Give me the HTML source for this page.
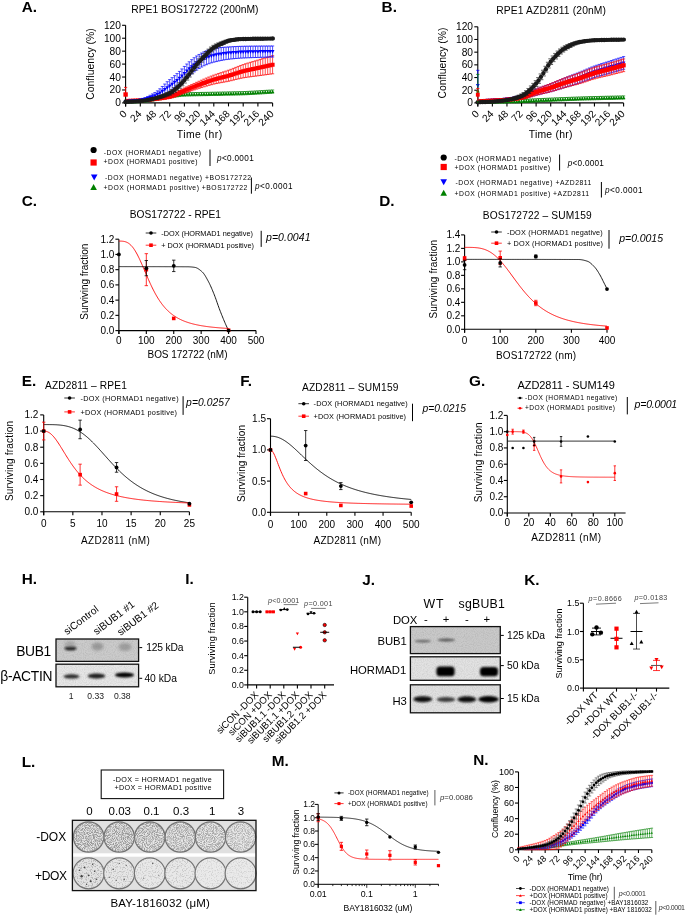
<!DOCTYPE html>
<html><head><meta charset="utf-8"><style>
html,body{margin:0;padding:0;background:#fff;width:685px;height:915px;overflow:hidden}
svg{display:block;will-change:transform}
text{font-family:"Liberation Sans", sans-serif}
</style></head><body>
<svg width="685" height="915" viewBox="0 0 685 915">
<defs>
<filter id="b1" x="-50%" y="-100%" width="200%" height="300%"><feGaussianBlur stdDeviation="0.9"/></filter>
<filter id="b2" x="-50%" y="-100%" width="200%" height="300%"><feGaussianBlur stdDeviation="1.8"/></filter>
<filter id="noise" x="0" y="0" width="100%" height="100%"><feTurbulence type="fractalNoise" baseFrequency="0.9" numOctaves="2" seed="3" result="n"/><feColorMatrix in="n" type="matrix" values="0 0 0 0 0  0 0 0 0 0  0 0 0 0 0  0 0 0 1.6 -0.6"/></filter>
<filter id="speck" x="0" y="0" width="100%" height="100%"><feTurbulence type="fractalNoise" baseFrequency="1.1" numOctaves="3" seed="7" result="n"/><feColorMatrix in="n" type="matrix" values="0 0 0 0 0.3  0 0 0 0 0.3  0 0 0 0 0.3  0 0 0 3.2 -1.15" result="m"/><feComposite in="m" in2="SourceGraphic" operator="in"/></filter>
<filter id="speck2" x="0" y="0" width="100%" height="100%"><feTurbulence type="fractalNoise" baseFrequency="0.8" numOctaves="2" seed="11" result="n"/><feColorMatrix in="n" type="matrix" values="0 0 0 0 0.4  0 0 0 0 0.4  0 0 0 0 0.4  0 0 0 4.5 -2.2" result="m"/><feComposite in="m" in2="SourceGraphic" operator="in"/></filter>
</defs>
<rect width="685" height="915" fill="#fff"/>
<text x="21.70" y="11.73" font-size="15.3" font-weight="bold">A.</text>
<line x1="125.60" y1="25.30" x2="125.60" y2="106.40" stroke="#000" stroke-width="1.1" />
<line x1="122.10" y1="102.90" x2="125.60" y2="102.90" stroke="#000" stroke-width="1.1" />
<text x="120.90" y="106.41" font-size="10.2" text-anchor="end">0</text>
<line x1="122.10" y1="89.97" x2="125.60" y2="89.97" stroke="#000" stroke-width="1.1" />
<text x="120.90" y="93.48" font-size="10.2" text-anchor="end">20</text>
<line x1="122.10" y1="77.03" x2="125.60" y2="77.03" stroke="#000" stroke-width="1.1" />
<text x="120.90" y="80.54" font-size="10.2" text-anchor="end">40</text>
<line x1="122.10" y1="64.10" x2="125.60" y2="64.10" stroke="#000" stroke-width="1.1" />
<text x="120.90" y="67.61" font-size="10.2" text-anchor="end">60</text>
<line x1="122.10" y1="51.17" x2="125.60" y2="51.17" stroke="#000" stroke-width="1.1" />
<text x="120.90" y="54.68" font-size="10.2" text-anchor="end">80</text>
<line x1="122.10" y1="38.23" x2="125.60" y2="38.23" stroke="#000" stroke-width="1.1" />
<text x="120.90" y="41.74" font-size="10.2" text-anchor="end">100</text>
<line x1="122.10" y1="25.30" x2="125.60" y2="25.30" stroke="#000" stroke-width="1.1" />
<text x="120.90" y="28.81" font-size="10.2" text-anchor="end">120</text>
<line x1="125.60" y1="102.90" x2="272.60" y2="102.90" stroke="#000" stroke-width="1.1" />
<line x1="125.60" y1="102.90" x2="125.60" y2="106.40" stroke="#000" stroke-width="1.1" />
<text x="127.60" y="114.50" font-size="10.2" text-anchor="end" transform="rotate(-45 127.60 114.50)">0</text>
<line x1="140.30" y1="102.90" x2="140.30" y2="106.40" stroke="#000" stroke-width="1.1" />
<text x="142.30" y="114.50" font-size="10.2" text-anchor="end" transform="rotate(-45 142.30 114.50)">24</text>
<line x1="155.00" y1="102.90" x2="155.00" y2="106.40" stroke="#000" stroke-width="1.1" />
<text x="157.00" y="114.50" font-size="10.2" text-anchor="end" transform="rotate(-45 157.00 114.50)">48</text>
<line x1="169.70" y1="102.90" x2="169.70" y2="106.40" stroke="#000" stroke-width="1.1" />
<text x="171.70" y="114.50" font-size="10.2" text-anchor="end" transform="rotate(-45 171.70 114.50)">72</text>
<line x1="184.40" y1="102.90" x2="184.40" y2="106.40" stroke="#000" stroke-width="1.1" />
<text x="186.40" y="114.50" font-size="10.2" text-anchor="end" transform="rotate(-45 186.40 114.50)">96</text>
<line x1="199.10" y1="102.90" x2="199.10" y2="106.40" stroke="#000" stroke-width="1.1" />
<text x="201.10" y="114.50" font-size="10.2" text-anchor="end" transform="rotate(-45 201.10 114.50)">120</text>
<line x1="213.80" y1="102.90" x2="213.80" y2="106.40" stroke="#000" stroke-width="1.1" />
<text x="215.80" y="114.50" font-size="10.2" text-anchor="end" transform="rotate(-45 215.80 114.50)">144</text>
<line x1="228.50" y1="102.90" x2="228.50" y2="106.40" stroke="#000" stroke-width="1.1" />
<text x="230.50" y="114.50" font-size="10.2" text-anchor="end" transform="rotate(-45 230.50 114.50)">168</text>
<line x1="243.20" y1="102.90" x2="243.20" y2="106.40" stroke="#000" stroke-width="1.1" />
<text x="245.20" y="114.50" font-size="10.2" text-anchor="end" transform="rotate(-45 245.20 114.50)">192</text>
<line x1="257.90" y1="102.90" x2="257.90" y2="106.40" stroke="#000" stroke-width="1.1" />
<text x="259.90" y="114.50" font-size="10.2" text-anchor="end" transform="rotate(-45 259.90 114.50)">216</text>
<line x1="272.60" y1="102.90" x2="272.60" y2="106.40" stroke="#000" stroke-width="1.1" />
<text x="274.60" y="114.50" font-size="10.2" text-anchor="end" transform="rotate(-45 274.60 114.50)">240</text>
<text x="131.20" y="12.94" font-size="10.3" textLength="127.30">RPE1 BOS172722 (200nM)</text>
<text x="93.60" y="64.00" font-size="10.4" text-anchor="middle" textLength="71.70" fill="#000" transform="rotate(-90 93.60 64.00)">Confluency (%)</text>
<text x="176.80" y="137.88" font-size="10.4" textLength="45.30">Time  (hr)</text>
<path d="M125.60,99.99V102.90M124.00,99.99h3.20M124.00,102.90h3.20M128.05,99.89V102.90M126.45,99.89h3.20M126.45,102.90h3.20M130.50,99.80V102.90M128.90,99.80h3.20M128.90,102.90h3.20M132.95,99.71V102.90M131.35,99.71h3.20M131.35,102.90h3.20M135.40,99.61V102.84M133.80,99.61h3.20M133.80,102.84h3.20M137.85,99.49V102.72M136.25,99.49h3.20M136.25,102.72h3.20M140.30,99.34V102.58M138.70,99.34h3.20M138.70,102.58h3.20M142.75,99.14V102.37M141.15,99.14h3.20M141.15,102.37h3.20M145.20,98.86V102.09M143.60,98.86h3.20M143.60,102.09h3.20M147.65,98.53V101.76M146.05,98.53h3.20M146.05,101.76h3.20M150.10,98.16V101.40M148.50,98.16h3.20M148.50,101.40h3.20M152.55,97.78V101.01M150.95,97.78h3.20M150.95,101.01h3.20M155.00,97.40V100.64M153.40,97.40h3.20M153.40,100.64h3.20M157.45,97.01V100.24M155.85,97.01h3.20M155.85,100.24h3.20M159.90,96.57V99.80M158.30,96.57h3.20M158.30,99.80h3.20M162.35,96.11V99.34M160.75,96.11h3.20M160.75,99.34h3.20M164.80,95.65V98.88M163.20,95.65h3.20M163.20,98.88h3.20M167.25,95.21V98.45M165.65,95.21h3.20M165.65,98.45h3.20M169.70,94.82V98.05M168.10,94.82h3.20M168.10,98.05h3.20M172.15,94.43V97.66M170.55,94.43h3.20M170.55,97.66h3.20M174.60,94.03V97.26M173.00,94.03h3.20M173.00,97.26h3.20M177.05,93.64V96.88M175.45,93.64h3.20M175.45,96.88h3.20M179.50,93.30V96.54M177.90,93.30h3.20M177.90,96.54h3.20M181.95,93.04V96.27M180.35,93.04h3.20M180.35,96.27h3.20M184.40,92.88V96.11M182.80,92.88h3.20M182.80,96.11h3.20M186.85,92.78V96.02M185.25,92.78h3.20M185.25,96.02h3.20M189.30,92.70V95.94M187.70,92.70h3.20M187.70,95.94h3.20M191.75,92.64V95.87M190.15,92.64h3.20M190.15,95.87h3.20M194.20,92.58V95.81M192.60,92.58h3.20M192.60,95.81h3.20M196.65,92.53V95.76M195.05,92.53h3.20M195.05,95.76h3.20M199.10,92.48V95.72M197.50,92.48h3.20M197.50,95.72h3.20M201.55,92.44V95.68M199.95,92.44h3.20M199.95,95.68h3.20M204.00,92.40V95.64M202.40,92.40h3.20M202.40,95.64h3.20M206.45,92.37V95.60M204.85,92.37h3.20M204.85,95.60h3.20M208.90,92.32V95.56M207.30,92.32h3.20M207.30,95.56h3.20M211.35,92.28V95.51M209.75,92.28h3.20M209.75,95.51h3.20M213.80,92.23V95.46M212.20,92.23h3.20M212.20,95.46h3.20M216.25,92.18V95.41M214.65,92.18h3.20M214.65,95.41h3.20M218.70,92.13V95.36M217.10,92.13h3.20M217.10,95.36h3.20M221.15,92.08V95.31M219.55,92.08h3.20M219.55,95.31h3.20M223.60,92.03V95.27M222.00,92.03h3.20M222.00,95.27h3.20M226.05,91.99V95.22M224.45,91.99h3.20M224.45,95.22h3.20M228.50,91.94V95.17M226.90,91.94h3.20M226.90,95.17h3.20M230.95,91.89V95.13M229.35,91.89h3.20M229.35,95.13h3.20M233.40,91.84V95.07M231.80,91.84h3.20M231.80,95.07h3.20M235.85,91.78V95.02M234.25,91.78h3.20M234.25,95.02h3.20M238.30,91.72V94.96M236.70,91.72h3.20M236.70,94.96h3.20M240.75,91.66V94.89M239.15,91.66h3.20M239.15,94.89h3.20M243.20,91.58V94.82M241.60,91.58h3.20M241.60,94.82h3.20M245.65,91.50V94.73M244.05,91.50h3.20M244.05,94.73h3.20M248.10,91.39V94.63M246.50,91.39h3.20M246.50,94.63h3.20M250.55,91.28V94.51M248.95,91.28h3.20M248.95,94.51h3.20M253.00,91.15V94.38M251.40,91.15h3.20M251.40,94.38h3.20M255.45,91.01V94.24M253.85,91.01h3.20M253.85,94.24h3.20M257.90,90.86V94.09M256.30,90.86h3.20M256.30,94.09h3.20M260.35,90.71V93.94M258.75,90.71h3.20M258.75,93.94h3.20M262.80,90.56V93.79M261.20,90.56h3.20M261.20,93.79h3.20M265.25,90.40V93.64M263.65,90.40h3.20M263.65,93.64h3.20M267.70,90.25V93.49M266.10,90.25h3.20M266.10,93.49h3.20M270.15,90.11V93.34M268.55,90.11h3.20M268.55,93.34h3.20M272.60,89.97V93.20M271.00,89.97h3.20M271.00,93.20h3.20" stroke="#008000" stroke-width="0.7" fill="none" />
<path d="M123.90,103.05 L127.30,103.05 L125.60,99.91Z" fill="#008000"/>
<path d="M126.35,102.95 L129.75,102.95 L128.05,99.81Z" fill="#008000"/>
<path d="M128.80,102.86 L132.20,102.86 L130.50,99.72Z" fill="#008000"/>
<path d="M131.25,102.77 L134.65,102.77 L132.95,99.62Z" fill="#008000"/>
<path d="M133.70,102.67 L137.10,102.67 L135.40,99.52Z" fill="#008000"/>
<path d="M136.15,102.55 L139.55,102.55 L137.85,99.41Z" fill="#008000"/>
<path d="M138.60,102.41 L142.00,102.41 L140.30,99.26Z" fill="#008000"/>
<path d="M141.05,102.20 L144.45,102.20 L142.75,99.06Z" fill="#008000"/>
<path d="M143.50,101.92 L146.90,101.92 L145.20,98.78Z" fill="#008000"/>
<path d="M145.95,101.59 L149.35,101.59 L147.65,98.45Z" fill="#008000"/>
<path d="M148.40,101.22 L151.80,101.22 L150.10,98.08Z" fill="#008000"/>
<path d="M150.85,100.84 L154.25,100.84 L152.55,97.70Z" fill="#008000"/>
<path d="M153.30,100.47 L156.70,100.47 L155.00,97.32Z" fill="#008000"/>
<path d="M155.75,100.07 L159.15,100.07 L157.45,96.92Z" fill="#008000"/>
<path d="M158.20,99.63 L161.60,99.63 L159.90,96.49Z" fill="#008000"/>
<path d="M160.65,99.17 L164.05,99.17 L162.35,96.03Z" fill="#008000"/>
<path d="M163.10,98.71 L166.50,98.71 L164.80,95.57Z" fill="#008000"/>
<path d="M165.55,98.28 L168.95,98.28 L167.25,95.13Z" fill="#008000"/>
<path d="M168.00,97.88 L171.40,97.88 L169.70,94.73Z" fill="#008000"/>
<path d="M170.45,97.49 L173.85,97.49 L172.15,94.35Z" fill="#008000"/>
<path d="M172.90,97.09 L176.30,97.09 L174.60,93.95Z" fill="#008000"/>
<path d="M175.35,96.71 L178.75,96.71 L177.05,93.56Z" fill="#008000"/>
<path d="M177.80,96.37 L181.20,96.37 L179.50,93.22Z" fill="#008000"/>
<path d="M180.25,96.10 L183.65,96.10 L181.95,92.96Z" fill="#008000"/>
<path d="M182.70,95.94 L186.10,95.94 L184.40,92.79Z" fill="#008000"/>
<path d="M185.15,95.85 L188.55,95.85 L186.85,92.70Z" fill="#008000"/>
<path d="M187.60,95.77 L191.00,95.77 L189.30,92.62Z" fill="#008000"/>
<path d="M190.05,95.70 L193.45,95.70 L191.75,92.55Z" fill="#008000"/>
<path d="M192.50,95.64 L195.90,95.64 L194.20,92.50Z" fill="#008000"/>
<path d="M194.95,95.59 L198.35,95.59 L196.65,92.44Z" fill="#008000"/>
<path d="M197.40,95.55 L200.80,95.55 L199.10,92.40Z" fill="#008000"/>
<path d="M199.85,95.50 L203.25,95.50 L201.55,92.36Z" fill="#008000"/>
<path d="M202.30,95.47 L205.70,95.47 L204.00,92.32Z" fill="#008000"/>
<path d="M204.75,95.43 L208.15,95.43 L206.45,92.28Z" fill="#008000"/>
<path d="M207.20,95.39 L210.60,95.39 L208.90,92.24Z" fill="#008000"/>
<path d="M209.65,95.34 L213.05,95.34 L211.35,92.20Z" fill="#008000"/>
<path d="M212.10,95.29 L215.50,95.29 L213.80,92.15Z" fill="#008000"/>
<path d="M214.55,95.24 L217.95,95.24 L216.25,92.09Z" fill="#008000"/>
<path d="M217.00,95.19 L220.40,95.19 L218.70,92.05Z" fill="#008000"/>
<path d="M219.45,95.14 L222.85,95.14 L221.15,92.00Z" fill="#008000"/>
<path d="M221.90,95.10 L225.30,95.10 L223.60,91.95Z" fill="#008000"/>
<path d="M224.35,95.05 L227.75,95.05 L226.05,91.91Z" fill="#008000"/>
<path d="M226.80,95.00 L230.20,95.00 L228.50,91.86Z" fill="#008000"/>
<path d="M229.25,94.95 L232.65,94.95 L230.95,91.81Z" fill="#008000"/>
<path d="M231.70,94.90 L235.10,94.90 L233.40,91.76Z" fill="#008000"/>
<path d="M234.15,94.85 L237.55,94.85 L235.85,91.70Z" fill="#008000"/>
<path d="M236.60,94.78 L240.00,94.78 L238.30,91.64Z" fill="#008000"/>
<path d="M239.05,94.72 L242.45,94.72 L240.75,91.57Z" fill="#008000"/>
<path d="M241.50,94.64 L244.90,94.64 L243.20,91.50Z" fill="#008000"/>
<path d="M243.95,94.56 L247.35,94.56 L245.65,91.41Z" fill="#008000"/>
<path d="M246.40,94.46 L249.80,94.46 L248.10,91.31Z" fill="#008000"/>
<path d="M248.85,94.34 L252.25,94.34 L250.55,91.19Z" fill="#008000"/>
<path d="M251.30,94.21 L254.70,94.21 L253.00,91.06Z" fill="#008000"/>
<path d="M253.75,94.07 L257.15,94.07 L255.45,90.92Z" fill="#008000"/>
<path d="M256.20,93.92 L259.60,93.92 L257.90,90.78Z" fill="#008000"/>
<path d="M258.65,93.77 L262.05,93.77 L260.35,90.63Z" fill="#008000"/>
<path d="M261.10,93.62 L264.50,93.62 L262.80,90.47Z" fill="#008000"/>
<path d="M263.55,93.46 L266.95,93.46 L265.25,90.32Z" fill="#008000"/>
<path d="M266.00,93.31 L269.40,93.31 L267.70,90.17Z" fill="#008000"/>
<path d="M268.45,93.17 L271.85,93.17 L270.15,90.02Z" fill="#008000"/>
<path d="M270.90,93.03 L274.30,93.03 L272.60,89.88Z" fill="#008000"/>
<path d="M128.05,100.51V101.21M126.45,100.51h3.20M126.45,101.21h3.20M130.50,100.39V101.13M128.90,100.39h3.20M128.90,101.13h3.20M132.95,100.27V101.06M131.35,100.27h3.20M131.35,101.06h3.20M135.40,100.15V100.97M133.80,100.15h3.20M133.80,100.97h3.20M137.85,100.01V100.88M136.25,100.01h3.20M136.25,100.88h3.20M140.30,99.86V100.77M138.70,99.86h3.20M138.70,100.77h3.20M142.75,99.68V100.64M141.15,99.68h3.20M141.15,100.64h3.20M145.20,99.47V100.48M143.60,99.47h3.20M143.60,100.48h3.20M147.65,99.23V100.30M146.05,99.23h3.20M146.05,100.30h3.20M150.10,98.97V100.10M148.50,98.97h3.20M148.50,100.10h3.20M152.55,98.68V99.89M150.95,98.68h3.20M150.95,99.89h3.20M155.00,98.37V99.67M153.40,98.37h3.20M153.40,99.67h3.20M157.45,98.03V99.45M155.85,98.03h3.20M155.85,99.45h3.20M159.90,97.62V99.24M158.30,97.62h3.20M158.30,99.24h3.20M162.35,97.16V99.03M160.75,97.16h3.20M160.75,99.03h3.20M164.80,96.62V98.80M163.20,96.62h3.20M163.20,98.80h3.20M167.25,96.01V98.53M165.65,96.01h3.20M165.65,98.53h3.20M169.70,95.31V98.20M168.10,95.31h3.20M168.10,98.20h3.20M172.15,94.42V97.70M170.55,94.42h3.20M170.55,97.70h3.20M174.60,93.28V96.95M173.00,93.28h3.20M173.00,96.95h3.20M177.05,91.98V96.06M175.45,91.98h3.20M175.45,96.06h3.20M179.50,90.62V95.08M177.90,90.62h3.20M177.90,95.08h3.20M181.95,89.27V94.10M180.35,89.27h3.20M180.35,94.10h3.20M184.40,88.03V93.20M182.80,88.03h3.20M182.80,93.20h3.20M186.85,86.87V92.36M185.25,86.87h3.20M185.25,92.36h3.20M189.30,85.72V91.53M187.70,85.72h3.20M187.70,91.53h3.20M191.75,84.58V90.71M190.15,84.58h3.20M190.15,90.71h3.20M194.20,83.45V89.89M192.60,83.45h3.20M192.60,89.89h3.20M196.65,82.34V89.10M195.05,82.34h3.20M195.05,89.10h3.20M199.10,81.26V88.33M197.50,81.26h3.20M197.50,88.33h3.20M201.55,80.19V87.57M199.95,80.19h3.20M199.95,87.57h3.20M204.00,79.12V86.82M202.40,79.12h3.20M202.40,86.82h3.20M206.45,78.07V86.08M204.85,78.07h3.20M204.85,86.08h3.20M208.90,77.05V85.38M207.30,77.05h3.20M207.30,85.38h3.20M211.35,76.07V84.71M209.75,76.07h3.20M209.75,84.71h3.20M213.80,75.14V84.10M212.20,75.14h3.20M212.20,84.10h3.20M216.25,74.27V83.56M214.65,74.27h3.20M214.65,83.56h3.20M218.70,73.46V83.08M217.10,73.46h3.20M217.10,83.08h3.20M221.15,72.67V82.63M219.55,72.67h3.20M219.55,82.63h3.20M223.60,71.89V82.18M222.00,71.89h3.20M222.00,82.18h3.20M226.05,71.09V81.73M224.45,71.09h3.20M224.45,81.73h3.20M228.50,70.24V81.24M226.90,70.24h3.20M226.90,81.24h3.20M230.95,69.33V80.69M229.35,69.33h3.20M229.35,80.69h3.20M233.40,68.37V80.09M231.80,68.37h3.20M231.80,80.09h3.20M235.85,67.38V79.47M234.25,67.38h3.20M234.25,79.47h3.20M238.30,66.40V78.88M236.70,66.40h3.20M236.70,78.88h3.20M240.75,65.46V78.32M239.15,65.46h3.20M239.15,78.32h3.20M243.20,64.58V77.84M241.60,64.58h3.20M241.60,77.84h3.20M245.65,63.78V77.44M244.05,63.78h3.20M244.05,77.44h3.20M248.10,63.03V77.08M246.50,63.03h3.20M246.50,77.08h3.20M250.55,62.30V76.76M248.95,62.30h3.20M248.95,76.76h3.20M253.00,61.58V76.45M251.40,61.58h3.20M251.40,76.45h3.20M255.45,60.87V76.14M253.85,60.87h3.20M253.85,76.14h3.20M257.90,60.14V75.82M256.30,60.14h3.20M256.30,75.82h3.20M260.35,59.40V75.49M258.75,59.40h3.20M258.75,75.49h3.20M262.80,58.65V75.15M261.20,58.65h3.20M261.20,75.15h3.20M265.25,57.91V74.82M263.65,57.91h3.20M263.65,74.82h3.20M267.70,57.17V74.48M266.10,57.17h3.20M266.10,74.48h3.20M270.15,56.43V74.14M268.55,56.43h3.20M268.55,74.14h3.20M272.60,55.69V73.80M271.00,55.69h3.20M271.00,73.80h3.20" stroke="#ff0000" stroke-width="0.7" fill="none" />
<rect x="126.05" y="98.86" width="4.00" height="4.00" fill="#ff0000"/>
<rect x="128.50" y="98.76" width="4.00" height="4.00" fill="#ff0000"/>
<rect x="130.95" y="98.66" width="4.00" height="4.00" fill="#ff0000"/>
<rect x="133.40" y="98.56" width="4.00" height="4.00" fill="#ff0000"/>
<rect x="135.85" y="98.45" width="4.00" height="4.00" fill="#ff0000"/>
<rect x="138.30" y="98.31" width="4.00" height="4.00" fill="#ff0000"/>
<rect x="140.75" y="98.16" width="4.00" height="4.00" fill="#ff0000"/>
<rect x="143.20" y="97.97" width="4.00" height="4.00" fill="#ff0000"/>
<rect x="145.65" y="97.76" width="4.00" height="4.00" fill="#ff0000"/>
<rect x="148.10" y="97.54" width="4.00" height="4.00" fill="#ff0000"/>
<rect x="150.55" y="97.29" width="4.00" height="4.00" fill="#ff0000"/>
<rect x="153.00" y="97.02" width="4.00" height="4.00" fill="#ff0000"/>
<rect x="155.45" y="96.74" width="4.00" height="4.00" fill="#ff0000"/>
<rect x="157.90" y="96.43" width="4.00" height="4.00" fill="#ff0000"/>
<rect x="160.35" y="96.10" width="4.00" height="4.00" fill="#ff0000"/>
<rect x="162.80" y="95.71" width="4.00" height="4.00" fill="#ff0000"/>
<rect x="165.25" y="95.27" width="4.00" height="4.00" fill="#ff0000"/>
<rect x="167.70" y="94.76" width="4.00" height="4.00" fill="#ff0000"/>
<rect x="170.15" y="94.06" width="4.00" height="4.00" fill="#ff0000"/>
<rect x="172.60" y="93.12" width="4.00" height="4.00" fill="#ff0000"/>
<rect x="175.05" y="92.02" width="4.00" height="4.00" fill="#ff0000"/>
<rect x="177.50" y="90.85" width="4.00" height="4.00" fill="#ff0000"/>
<rect x="179.95" y="89.68" width="4.00" height="4.00" fill="#ff0000"/>
<rect x="182.40" y="88.61" width="4.00" height="4.00" fill="#ff0000"/>
<rect x="184.85" y="87.62" width="4.00" height="4.00" fill="#ff0000"/>
<rect x="187.30" y="86.62" width="4.00" height="4.00" fill="#ff0000"/>
<rect x="189.75" y="85.64" width="4.00" height="4.00" fill="#ff0000"/>
<rect x="192.20" y="84.67" width="4.00" height="4.00" fill="#ff0000"/>
<rect x="194.65" y="83.72" width="4.00" height="4.00" fill="#ff0000"/>
<rect x="197.10" y="82.79" width="4.00" height="4.00" fill="#ff0000"/>
<rect x="199.55" y="81.88" width="4.00" height="4.00" fill="#ff0000"/>
<rect x="202.00" y="80.97" width="4.00" height="4.00" fill="#ff0000"/>
<rect x="204.45" y="80.08" width="4.00" height="4.00" fill="#ff0000"/>
<rect x="206.90" y="79.21" width="4.00" height="4.00" fill="#ff0000"/>
<rect x="209.35" y="78.39" width="4.00" height="4.00" fill="#ff0000"/>
<rect x="211.80" y="77.62" width="4.00" height="4.00" fill="#ff0000"/>
<rect x="214.25" y="76.92" width="4.00" height="4.00" fill="#ff0000"/>
<rect x="216.70" y="76.27" width="4.00" height="4.00" fill="#ff0000"/>
<rect x="219.15" y="75.65" width="4.00" height="4.00" fill="#ff0000"/>
<rect x="221.60" y="75.04" width="4.00" height="4.00" fill="#ff0000"/>
<rect x="224.05" y="74.41" width="4.00" height="4.00" fill="#ff0000"/>
<rect x="226.50" y="73.74" width="4.00" height="4.00" fill="#ff0000"/>
<rect x="228.95" y="73.01" width="4.00" height="4.00" fill="#ff0000"/>
<rect x="231.40" y="72.23" width="4.00" height="4.00" fill="#ff0000"/>
<rect x="233.85" y="71.43" width="4.00" height="4.00" fill="#ff0000"/>
<rect x="236.30" y="70.64" width="4.00" height="4.00" fill="#ff0000"/>
<rect x="238.75" y="69.89" width="4.00" height="4.00" fill="#ff0000"/>
<rect x="241.20" y="69.21" width="4.00" height="4.00" fill="#ff0000"/>
<rect x="243.65" y="68.61" width="4.00" height="4.00" fill="#ff0000"/>
<rect x="246.10" y="68.06" width="4.00" height="4.00" fill="#ff0000"/>
<rect x="248.55" y="67.53" width="4.00" height="4.00" fill="#ff0000"/>
<rect x="251.00" y="67.02" width="4.00" height="4.00" fill="#ff0000"/>
<rect x="253.45" y="66.51" width="4.00" height="4.00" fill="#ff0000"/>
<rect x="255.90" y="65.98" width="4.00" height="4.00" fill="#ff0000"/>
<rect x="258.35" y="65.44" width="4.00" height="4.00" fill="#ff0000"/>
<rect x="260.80" y="64.90" width="4.00" height="4.00" fill="#ff0000"/>
<rect x="263.25" y="64.36" width="4.00" height="4.00" fill="#ff0000"/>
<rect x="265.70" y="63.82" width="4.00" height="4.00" fill="#ff0000"/>
<rect x="268.15" y="63.29" width="4.00" height="4.00" fill="#ff0000"/>
<rect x="270.60" y="62.75" width="4.00" height="4.00" fill="#ff0000"/>
<path d="M125.60,100.96V102.25M124.00,100.96h3.20M124.00,102.25h3.20M128.05,100.66V102.15M126.45,100.66h3.20M126.45,102.15h3.20M130.50,100.39V102.07M128.90,100.39h3.20M128.90,102.07h3.20M132.95,100.12V101.98M131.35,100.12h3.20M131.35,101.98h3.20M135.40,99.82V101.88M133.80,99.82h3.20M133.80,101.88h3.20M137.85,99.46V101.76M136.25,99.46h3.20M136.25,101.76h3.20M140.30,99.02V101.61M138.70,99.02h3.20M138.70,101.61h3.20M142.75,98.39V101.38M141.15,98.39h3.20M141.15,101.38h3.20M145.20,97.54V101.06M143.60,97.54h3.20M143.60,101.06h3.20M147.65,96.49V100.65M146.05,96.49h3.20M146.05,100.65h3.20M150.10,95.28V100.17M148.50,95.28h3.20M148.50,100.17h3.20M152.55,93.96V99.62M150.95,93.96h3.20M150.95,99.62h3.20M155.00,92.55V99.02M153.40,92.55h3.20M153.40,99.02h3.20M157.45,90.87V98.33M155.85,90.87h3.20M155.85,98.33h3.20M159.90,88.79V97.49M158.30,88.79h3.20M158.30,97.49h3.20M162.35,86.46V96.50M160.75,86.46h3.20M160.75,96.50h3.20M164.80,84.06V95.35M163.20,84.06h3.20M163.20,95.35h3.20M167.25,81.72V94.04M165.65,81.72h3.20M165.65,94.04h3.20M169.70,79.62V92.55M168.10,79.62h3.20M168.10,92.55h3.20M172.15,77.67V90.95M170.55,77.67h3.20M170.55,90.95h3.20M174.60,75.67V89.26M173.00,75.67h3.20M173.00,89.26h3.20M177.05,73.60V87.45M175.45,73.60h3.20M175.45,87.45h3.20M179.50,71.40V85.46M177.90,71.40h3.20M177.90,85.46h3.20M181.95,68.97V83.15M180.35,68.97h3.20M180.35,83.15h3.20M184.40,66.43V80.66M182.80,66.43h3.20M182.80,80.66h3.20M186.85,64.02V78.24M185.25,64.02h3.20M185.25,78.24h3.20M189.30,61.81V76.02M187.70,61.81h3.20M187.70,76.02h3.20M191.75,59.68V73.86M190.15,59.68h3.20M190.15,73.86h3.20M194.20,57.71V71.85M192.60,57.71h3.20M192.60,71.85h3.20M196.65,56.00V70.09M195.05,56.00h3.20M195.05,70.09h3.20M199.10,54.46V68.51M197.50,54.46h3.20M197.50,68.51h3.20M201.55,53.08V67.06M199.95,53.08h3.20M199.95,67.06h3.20M204.00,51.87V65.78M202.40,51.87h3.20M202.40,65.78h3.20M206.45,50.85V64.69M204.85,50.85h3.20M204.85,64.69h3.20M208.90,49.95V63.70M207.30,49.95h3.20M207.30,63.70h3.20M211.35,49.17V62.84M209.75,49.17h3.20M209.75,62.84h3.20M213.80,48.58V62.16M212.20,48.58h3.20M212.20,62.16h3.20M216.25,48.14V61.58M214.65,48.14h3.20M214.65,61.58h3.20M218.70,47.80V61.01M217.10,47.80h3.20M217.10,61.01h3.20M221.15,47.53V60.48M219.55,47.53h3.20M219.55,60.48h3.20M223.60,47.31V60.00M222.00,47.31h3.20M222.00,60.00h3.20M226.05,47.13V59.58M224.45,47.13h3.20M224.45,59.58h3.20M228.50,46.96V59.25M226.90,46.96h3.20M226.90,59.25h3.20M230.95,46.80V58.98M229.35,46.80h3.20M229.35,58.98h3.20M233.40,46.66V58.73M231.80,46.66h3.20M231.80,58.73h3.20M235.85,46.53V58.50M234.25,46.53h3.20M234.25,58.50h3.20M238.30,46.42V58.31M236.70,46.42h3.20M236.70,58.31h3.20M240.75,46.33V58.14M239.15,46.33h3.20M239.15,58.14h3.20M243.20,46.27V58.00M241.60,46.27h3.20M241.60,58.00h3.20M245.65,46.22V57.89M244.05,46.22h3.20M244.05,57.89h3.20M248.10,46.19V57.78M246.50,46.19h3.20M246.50,57.78h3.20M250.55,46.15V57.69M248.95,46.15h3.20M248.95,57.69h3.20M253.00,46.13V57.60M251.40,46.13h3.20M251.40,57.60h3.20M255.45,46.10V57.52M253.85,46.10h3.20M253.85,57.52h3.20M257.90,46.08V57.45M256.30,46.08h3.20M256.30,57.45h3.20M260.35,46.07V57.37M258.75,46.07h3.20M258.75,57.37h3.20M262.80,46.05V57.30M261.20,46.05h3.20M261.20,57.30h3.20M265.25,46.04V57.23M263.65,46.04h3.20M263.65,57.23h3.20M267.70,46.02V57.15M266.10,46.02h3.20M266.10,57.15h3.20M270.15,46.01V57.07M268.55,46.01h3.20M268.55,57.07h3.20M272.60,45.99V56.99M271.00,45.99h3.20M271.00,56.99h3.20" stroke="#0000ff" stroke-width="0.7" fill="none" />
<path d="M123.70,99.99 L127.50,99.99 L125.60,103.51Z" fill="#0000ff"/>
<path d="M126.15,99.79 L129.95,99.79 L128.05,103.31Z" fill="#0000ff"/>
<path d="M128.60,99.61 L132.40,99.61 L130.50,103.13Z" fill="#0000ff"/>
<path d="M131.05,99.43 L134.85,99.43 L132.95,102.95Z" fill="#0000ff"/>
<path d="M133.50,99.24 L137.30,99.24 L135.40,102.75Z" fill="#0000ff"/>
<path d="M135.95,99.00 L139.75,99.00 L137.85,102.51Z" fill="#0000ff"/>
<path d="M138.40,98.70 L142.20,98.70 L140.30,102.21Z" fill="#0000ff"/>
<path d="M140.85,98.27 L144.65,98.27 L142.75,101.79Z" fill="#0000ff"/>
<path d="M143.30,97.68 L147.10,97.68 L145.20,101.20Z" fill="#0000ff"/>
<path d="M145.75,96.96 L149.55,96.96 L147.65,100.47Z" fill="#0000ff"/>
<path d="M148.20,96.11 L152.00,96.11 L150.10,99.63Z" fill="#0000ff"/>
<path d="M150.65,95.17 L154.45,95.17 L152.55,98.69Z" fill="#0000ff"/>
<path d="M153.10,94.17 L156.90,94.17 L155.00,97.69Z" fill="#0000ff"/>
<path d="M155.55,92.98 L159.35,92.98 L157.45,96.50Z" fill="#0000ff"/>
<path d="M158.00,91.52 L161.80,91.52 L159.90,95.04Z" fill="#0000ff"/>
<path d="M160.45,89.87 L164.25,89.87 L162.35,93.38Z" fill="#0000ff"/>
<path d="M162.90,88.09 L166.70,88.09 L164.80,91.61Z" fill="#0000ff"/>
<path d="M165.35,86.27 L169.15,86.27 L167.25,89.78Z" fill="#0000ff"/>
<path d="M167.80,84.47 L171.60,84.47 L169.70,87.99Z" fill="#0000ff"/>
<path d="M170.25,82.69 L174.05,82.69 L172.15,86.21Z" fill="#0000ff"/>
<path d="M172.70,80.85 L176.50,80.85 L174.60,84.37Z" fill="#0000ff"/>
<path d="M175.15,78.91 L178.95,78.91 L177.05,82.42Z" fill="#0000ff"/>
<path d="M177.60,76.81 L181.40,76.81 L179.50,80.33Z" fill="#0000ff"/>
<path d="M180.05,74.44 L183.85,74.44 L181.95,77.96Z" fill="#0000ff"/>
<path d="M182.50,71.93 L186.30,71.93 L184.40,75.45Z" fill="#0000ff"/>
<path d="M184.95,69.51 L188.75,69.51 L186.85,73.03Z" fill="#0000ff"/>
<path d="M187.40,67.30 L191.20,67.30 L189.30,70.82Z" fill="#0000ff"/>
<path d="M189.85,65.15 L193.65,65.15 L191.75,68.67Z" fill="#0000ff"/>
<path d="M192.30,63.16 L196.10,63.16 L194.20,66.68Z" fill="#0000ff"/>
<path d="M194.75,61.43 L198.55,61.43 L196.65,64.94Z" fill="#0000ff"/>
<path d="M197.20,59.87 L201.00,59.87 L199.10,63.38Z" fill="#0000ff"/>
<path d="M199.65,58.45 L203.45,58.45 L201.55,61.97Z" fill="#0000ff"/>
<path d="M202.10,57.21 L205.90,57.21 L204.00,60.72Z" fill="#0000ff"/>
<path d="M204.55,56.16 L208.35,56.16 L206.45,59.67Z" fill="#0000ff"/>
<path d="M207.00,55.21 L210.80,55.21 L208.90,58.73Z" fill="#0000ff"/>
<path d="M209.45,54.39 L213.25,54.39 L211.35,57.91Z" fill="#0000ff"/>
<path d="M211.90,53.75 L215.70,53.75 L213.80,57.27Z" fill="#0000ff"/>
<path d="M214.35,53.25 L218.15,53.25 L216.25,56.76Z" fill="#0000ff"/>
<path d="M216.80,52.79 L220.60,52.79 L218.70,56.31Z" fill="#0000ff"/>
<path d="M219.25,52.39 L223.05,52.39 L221.15,55.91Z" fill="#0000ff"/>
<path d="M221.70,52.04 L225.50,52.04 L223.60,55.56Z" fill="#0000ff"/>
<path d="M224.15,51.74 L227.95,51.74 L226.05,55.26Z" fill="#0000ff"/>
<path d="M226.60,51.49 L230.40,51.49 L228.50,55.01Z" fill="#0000ff"/>
<path d="M229.05,51.27 L232.85,51.27 L230.95,54.79Z" fill="#0000ff"/>
<path d="M231.50,51.08 L235.30,51.08 L233.40,54.59Z" fill="#0000ff"/>
<path d="M233.95,50.90 L237.75,50.90 L235.85,54.42Z" fill="#0000ff"/>
<path d="M236.40,50.75 L240.20,50.75 L238.30,54.26Z" fill="#0000ff"/>
<path d="M238.85,50.62 L242.65,50.62 L240.75,54.14Z" fill="#0000ff"/>
<path d="M241.30,50.52 L245.10,50.52 L243.20,54.04Z" fill="#0000ff"/>
<path d="M243.75,50.44 L247.55,50.44 L245.65,53.96Z" fill="#0000ff"/>
<path d="M246.20,50.37 L250.00,50.37 L248.10,53.88Z" fill="#0000ff"/>
<path d="M248.65,50.31 L252.45,50.31 L250.55,53.82Z" fill="#0000ff"/>
<path d="M251.10,50.25 L254.90,50.25 L253.00,53.76Z" fill="#0000ff"/>
<path d="M253.55,50.20 L257.35,50.20 L255.45,53.71Z" fill="#0000ff"/>
<path d="M256.00,50.15 L259.80,50.15 L257.90,53.67Z" fill="#0000ff"/>
<path d="M258.45,50.11 L262.25,50.11 L260.35,53.62Z" fill="#0000ff"/>
<path d="M260.90,50.06 L264.70,50.06 L262.80,53.58Z" fill="#0000ff"/>
<path d="M263.35,50.02 L267.15,50.02 L265.25,53.53Z" fill="#0000ff"/>
<path d="M265.80,49.97 L269.60,49.97 L267.70,53.49Z" fill="#0000ff"/>
<path d="M268.25,49.93 L272.05,49.93 L270.15,53.44Z" fill="#0000ff"/>
<path d="M270.70,49.88 L274.50,49.88 L272.60,53.39Z" fill="#0000ff"/>
<path d="M125.60,101.61V102.25M123.20,101.61h4.80M123.20,102.25h4.80M128.05,101.40V102.15M125.65,101.40h4.80M125.65,102.15h4.80M130.50,101.22V102.06M128.10,101.22h4.80M128.10,102.06h4.80M132.95,101.03V101.97M130.55,101.03h4.80M130.55,101.97h4.80M135.40,100.84V101.86M133.00,100.84h4.80M133.00,101.86h4.80M137.85,100.62V101.73M135.45,100.62h4.80M135.45,101.73h4.80M140.30,100.36V101.56M137.90,100.36h4.80M137.90,101.56h4.80M142.75,100.04V101.33M140.35,100.04h4.80M140.35,101.33h4.80M145.20,99.64V101.03M142.80,99.64h4.80M142.80,101.03h4.80M147.65,99.17V100.68M145.25,99.17h4.80M145.25,100.68h4.80M150.10,98.63V100.27M147.70,98.63h4.80M147.70,100.27h4.80M152.55,98.04V99.82M150.15,98.04h4.80M150.15,99.82h4.80M155.00,97.40V99.34M152.60,97.40h4.80M152.60,99.34h4.80M157.45,96.68V98.84M155.05,96.68h4.80M155.05,98.84h4.80M159.90,95.84V98.29M157.50,95.84h4.80M157.50,98.29h4.80M162.35,94.87V97.67M159.95,94.87h4.80M159.95,97.67h4.80M164.80,93.79V96.95M162.40,93.79h4.80M162.40,96.95h4.80M167.25,92.58V96.12M164.85,92.58h4.80M164.85,96.12h4.80M169.70,91.26V95.14M167.30,91.26h4.80M167.30,95.14h4.80M172.15,89.61V93.86M169.75,89.61h4.80M169.75,93.86h4.80M174.60,87.54V92.22M172.20,87.54h4.80M172.20,92.22h4.80M177.05,85.22V90.31M174.65,85.22h4.80M174.65,90.31h4.80M179.50,82.78V88.24M177.10,82.78h4.80M177.10,88.24h4.80M181.95,80.08V85.80M179.55,80.08h4.80M179.55,85.80h4.80M184.40,77.18V83.00M182.00,77.18h4.80M182.00,83.00h4.80M186.85,74.22V80.04M184.45,74.22h4.80M184.45,80.04h4.80M189.30,71.18V77.00M186.90,71.18h4.80M186.90,77.00h4.80M191.75,67.96V73.78M189.35,67.96h4.80M189.35,73.78h4.80M194.20,64.75V70.57M191.80,64.75h4.80M191.80,70.57h4.80M196.65,61.76V67.58M194.25,61.76h4.80M194.25,67.58h4.80M199.10,58.95V64.77M196.70,58.95h4.80M196.70,64.77h4.80M201.55,56.28V62.05M199.15,56.28h4.80M199.15,62.05h4.80M204.00,53.80V59.40M201.60,53.80h4.80M201.60,59.40h4.80M206.45,51.47V56.83M204.05,51.47h4.80M204.05,56.83h4.80M208.90,49.17V54.27M206.50,49.17h4.80M206.50,54.27h4.80M211.35,47.07V51.87M208.95,47.07h4.80M208.95,51.87h4.80M213.80,45.35V49.87M211.40,45.35h4.80M211.40,49.87h4.80M216.25,44.02V48.24M213.85,44.02h4.80M213.85,48.24h4.80M218.70,42.94V46.79M216.30,42.94h4.80M216.30,46.79h4.80M221.15,42.01V45.47M218.75,42.01h4.80M218.75,45.47h4.80M223.60,41.13V44.22M221.20,41.13h4.80M221.20,44.22h4.80M226.05,40.23V43.02M223.65,40.23h4.80M223.65,43.02h4.80M228.50,39.48V42.07M226.10,39.48h4.80M226.10,42.07h4.80M230.95,39.05V41.51M228.55,39.05h4.80M228.55,41.51h4.80M233.40,38.72V41.07M231.00,38.72h4.80M231.00,41.07h4.80M235.85,38.45V40.70M233.45,38.45h4.80M233.45,40.70h4.80M238.30,38.23V40.39M235.90,38.23h4.80M235.90,40.39h4.80M240.75,38.09V40.16M238.35,38.09h4.80M238.35,40.16h4.80M243.20,38.01V40.01M240.80,38.01h4.80M240.80,40.01h4.80M245.65,37.98V39.91M243.25,37.98h4.80M243.25,39.91h4.80M248.10,37.95V39.82M245.70,37.95h4.80M245.70,39.82h4.80M250.55,37.93V39.74M248.15,37.93h4.80M248.15,39.74h4.80M253.00,37.92V39.67M250.60,37.92h4.80M250.60,39.67h4.80M255.45,37.91V39.61M253.05,37.91h4.80M253.05,39.61h4.80M257.90,37.91V39.55M255.50,37.91h4.80M255.50,39.55h4.80M260.35,37.91V39.50M257.95,37.91h4.80M257.95,39.50h4.80M262.80,37.91V39.45M260.40,37.91h4.80M260.40,39.45h4.80M265.25,37.91V39.39M262.85,37.91h4.80M262.85,39.39h4.80M267.70,37.91V39.33M265.30,37.91h4.80M265.30,39.33h4.80M270.15,37.91V39.27M267.75,37.91h4.80M267.75,39.27h4.80M272.60,37.91V39.20M270.20,37.91h4.80M270.20,39.20h4.80" stroke="#1a1a1a" stroke-width="0.7" fill="none" />
<circle cx="125.60" cy="101.93" r="2.20" fill="#1a1a1a"/>
<circle cx="128.05" cy="101.78" r="2.20" fill="#1a1a1a"/>
<circle cx="130.50" cy="101.64" r="2.20" fill="#1a1a1a"/>
<circle cx="132.95" cy="101.50" r="2.20" fill="#1a1a1a"/>
<circle cx="135.40" cy="101.35" r="2.20" fill="#1a1a1a"/>
<circle cx="137.85" cy="101.17" r="2.20" fill="#1a1a1a"/>
<circle cx="140.30" cy="100.96" r="2.20" fill="#1a1a1a"/>
<circle cx="142.75" cy="100.68" r="2.20" fill="#1a1a1a"/>
<circle cx="145.20" cy="100.34" r="2.20" fill="#1a1a1a"/>
<circle cx="147.65" cy="99.92" r="2.20" fill="#1a1a1a"/>
<circle cx="150.10" cy="99.45" r="2.20" fill="#1a1a1a"/>
<circle cx="152.55" cy="98.93" r="2.20" fill="#1a1a1a"/>
<circle cx="155.00" cy="98.37" r="2.20" fill="#1a1a1a"/>
<circle cx="157.45" cy="97.76" r="2.20" fill="#1a1a1a"/>
<circle cx="159.90" cy="97.06" r="2.20" fill="#1a1a1a"/>
<circle cx="162.35" cy="96.27" r="2.20" fill="#1a1a1a"/>
<circle cx="164.80" cy="95.37" r="2.20" fill="#1a1a1a"/>
<circle cx="167.25" cy="94.35" r="2.20" fill="#1a1a1a"/>
<circle cx="169.70" cy="93.20" r="2.20" fill="#1a1a1a"/>
<circle cx="172.15" cy="91.74" r="2.20" fill="#1a1a1a"/>
<circle cx="174.60" cy="89.88" r="2.20" fill="#1a1a1a"/>
<circle cx="177.05" cy="87.76" r="2.20" fill="#1a1a1a"/>
<circle cx="179.50" cy="85.51" r="2.20" fill="#1a1a1a"/>
<circle cx="181.95" cy="82.94" r="2.20" fill="#1a1a1a"/>
<circle cx="184.40" cy="80.09" r="2.20" fill="#1a1a1a"/>
<circle cx="186.85" cy="77.13" r="2.20" fill="#1a1a1a"/>
<circle cx="189.30" cy="74.09" r="2.20" fill="#1a1a1a"/>
<circle cx="191.75" cy="70.87" r="2.20" fill="#1a1a1a"/>
<circle cx="194.20" cy="67.66" r="2.20" fill="#1a1a1a"/>
<circle cx="196.65" cy="64.67" r="2.20" fill="#1a1a1a"/>
<circle cx="199.10" cy="61.86" r="2.20" fill="#1a1a1a"/>
<circle cx="201.55" cy="59.16" r="2.20" fill="#1a1a1a"/>
<circle cx="204.00" cy="56.60" r="2.20" fill="#1a1a1a"/>
<circle cx="206.45" cy="54.15" r="2.20" fill="#1a1a1a"/>
<circle cx="208.90" cy="51.72" r="2.20" fill="#1a1a1a"/>
<circle cx="211.35" cy="49.47" r="2.20" fill="#1a1a1a"/>
<circle cx="213.80" cy="47.61" r="2.20" fill="#1a1a1a"/>
<circle cx="216.25" cy="46.13" r="2.20" fill="#1a1a1a"/>
<circle cx="218.70" cy="44.87" r="2.20" fill="#1a1a1a"/>
<circle cx="221.15" cy="43.74" r="2.20" fill="#1a1a1a"/>
<circle cx="223.60" cy="42.68" r="2.20" fill="#1a1a1a"/>
<circle cx="226.05" cy="41.63" r="2.20" fill="#1a1a1a"/>
<circle cx="228.50" cy="40.78" r="2.20" fill="#1a1a1a"/>
<circle cx="230.95" cy="40.28" r="2.20" fill="#1a1a1a"/>
<circle cx="233.40" cy="39.90" r="2.20" fill="#1a1a1a"/>
<circle cx="235.85" cy="39.57" r="2.20" fill="#1a1a1a"/>
<circle cx="238.30" cy="39.31" r="2.20" fill="#1a1a1a"/>
<circle cx="240.75" cy="39.12" r="2.20" fill="#1a1a1a"/>
<circle cx="243.20" cy="39.01" r="2.20" fill="#1a1a1a"/>
<circle cx="245.65" cy="38.94" r="2.20" fill="#1a1a1a"/>
<circle cx="248.10" cy="38.88" r="2.20" fill="#1a1a1a"/>
<circle cx="250.55" cy="38.84" r="2.20" fill="#1a1a1a"/>
<circle cx="253.00" cy="38.80" r="2.20" fill="#1a1a1a"/>
<circle cx="255.45" cy="38.76" r="2.20" fill="#1a1a1a"/>
<circle cx="257.90" cy="38.73" r="2.20" fill="#1a1a1a"/>
<circle cx="260.35" cy="38.70" r="2.20" fill="#1a1a1a"/>
<circle cx="262.80" cy="38.68" r="2.20" fill="#1a1a1a"/>
<circle cx="265.25" cy="38.65" r="2.20" fill="#1a1a1a"/>
<circle cx="267.70" cy="38.62" r="2.20" fill="#1a1a1a"/>
<circle cx="270.15" cy="38.59" r="2.20" fill="#1a1a1a"/>
<circle cx="272.60" cy="38.56" r="2.20" fill="#1a1a1a"/>
<path d="M125.60,87.38V94.49M124.00,87.38h3.2" stroke="#ff0000" stroke-width="0.8" fill="none" />
<rect x="123.40" y="92.29" width="4.40" height="4.40" fill="#ff0000"/>
<circle cx="93.60" cy="150.00" r="3.10" fill="#000"/>
<rect x="90.50" y="159.40" width="6.20" height="6.20" fill="#ff0000"/>
<path d="M90.90,174.50 L97.50,174.50 L94.20,180.60Z" fill="#0000ff"/>
<path d="M90.30,190.00 L96.90,190.00 L93.60,183.90Z" fill="#008000"/>
<text x="103.70" y="154.54" font-size="6.8" textLength="97.30">-DOX (HORMAD1 negative)</text>
<text x="103.60" y="164.34" font-size="6.8" textLength="93.90">+DOX (HORMAD1 positive)</text>
<text x="104.90" y="179.54" font-size="6.8" textLength="146.10">-DOX (HORMAD1 negative) +BOS172722</text>
<text x="103.60" y="189.74" font-size="6.8" textLength="143.80">+DOX (HORMAD1 positive) +BOS172722</text>
<line x1="210.00" y1="149.50" x2="210.00" y2="166.00" stroke="#000" stroke-width="1.0" />
<text x="217.00" y="161.12" font-size="8.2" textLength="36.70" fill="#000"><tspan font-style="italic">p</tspan>&lt;0.0001</text>
<line x1="251.40" y1="177.50" x2="251.40" y2="193.70" stroke="#000" stroke-width="1.0" />
<text x="255.00" y="188.52" font-size="8.2" textLength="37.50" fill="#000"><tspan font-style="italic">p</tspan>&lt;0.0001</text>
<text x="381.60" y="11.73" font-size="15.3" font-weight="bold">B.</text>
<line x1="477.80" y1="26.80" x2="477.80" y2="106.40" stroke="#000" stroke-width="1.1" />
<line x1="474.30" y1="102.90" x2="477.80" y2="102.90" stroke="#000" stroke-width="1.1" />
<text x="473.00" y="106.41" font-size="10.2" text-anchor="end">0</text>
<line x1="474.30" y1="90.22" x2="477.80" y2="90.22" stroke="#000" stroke-width="1.1" />
<text x="473.00" y="93.73" font-size="10.2" text-anchor="end">20</text>
<line x1="474.30" y1="77.53" x2="477.80" y2="77.53" stroke="#000" stroke-width="1.1" />
<text x="473.00" y="81.04" font-size="10.2" text-anchor="end">40</text>
<line x1="474.30" y1="64.85" x2="477.80" y2="64.85" stroke="#000" stroke-width="1.1" />
<text x="473.00" y="68.36" font-size="10.2" text-anchor="end">60</text>
<line x1="474.30" y1="52.17" x2="477.80" y2="52.17" stroke="#000" stroke-width="1.1" />
<text x="473.00" y="55.68" font-size="10.2" text-anchor="end">80</text>
<line x1="474.30" y1="39.48" x2="477.80" y2="39.48" stroke="#000" stroke-width="1.1" />
<text x="473.00" y="42.99" font-size="10.2" text-anchor="end">100</text>
<line x1="474.30" y1="26.80" x2="477.80" y2="26.80" stroke="#000" stroke-width="1.1" />
<text x="473.00" y="30.31" font-size="10.2" text-anchor="end">120</text>
<line x1="477.80" y1="102.90" x2="623.60" y2="102.90" stroke="#000" stroke-width="1.1" />
<line x1="477.80" y1="102.90" x2="477.80" y2="106.40" stroke="#000" stroke-width="1.1" />
<text x="479.80" y="114.50" font-size="10.2" text-anchor="end" transform="rotate(-45 479.80 114.50)">0</text>
<line x1="492.38" y1="102.90" x2="492.38" y2="106.40" stroke="#000" stroke-width="1.1" />
<text x="494.38" y="114.50" font-size="10.2" text-anchor="end" transform="rotate(-45 494.38 114.50)">24</text>
<line x1="506.96" y1="102.90" x2="506.96" y2="106.40" stroke="#000" stroke-width="1.1" />
<text x="508.96" y="114.50" font-size="10.2" text-anchor="end" transform="rotate(-45 508.96 114.50)">48</text>
<line x1="521.54" y1="102.90" x2="521.54" y2="106.40" stroke="#000" stroke-width="1.1" />
<text x="523.54" y="114.50" font-size="10.2" text-anchor="end" transform="rotate(-45 523.54 114.50)">72</text>
<line x1="536.12" y1="102.90" x2="536.12" y2="106.40" stroke="#000" stroke-width="1.1" />
<text x="538.12" y="114.50" font-size="10.2" text-anchor="end" transform="rotate(-45 538.12 114.50)">96</text>
<line x1="550.70" y1="102.90" x2="550.70" y2="106.40" stroke="#000" stroke-width="1.1" />
<text x="552.70" y="114.50" font-size="10.2" text-anchor="end" transform="rotate(-45 552.70 114.50)">120</text>
<line x1="565.28" y1="102.90" x2="565.28" y2="106.40" stroke="#000" stroke-width="1.1" />
<text x="567.28" y="114.50" font-size="10.2" text-anchor="end" transform="rotate(-45 567.28 114.50)">144</text>
<line x1="579.86" y1="102.90" x2="579.86" y2="106.40" stroke="#000" stroke-width="1.1" />
<text x="581.86" y="114.50" font-size="10.2" text-anchor="end" transform="rotate(-45 581.86 114.50)">168</text>
<line x1="594.44" y1="102.90" x2="594.44" y2="106.40" stroke="#000" stroke-width="1.1" />
<text x="596.44" y="114.50" font-size="10.2" text-anchor="end" transform="rotate(-45 596.44 114.50)">192</text>
<line x1="609.02" y1="102.90" x2="609.02" y2="106.40" stroke="#000" stroke-width="1.1" />
<text x="611.02" y="114.50" font-size="10.2" text-anchor="end" transform="rotate(-45 611.02 114.50)">216</text>
<line x1="623.60" y1="102.90" x2="623.60" y2="106.40" stroke="#000" stroke-width="1.1" />
<text x="625.60" y="114.50" font-size="10.2" text-anchor="end" transform="rotate(-45 625.60 114.50)">240</text>
<text x="496.20" y="13.54" font-size="10.3" textLength="109.80">RPE1 AZD2811 (20nM)</text>
<text x="445.60" y="63.00" font-size="10.4" text-anchor="middle" textLength="71.10" fill="#000" transform="rotate(-90 445.60 63.00)">Confluency (%)</text>
<text x="528.70" y="138.38" font-size="10.4" textLength="43.70">Time  (hr)</text>
<path d="M480.23,100.63V102.90M478.63,100.63h3.20M478.63,102.90h3.20M482.66,100.58V102.90M481.06,100.58h3.20M481.06,102.90h3.20M485.09,100.53V102.90M483.49,100.53h3.20M483.49,102.90h3.20M487.52,100.48V102.90M485.92,100.48h3.20M485.92,102.90h3.20M489.95,100.44V102.90M488.35,100.44h3.20M488.35,102.90h3.20M492.38,100.39V102.90M490.78,100.39h3.20M490.78,102.90h3.20M494.81,100.34V102.90M493.21,100.34h3.20M493.21,102.90h3.20M497.24,100.29V102.90M495.64,100.29h3.20M495.64,102.90h3.20M499.67,100.23V102.90M498.07,100.23h3.20M498.07,102.90h3.20M502.10,100.18V102.90M500.50,100.18h3.20M500.50,102.90h3.20M504.53,100.11V102.90M502.93,100.11h3.20M502.93,102.90h3.20M506.96,100.05V102.90M505.36,100.05h3.20M505.36,102.90h3.20M509.39,99.97V102.90M507.79,99.97h3.20M507.79,102.90h3.20M511.82,99.88V102.90M510.22,99.88h3.20M510.22,102.90h3.20M514.25,99.79V102.90M512.65,99.79h3.20M512.65,102.90h3.20M516.68,99.69V102.86M515.08,99.69h3.20M515.08,102.86h3.20M519.11,99.58V102.75M517.51,99.58h3.20M517.51,102.75h3.20M521.54,99.46V102.64M519.94,99.46h3.20M519.94,102.64h3.20M523.97,99.35V102.52M522.37,99.35h3.20M522.37,102.52h3.20M526.40,99.23V102.40M524.80,99.23h3.20M524.80,102.40h3.20M528.83,99.11V102.29M527.23,99.11h3.20M527.23,102.29h3.20M531.26,99.00V102.17M529.66,99.00h3.20M529.66,102.17h3.20M533.69,98.89V102.06M532.09,98.89h3.20M532.09,102.06h3.20M536.12,98.78V101.95M534.52,98.78h3.20M534.52,101.95h3.20M538.55,98.67V101.84M536.95,98.67h3.20M536.95,101.84h3.20M540.98,98.56V101.73M539.38,98.56h3.20M539.38,101.73h3.20M543.41,98.45V101.62M541.81,98.45h3.20M541.81,101.62h3.20M545.84,98.34V101.51M544.24,98.34h3.20M544.24,101.51h3.20M548.27,98.23V101.40M546.67,98.23h3.20M546.67,101.40h3.20M550.70,98.12V101.29M549.10,98.12h3.20M549.10,101.29h3.20M553.13,98.01V101.18M551.53,98.01h3.20M551.53,101.18h3.20M555.56,97.91V101.08M553.96,97.91h3.20M553.96,101.08h3.20M557.99,97.80V100.97M556.39,97.80h3.20M556.39,100.97h3.20M560.42,97.70V100.87M558.82,97.70h3.20M558.82,100.87h3.20M562.85,97.60V100.77M561.25,97.60h3.20M561.25,100.77h3.20M565.28,97.51V100.68M563.68,97.51h3.20M563.68,100.68h3.20M567.71,97.42V100.59M566.11,97.42h3.20M566.11,100.59h3.20M570.14,97.33V100.50M568.54,97.33h3.20M568.54,100.50h3.20M572.57,97.24V100.41M570.97,97.24h3.20M570.97,100.41h3.20M575.00,97.16V100.33M573.40,97.16h3.20M573.40,100.33h3.20M577.43,97.07V100.25M575.83,97.07h3.20M575.83,100.25h3.20M579.86,96.99V100.16M578.26,96.99h3.20M578.26,100.16h3.20M582.29,96.91V100.08M580.69,96.91h3.20M580.69,100.08h3.20M584.72,96.84V100.01M583.12,96.84h3.20M583.12,100.01h3.20M587.15,96.76V99.93M585.55,96.76h3.20M585.55,99.93h3.20M589.58,96.69V99.86M587.98,96.69h3.20M587.98,99.86h3.20M592.01,96.62V99.79M590.41,96.62h3.20M590.41,99.79h3.20M594.44,96.56V99.73M592.84,96.56h3.20M592.84,99.73h3.20M596.87,96.50V99.67M595.27,96.50h3.20M595.27,99.67h3.20M599.30,96.44V99.61M597.70,96.44h3.20M597.70,99.61h3.20M601.73,96.38V99.55M600.13,96.38h3.20M600.13,99.55h3.20M604.16,96.33V99.50M602.56,96.33h3.20M602.56,99.50h3.20M606.59,96.28V99.45M604.99,96.28h3.20M604.99,99.45h3.20M609.02,96.23V99.40M607.42,96.23h3.20M607.42,99.40h3.20M611.45,96.18V99.35M609.85,96.18h3.20M609.85,99.35h3.20M613.88,96.13V99.30M612.28,96.13h3.20M612.28,99.30h3.20M616.31,96.08V99.25M614.71,96.08h3.20M614.71,99.25h3.20M618.74,96.03V99.20M617.14,96.03h3.20M617.14,99.20h3.20M621.17,95.98V99.15M619.57,95.98h3.20M619.57,99.15h3.20M623.60,95.92V99.09M622.00,95.92h3.20M622.00,99.09h3.20" stroke="#008000" stroke-width="0.7" fill="none" />
<path d="M478.53,103.66 L481.93,103.66 L480.23,100.51Z" fill="#008000"/>
<path d="M480.96,103.61 L484.36,103.61 L482.66,100.47Z" fill="#008000"/>
<path d="M483.39,103.56 L486.79,103.56 L485.09,100.42Z" fill="#008000"/>
<path d="M485.82,103.52 L489.22,103.52 L487.52,100.37Z" fill="#008000"/>
<path d="M488.25,103.47 L491.65,103.47 L489.95,100.32Z" fill="#008000"/>
<path d="M490.68,103.42 L494.08,103.42 L492.38,100.28Z" fill="#008000"/>
<path d="M493.11,103.37 L496.51,103.37 L494.81,100.23Z" fill="#008000"/>
<path d="M495.54,103.32 L498.94,103.32 L497.24,100.17Z" fill="#008000"/>
<path d="M497.97,103.26 L501.37,103.26 L499.67,100.12Z" fill="#008000"/>
<path d="M500.40,103.21 L503.80,103.21 L502.10,100.06Z" fill="#008000"/>
<path d="M502.83,103.14 L506.23,103.14 L504.53,100.00Z" fill="#008000"/>
<path d="M505.26,103.08 L508.66,103.08 L506.96,99.93Z" fill="#008000"/>
<path d="M507.69,103.00 L511.09,103.00 L509.39,99.86Z" fill="#008000"/>
<path d="M510.12,102.91 L513.52,102.91 L511.82,99.77Z" fill="#008000"/>
<path d="M512.55,102.82 L515.95,102.82 L514.25,99.67Z" fill="#008000"/>
<path d="M514.98,102.72 L518.38,102.72 L516.68,99.57Z" fill="#008000"/>
<path d="M517.41,102.61 L520.81,102.61 L519.11,99.46Z" fill="#008000"/>
<path d="M519.84,102.50 L523.24,102.50 L521.54,99.35Z" fill="#008000"/>
<path d="M522.27,102.38 L525.67,102.38 L523.97,99.23Z" fill="#008000"/>
<path d="M524.70,102.26 L528.10,102.26 L526.40,99.12Z" fill="#008000"/>
<path d="M527.13,102.15 L530.53,102.15 L528.83,99.00Z" fill="#008000"/>
<path d="M529.56,102.03 L532.96,102.03 L531.26,98.88Z" fill="#008000"/>
<path d="M531.99,101.92 L535.39,101.92 L533.69,98.77Z" fill="#008000"/>
<path d="M534.42,101.81 L537.82,101.81 L536.12,98.66Z" fill="#008000"/>
<path d="M536.85,101.70 L540.25,101.70 L538.55,98.56Z" fill="#008000"/>
<path d="M539.28,101.59 L542.68,101.59 L540.98,98.45Z" fill="#008000"/>
<path d="M541.71,101.48 L545.11,101.48 L543.41,98.34Z" fill="#008000"/>
<path d="M544.14,101.37 L547.54,101.37 L545.84,98.23Z" fill="#008000"/>
<path d="M546.57,101.26 L549.97,101.26 L548.27,98.12Z" fill="#008000"/>
<path d="M549.00,101.15 L552.40,101.15 L550.70,98.01Z" fill="#008000"/>
<path d="M551.43,101.04 L554.83,101.04 L553.13,97.90Z" fill="#008000"/>
<path d="M553.86,100.94 L557.26,100.94 L555.56,97.79Z" fill="#008000"/>
<path d="M556.29,100.83 L559.69,100.83 L557.99,97.69Z" fill="#008000"/>
<path d="M558.72,100.73 L562.12,100.73 L560.42,97.59Z" fill="#008000"/>
<path d="M561.15,100.63 L564.55,100.63 L562.85,97.49Z" fill="#008000"/>
<path d="M563.58,100.54 L566.98,100.54 L565.28,97.39Z" fill="#008000"/>
<path d="M566.01,100.45 L569.41,100.45 L567.71,97.31Z" fill="#008000"/>
<path d="M568.44,100.36 L571.84,100.36 L570.14,97.22Z" fill="#008000"/>
<path d="M570.87,100.27 L574.27,100.27 L572.57,97.13Z" fill="#008000"/>
<path d="M573.30,100.19 L576.70,100.19 L575.00,97.04Z" fill="#008000"/>
<path d="M575.73,100.11 L579.13,100.11 L577.43,96.96Z" fill="#008000"/>
<path d="M578.16,100.02 L581.56,100.02 L579.86,96.88Z" fill="#008000"/>
<path d="M580.59,99.94 L583.99,99.94 L582.29,96.80Z" fill="#008000"/>
<path d="M583.02,99.87 L586.42,99.87 L584.72,96.72Z" fill="#008000"/>
<path d="M585.45,99.79 L588.85,99.79 L587.15,96.65Z" fill="#008000"/>
<path d="M587.88,99.72 L591.28,99.72 L589.58,96.58Z" fill="#008000"/>
<path d="M590.31,99.65 L593.71,99.65 L592.01,96.51Z" fill="#008000"/>
<path d="M592.74,99.59 L596.14,99.59 L594.44,96.44Z" fill="#008000"/>
<path d="M595.17,99.53 L598.57,99.53 L596.87,96.38Z" fill="#008000"/>
<path d="M597.60,99.47 L601.00,99.47 L599.30,96.32Z" fill="#008000"/>
<path d="M600.03,99.41 L603.43,99.41 L601.73,96.27Z" fill="#008000"/>
<path d="M602.46,99.36 L605.86,99.36 L604.16,96.21Z" fill="#008000"/>
<path d="M604.89,99.31 L608.29,99.31 L606.59,96.16Z" fill="#008000"/>
<path d="M607.32,99.26 L610.72,99.26 L609.02,96.11Z" fill="#008000"/>
<path d="M609.75,99.21 L613.15,99.21 L611.45,96.06Z" fill="#008000"/>
<path d="M612.18,99.16 L615.58,99.16 L613.88,96.01Z" fill="#008000"/>
<path d="M614.61,99.11 L618.01,99.11 L616.31,95.96Z" fill="#008000"/>
<path d="M617.04,99.06 L620.44,99.06 L618.74,95.91Z" fill="#008000"/>
<path d="M619.47,99.01 L622.87,99.01 L621.17,95.86Z" fill="#008000"/>
<path d="M621.90,98.95 L625.30,98.95 L623.60,95.81Z" fill="#008000"/>
<path d="M480.23,100.47V101.21M478.63,100.47h3.20M478.63,101.21h3.20M482.66,100.27V101.10M481.06,100.27h3.20M481.06,101.10h3.20M485.09,100.06V100.98M483.49,100.06h3.20M483.49,100.98h3.20M487.52,99.86V100.87M485.92,99.86h3.20M485.92,100.87h3.20M489.95,99.66V100.75M488.35,99.66h3.20M488.35,100.75h3.20M492.38,99.46V100.64M490.78,99.46h3.20M490.78,100.64h3.20M494.81,99.26V100.53M493.21,99.26h3.20M493.21,100.53h3.20M497.24,99.07V100.45M495.64,99.07h3.20M495.64,100.45h3.20M499.67,98.88V100.36M498.07,98.88h3.20M498.07,100.36h3.20M502.10,98.66V100.27M500.50,98.66h3.20M500.50,100.27h3.20M504.53,98.42V100.17M502.93,98.42h3.20M502.93,100.17h3.20M506.96,98.14V100.05M505.36,98.14h3.20M505.36,100.05h3.20M509.39,97.79V99.90M507.79,97.79h3.20M507.79,99.90h3.20M511.82,97.36V99.73M510.22,97.36h3.20M510.22,99.73h3.20M514.25,96.84V99.55M512.65,96.84h3.20M512.65,99.55h3.20M516.68,96.26V99.34M515.08,96.26h3.20M515.08,99.34h3.20M519.11,95.62V99.10M517.51,95.62h3.20M517.51,99.10h3.20M521.54,94.92V98.83M519.94,94.92h3.20M519.94,98.83h3.20M523.97,94.10V98.46M522.37,94.10h3.20M522.37,98.46h3.20M526.40,93.13V97.94M524.80,93.13h3.20M524.80,97.94h3.20M528.83,92.08V97.31M527.23,92.08h3.20M527.23,97.31h3.20M531.26,90.99V96.63M529.66,90.99h3.20M529.66,96.63h3.20M533.69,89.93V95.94M532.09,89.93h3.20M532.09,95.94h3.20M536.12,88.95V95.29M534.52,88.95h3.20M534.52,95.29h3.20M538.55,88.05V94.69M536.95,88.05h3.20M536.95,94.69h3.20M540.98,87.17V94.11M539.38,87.17h3.20M539.38,94.11h3.20M543.41,86.30V93.53M541.81,86.30h3.20M541.81,93.53h3.20M545.84,85.43V92.95M544.24,85.43h3.20M544.24,92.95h3.20M548.27,84.54V92.36M546.67,84.54h3.20M546.67,92.36h3.20M550.70,83.63V91.73M549.10,83.63h3.20M549.10,91.73h3.20M553.13,82.69V91.06M551.53,82.69h3.20M551.53,91.06h3.20M555.56,81.72V90.36M553.96,81.72h3.20M553.96,90.36h3.20M557.99,80.73V89.64M556.39,80.73h3.20M556.39,89.64h3.20M560.42,79.74V88.90M558.82,79.74h3.20M558.82,88.90h3.20M562.85,78.76V88.16M561.25,78.76h3.20M561.25,88.16h3.20M565.28,77.79V87.42M563.68,77.79h3.20M563.68,87.42h3.20M567.71,76.84V86.70M566.11,76.84h3.20M566.11,86.70h3.20M570.14,75.90V85.97M568.54,75.90h3.20M568.54,85.97h3.20M572.57,74.97V85.24M570.97,74.97h3.20M570.97,85.24h3.20M575.00,74.04V84.50M573.40,74.04h3.20M573.40,84.50h3.20M577.43,73.10V83.73M575.83,73.10h3.20M575.83,83.73h3.20M579.86,72.14V82.92M578.26,72.14h3.20M578.26,82.92h3.20M582.29,71.14V82.07M580.69,71.14h3.20M580.69,82.07h3.20M584.72,70.10V81.16M583.12,70.10h3.20M583.12,81.16h3.20M587.15,69.04V80.23M585.55,69.04h3.20M585.55,80.23h3.20M589.58,67.99V79.30M587.98,67.99h3.20M587.98,79.30h3.20M592.01,66.99V78.41M590.41,66.99h3.20M590.41,78.41h3.20M594.44,66.06V77.59M592.84,66.06h3.20M592.84,77.59h3.20M596.87,65.21V76.84M595.27,65.21h3.20M595.27,76.84h3.20M599.30,64.40V76.13M597.70,64.40h3.20M597.70,76.13h3.20M601.73,63.62V75.45M600.13,63.62h3.20M600.13,75.45h3.20M604.16,62.86V74.79M602.56,62.86h3.20M602.56,74.79h3.20M606.59,62.11V74.12M604.99,62.11h3.20M604.99,74.12h3.20M609.02,61.33V73.44M607.42,61.33h3.20M607.42,73.44h3.20M611.45,60.55V72.75M609.85,60.55h3.20M609.85,72.75h3.20M613.88,59.76V72.05M612.28,59.76h3.20M612.28,72.05h3.20M616.31,58.98V71.36M614.71,58.98h3.20M614.71,71.36h3.20M618.74,58.19V70.67M617.14,58.19h3.20M617.14,70.67h3.20M621.17,57.40V69.98M619.57,57.40h3.20M619.57,69.98h3.20M623.60,56.61V69.29M622.00,56.61h3.20M622.00,69.29h3.20" stroke="#0000ff" stroke-width="0.7" fill="none" />
<path d="M478.43,99.31 L482.03,99.31 L480.23,102.64Z" fill="#0000ff"/>
<path d="M480.86,99.15 L484.46,99.15 L482.66,102.48Z" fill="#0000ff"/>
<path d="M483.29,98.99 L486.89,98.99 L485.09,102.32Z" fill="#0000ff"/>
<path d="M485.72,98.83 L489.32,98.83 L487.52,102.16Z" fill="#0000ff"/>
<path d="M488.15,98.67 L491.75,98.67 L489.95,102.00Z" fill="#0000ff"/>
<path d="M490.58,98.52 L494.18,98.52 L492.38,101.85Z" fill="#0000ff"/>
<path d="M493.01,98.37 L496.61,98.37 L494.81,101.70Z" fill="#0000ff"/>
<path d="M495.44,98.23 L499.04,98.23 L497.24,101.56Z" fill="#0000ff"/>
<path d="M497.87,98.09 L501.47,98.09 L499.67,101.42Z" fill="#0000ff"/>
<path d="M500.30,97.94 L503.90,97.94 L502.10,101.27Z" fill="#0000ff"/>
<path d="M502.73,97.77 L506.33,97.77 L504.53,101.10Z" fill="#0000ff"/>
<path d="M505.16,97.56 L508.76,97.56 L506.96,100.89Z" fill="#0000ff"/>
<path d="M507.59,97.32 L511.19,97.32 L509.39,100.65Z" fill="#0000ff"/>
<path d="M510.02,97.02 L513.62,97.02 L511.82,100.35Z" fill="#0000ff"/>
<path d="M512.45,96.67 L516.05,96.67 L514.25,100.00Z" fill="#0000ff"/>
<path d="M514.88,96.27 L518.48,96.27 L516.68,99.60Z" fill="#0000ff"/>
<path d="M517.31,95.83 L520.91,95.83 L519.11,99.16Z" fill="#0000ff"/>
<path d="M519.74,95.35 L523.34,95.35 L521.54,98.68Z" fill="#0000ff"/>
<path d="M522.17,94.75 L525.77,94.75 L523.97,98.08Z" fill="#0000ff"/>
<path d="M524.60,94.00 L528.20,94.00 L526.40,97.33Z" fill="#0000ff"/>
<path d="M527.03,93.16 L530.63,93.16 L528.83,96.49Z" fill="#0000ff"/>
<path d="M529.46,92.28 L533.06,92.28 L531.26,95.61Z" fill="#0000ff"/>
<path d="M531.89,91.40 L535.49,91.40 L533.69,94.73Z" fill="#0000ff"/>
<path d="M534.32,90.59 L537.92,90.59 L536.12,93.92Z" fill="#0000ff"/>
<path d="M536.75,89.84 L540.35,89.84 L538.55,93.17Z" fill="#0000ff"/>
<path d="M539.18,89.11 L542.78,89.11 L540.98,92.44Z" fill="#0000ff"/>
<path d="M541.61,88.39 L545.21,88.39 L543.41,91.72Z" fill="#0000ff"/>
<path d="M544.04,87.66 L547.64,87.66 L545.84,90.99Z" fill="#0000ff"/>
<path d="M546.47,86.92 L550.07,86.92 L548.27,90.25Z" fill="#0000ff"/>
<path d="M548.90,86.15 L552.50,86.15 L550.70,89.48Z" fill="#0000ff"/>
<path d="M551.33,85.34 L554.93,85.34 L553.13,88.67Z" fill="#0000ff"/>
<path d="M553.76,84.51 L557.36,84.51 L555.56,87.84Z" fill="#0000ff"/>
<path d="M556.19,83.66 L559.79,83.66 L557.99,86.99Z" fill="#0000ff"/>
<path d="M558.62,82.79 L562.22,82.79 L560.42,86.12Z" fill="#0000ff"/>
<path d="M561.05,81.93 L564.65,81.93 L562.85,85.26Z" fill="#0000ff"/>
<path d="M563.48,81.08 L567.08,81.08 L565.28,84.41Z" fill="#0000ff"/>
<path d="M565.91,80.24 L569.51,80.24 L567.71,83.57Z" fill="#0000ff"/>
<path d="M568.34,79.41 L571.94,79.41 L570.14,82.74Z" fill="#0000ff"/>
<path d="M570.77,78.58 L574.37,78.58 L572.57,81.91Z" fill="#0000ff"/>
<path d="M573.20,77.74 L576.80,77.74 L575.00,81.07Z" fill="#0000ff"/>
<path d="M575.63,76.88 L579.23,76.88 L577.43,80.21Z" fill="#0000ff"/>
<path d="M578.06,76.00 L581.66,76.00 L579.86,79.33Z" fill="#0000ff"/>
<path d="M580.49,75.07 L584.09,75.07 L582.29,78.40Z" fill="#0000ff"/>
<path d="M582.92,74.10 L586.52,74.10 L584.72,77.43Z" fill="#0000ff"/>
<path d="M585.35,73.10 L588.95,73.10 L587.15,76.43Z" fill="#0000ff"/>
<path d="M587.78,72.12 L591.38,72.12 L589.58,75.45Z" fill="#0000ff"/>
<path d="M590.21,71.17 L593.81,71.17 L592.01,74.50Z" fill="#0000ff"/>
<path d="M592.64,70.30 L596.24,70.30 L594.44,73.63Z" fill="#0000ff"/>
<path d="M595.07,69.49 L598.67,69.49 L596.87,72.82Z" fill="#0000ff"/>
<path d="M597.50,68.73 L601.10,68.73 L599.30,72.06Z" fill="#0000ff"/>
<path d="M599.93,68.01 L603.53,68.01 L601.73,71.34Z" fill="#0000ff"/>
<path d="M602.36,67.30 L605.96,67.30 L604.16,70.63Z" fill="#0000ff"/>
<path d="M604.79,66.58 L608.39,66.58 L606.59,69.91Z" fill="#0000ff"/>
<path d="M607.22,65.86 L610.82,65.86 L609.02,69.19Z" fill="#0000ff"/>
<path d="M609.65,65.12 L613.25,65.12 L611.45,68.45Z" fill="#0000ff"/>
<path d="M612.08,64.38 L615.68,64.38 L613.88,67.71Z" fill="#0000ff"/>
<path d="M614.51,63.64 L618.11,63.64 L616.31,66.97Z" fill="#0000ff"/>
<path d="M616.94,62.90 L620.54,62.90 L618.74,66.23Z" fill="#0000ff"/>
<path d="M619.37,62.16 L622.97,62.16 L621.17,65.49Z" fill="#0000ff"/>
<path d="M621.80,61.42 L625.40,61.42 L623.60,64.75Z" fill="#0000ff"/>
<path d="M480.23,100.84V101.58M478.63,100.84h3.20M478.63,101.58h3.20M482.66,100.70V101.53M481.06,100.70h3.20M481.06,101.53h3.20M485.09,100.55V101.47M483.49,100.55h3.20M483.49,101.47h3.20M487.52,100.41V101.41M485.92,100.41h3.20M485.92,101.41h3.20M489.95,100.26V101.35M488.35,100.26h3.20M488.35,101.35h3.20M492.38,100.09V101.27M490.78,100.09h3.20M490.78,101.27h3.20M494.81,99.92V101.19M493.21,99.92h3.20M493.21,101.19h3.20M497.24,99.73V101.11M495.64,99.73h3.20M495.64,101.11h3.20M499.67,99.53V101.02M498.07,99.53h3.20M498.07,101.02h3.20M502.10,99.31V100.92M500.50,99.31h3.20M500.50,100.92h3.20M504.53,99.06V100.81M502.93,99.06h3.20M502.93,100.81h3.20M506.96,98.78V100.68M505.36,98.78h3.20M505.36,100.68h3.20M509.39,98.43V100.54M507.79,98.43h3.20M507.79,100.54h3.20M511.82,98.00V100.38M510.22,98.00h3.20M510.22,100.38h3.20M514.25,97.49V100.20M512.65,97.49h3.20M512.65,100.20h3.20M516.68,96.91V99.99M515.08,96.91h3.20M515.08,99.99h3.20M519.11,96.26V99.75M517.51,96.26h3.20M517.51,99.75h3.20M521.54,95.55V99.47M519.94,95.55h3.20M519.94,99.47h3.20M523.97,94.68V99.04M522.37,94.68h3.20M522.37,99.04h3.20M526.40,93.61V98.41M524.80,93.61h3.20M524.80,98.41h3.20M528.83,92.41V97.65M527.23,92.41h3.20M527.23,97.65h3.20M531.26,91.18V96.83M529.66,91.18h3.20M529.66,96.83h3.20M533.69,90.00V96.02M532.09,90.00h3.20M532.09,96.02h3.20M536.12,88.95V95.29M534.52,88.95h3.20M534.52,95.29h3.20M538.55,88.02V94.66M536.95,88.02h3.20M536.95,94.66h3.20M540.98,87.13V94.07M539.38,87.13h3.20M539.38,94.07h3.20M543.41,86.27V93.50M541.81,86.27h3.20M541.81,93.50h3.20M545.84,85.41V92.93M544.24,85.41h3.20M544.24,92.93h3.20M548.27,84.54V92.35M546.67,84.54h3.20M546.67,92.35h3.20M550.70,83.63V91.73M549.10,83.63h3.20M549.10,91.73h3.20M553.13,82.68V91.05M551.53,82.68h3.20M551.53,91.05h3.20M555.56,81.69V90.33M553.96,81.69h3.20M553.96,90.33h3.20M557.99,80.69V89.59M556.39,80.69h3.20M556.39,89.59h3.20M560.42,79.69V88.85M558.82,79.69h3.20M558.82,88.85h3.20M562.85,78.72V88.12M561.25,78.72h3.20M561.25,88.12h3.20M565.28,77.79V87.42M563.68,77.79h3.20M563.68,87.42h3.20M567.71,76.91V86.77M566.11,76.91h3.20M566.11,86.77h3.20M570.14,76.07V86.14M568.54,76.07h3.20M568.54,86.14h3.20M572.57,75.25V85.52M570.97,75.25h3.20M570.97,85.52h3.20M575.00,74.44V84.90M573.40,74.44h3.20M573.40,84.90h3.20M577.43,73.62V84.25M575.83,73.62h3.20M575.83,84.25h3.20M579.86,72.78V83.56M578.26,72.78h3.20M578.26,83.56h3.20M582.29,71.88V82.81M580.69,71.88h3.20M580.69,82.81h3.20M584.72,70.94V82.00M583.12,70.94h3.20M583.12,82.00h3.20M587.15,69.99V81.18M585.55,69.99h3.20M585.55,81.18h3.20M589.58,69.05V80.36M587.98,69.05h3.20M587.98,80.36h3.20M592.01,68.15V79.57M590.41,68.15h3.20M590.41,79.57h3.20M594.44,67.33V78.86M592.84,67.33h3.20M592.84,78.86h3.20M596.87,66.58V78.21M595.27,66.58h3.20M595.27,78.21h3.20M599.30,65.89V77.62M597.70,65.89h3.20M597.70,77.62h3.20M601.73,65.22V77.05M600.13,65.22h3.20M600.13,77.05h3.20M604.16,64.57V76.49M602.56,64.57h3.20M602.56,76.49h3.20M606.59,63.91V75.93M604.99,63.91h3.20M604.99,75.93h3.20M609.02,63.24V75.34M607.42,63.24h3.20M607.42,75.34h3.20M611.45,62.54V74.73M609.85,62.54h3.20M609.85,74.73h3.20M613.88,61.83V74.12M612.28,61.83h3.20M612.28,74.12h3.20M616.31,61.11V73.50M614.71,61.11h3.20M614.71,73.50h3.20M618.74,60.39V72.87M617.14,60.39h3.20M617.14,72.87h3.20M621.17,59.67V72.25M619.57,59.67h3.20M619.57,72.25h3.20M623.60,58.95V71.64M622.00,58.95h3.20M622.00,71.64h3.20" stroke="#ff0000" stroke-width="0.7" fill="none" />
<rect x="478.13" y="99.11" width="4.20" height="4.20" fill="#ff0000"/>
<rect x="480.56" y="99.01" width="4.20" height="4.20" fill="#ff0000"/>
<rect x="482.99" y="98.91" width="4.20" height="4.20" fill="#ff0000"/>
<rect x="485.42" y="98.81" width="4.20" height="4.20" fill="#ff0000"/>
<rect x="487.85" y="98.70" width="4.20" height="4.20" fill="#ff0000"/>
<rect x="490.28" y="98.58" width="4.20" height="4.20" fill="#ff0000"/>
<rect x="492.71" y="98.45" width="4.20" height="4.20" fill="#ff0000"/>
<rect x="495.14" y="98.32" width="4.20" height="4.20" fill="#ff0000"/>
<rect x="497.57" y="98.18" width="4.20" height="4.20" fill="#ff0000"/>
<rect x="500.00" y="98.02" width="4.20" height="4.20" fill="#ff0000"/>
<rect x="502.43" y="97.84" width="4.20" height="4.20" fill="#ff0000"/>
<rect x="504.86" y="97.63" width="4.20" height="4.20" fill="#ff0000"/>
<rect x="507.29" y="97.38" width="4.20" height="4.20" fill="#ff0000"/>
<rect x="509.72" y="97.09" width="4.20" height="4.20" fill="#ff0000"/>
<rect x="512.15" y="96.75" width="4.20" height="4.20" fill="#ff0000"/>
<rect x="514.58" y="96.35" width="4.20" height="4.20" fill="#ff0000"/>
<rect x="517.01" y="95.91" width="4.20" height="4.20" fill="#ff0000"/>
<rect x="519.44" y="95.41" width="4.20" height="4.20" fill="#ff0000"/>
<rect x="521.87" y="94.76" width="4.20" height="4.20" fill="#ff0000"/>
<rect x="524.30" y="93.91" width="4.20" height="4.20" fill="#ff0000"/>
<rect x="526.73" y="92.93" width="4.20" height="4.20" fill="#ff0000"/>
<rect x="529.16" y="91.91" width="4.20" height="4.20" fill="#ff0000"/>
<rect x="531.59" y="90.91" width="4.20" height="4.20" fill="#ff0000"/>
<rect x="534.02" y="90.02" width="4.20" height="4.20" fill="#ff0000"/>
<rect x="536.45" y="89.24" width="4.20" height="4.20" fill="#ff0000"/>
<rect x="538.88" y="88.50" width="4.20" height="4.20" fill="#ff0000"/>
<rect x="541.31" y="87.78" width="4.20" height="4.20" fill="#ff0000"/>
<rect x="543.74" y="87.07" width="4.20" height="4.20" fill="#ff0000"/>
<rect x="546.17" y="86.34" width="4.20" height="4.20" fill="#ff0000"/>
<rect x="548.60" y="85.58" width="4.20" height="4.20" fill="#ff0000"/>
<rect x="551.03" y="84.77" width="4.20" height="4.20" fill="#ff0000"/>
<rect x="553.46" y="83.91" width="4.20" height="4.20" fill="#ff0000"/>
<rect x="555.89" y="83.04" width="4.20" height="4.20" fill="#ff0000"/>
<rect x="558.32" y="82.17" width="4.20" height="4.20" fill="#ff0000"/>
<rect x="560.75" y="81.32" width="4.20" height="4.20" fill="#ff0000"/>
<rect x="563.18" y="80.51" width="4.20" height="4.20" fill="#ff0000"/>
<rect x="565.61" y="79.74" width="4.20" height="4.20" fill="#ff0000"/>
<rect x="568.04" y="79.01" width="4.20" height="4.20" fill="#ff0000"/>
<rect x="570.47" y="78.29" width="4.20" height="4.20" fill="#ff0000"/>
<rect x="572.90" y="77.57" width="4.20" height="4.20" fill="#ff0000"/>
<rect x="575.33" y="76.83" width="4.20" height="4.20" fill="#ff0000"/>
<rect x="577.76" y="76.07" width="4.20" height="4.20" fill="#ff0000"/>
<rect x="580.19" y="75.24" width="4.20" height="4.20" fill="#ff0000"/>
<rect x="582.62" y="74.37" width="4.20" height="4.20" fill="#ff0000"/>
<rect x="585.05" y="73.48" width="4.20" height="4.20" fill="#ff0000"/>
<rect x="587.48" y="72.60" width="4.20" height="4.20" fill="#ff0000"/>
<rect x="589.91" y="71.76" width="4.20" height="4.20" fill="#ff0000"/>
<rect x="592.34" y="70.99" width="4.20" height="4.20" fill="#ff0000"/>
<rect x="594.77" y="70.30" width="4.20" height="4.20" fill="#ff0000"/>
<rect x="597.20" y="69.65" width="4.20" height="4.20" fill="#ff0000"/>
<rect x="599.63" y="69.04" width="4.20" height="4.20" fill="#ff0000"/>
<rect x="602.06" y="68.43" width="4.20" height="4.20" fill="#ff0000"/>
<rect x="604.49" y="67.82" width="4.20" height="4.20" fill="#ff0000"/>
<rect x="606.92" y="67.19" width="4.20" height="4.20" fill="#ff0000"/>
<rect x="609.35" y="66.53" width="4.20" height="4.20" fill="#ff0000"/>
<rect x="611.78" y="65.87" width="4.20" height="4.20" fill="#ff0000"/>
<rect x="614.21" y="65.20" width="4.20" height="4.20" fill="#ff0000"/>
<rect x="616.64" y="64.53" width="4.20" height="4.20" fill="#ff0000"/>
<rect x="619.07" y="63.86" width="4.20" height="4.20" fill="#ff0000"/>
<rect x="621.50" y="63.19" width="4.20" height="4.20" fill="#ff0000"/>
<path d="M477.80,101.95V102.58M475.40,101.95h4.80M475.40,102.58h4.80M480.23,101.80V102.53M477.83,101.80h4.80M477.83,102.53h4.80M482.66,101.66V102.49M480.26,101.66h4.80M480.26,102.49h4.80M485.09,101.52V102.44M482.69,101.52h4.80M482.69,102.44h4.80M487.52,101.38V102.38M485.12,101.38h4.80M485.12,102.38h4.80M489.95,101.23V102.31M487.55,101.23h4.80M487.55,102.31h4.80M492.38,101.04V102.22M489.98,101.04h4.80M489.98,102.22h4.80M494.81,100.83V102.10M492.41,100.83h4.80M492.41,102.10h4.80M497.24,100.57V101.94M494.84,100.57h4.80M494.84,101.94h4.80M499.67,100.27V101.75M497.27,100.27h4.80M497.27,101.75h4.80M502.10,99.93V101.53M499.70,99.93h4.80M499.70,101.53h4.80M504.53,99.54V101.28M502.13,99.54h4.80M502.13,101.28h4.80M506.96,99.09V101.00M504.56,99.09h4.80M504.56,101.00h4.80M509.39,98.56V100.68M506.99,98.56h4.80M506.99,100.68h4.80M511.82,97.89V100.30M509.42,97.89h4.80M509.42,100.30h4.80M514.25,97.10V99.84M511.85,97.10h4.80M511.85,99.84h4.80M516.68,96.19V99.29M514.28,96.19h4.80M514.28,99.29h4.80M519.11,95.16V98.63M516.71,95.16h4.80M516.71,98.63h4.80M521.54,94.02V97.83M519.14,94.02h4.80M519.14,97.83h4.80M523.97,92.58V96.75M521.57,92.58h4.80M521.57,96.75h4.80M526.40,90.70V95.28M524.00,90.70h4.80M524.00,95.28h4.80M528.83,88.47V93.47M526.43,88.47h4.80M526.43,93.47h4.80M531.26,86.00V91.35M528.86,86.00h4.80M528.86,91.35h4.80M533.69,83.38V88.99M531.29,83.38h4.80M531.29,88.99h4.80M536.12,80.70V86.41M533.72,80.70h4.80M533.72,86.41h4.80M538.55,77.61V83.32M536.15,77.61h4.80M536.15,83.32h4.80M540.98,73.98V79.69M538.58,73.98h4.80M538.58,79.69h4.80M543.41,70.24V75.95M541.01,70.24h4.80M541.01,75.95h4.80M545.84,66.31V72.02M543.44,66.31h4.80M543.44,72.02h4.80M548.27,62.28V67.98M545.87,62.28h4.80M545.87,67.98h4.80M550.70,58.83V64.53M548.30,58.83h4.80M548.30,64.53h4.80M553.13,56.01V61.65M550.73,56.01h4.80M550.73,61.65h4.80M555.56,53.42V58.91M553.16,53.42h4.80M553.16,58.91h4.80M557.99,51.08V56.34M555.59,51.08h4.80M555.59,56.34h4.80M560.42,49.02V54.01M558.02,49.02h4.80M558.02,54.01h4.80M562.85,47.26V51.97M560.45,47.26h4.80M560.45,51.97h4.80M565.28,45.83V50.26M562.88,45.83h4.80M562.88,50.26h4.80M567.71,44.62V48.76M565.31,44.62h4.80M565.31,48.76h4.80M570.14,43.56V47.34M567.74,43.56h4.80M567.74,47.34h4.80M572.57,42.63V46.03M570.17,42.63h4.80M570.17,46.03h4.80M575.00,41.85V44.89M572.60,41.85h4.80M572.60,44.89h4.80M577.43,41.22V43.96M575.03,41.22h4.80M575.03,43.96h4.80M579.86,40.75V43.29M577.46,40.75h4.80M577.46,43.29h4.80M582.29,40.38V42.79M579.89,40.38h4.80M579.89,42.79h4.80M584.72,40.04V42.35M582.32,40.04h4.80M582.32,42.35h4.80M587.15,39.76V41.96M584.75,39.76h4.80M584.75,41.96h4.80M589.58,39.53V41.64M587.18,39.53h4.80M587.18,41.64h4.80M592.01,39.36V41.40M589.61,39.36h4.80M589.61,41.40h4.80M594.44,39.27V41.22M592.04,39.27h4.80M592.04,41.22h4.80M596.87,39.21V41.10M594.47,39.21h4.80M594.47,41.10h4.80M599.30,39.16V40.99M596.90,39.16h4.80M596.90,40.99h4.80M601.73,39.13V40.90M599.33,39.13h4.80M599.33,40.90h4.80M604.16,39.10V40.81M601.76,39.10h4.80M601.76,40.81h4.80M606.59,39.07V40.74M604.19,39.07h4.80M604.19,40.74h4.80M609.02,39.05V40.67M606.62,39.05h4.80M606.62,40.67h4.80M611.45,39.04V40.60M609.05,39.04h4.80M609.05,40.60h4.80M613.88,39.03V40.54M611.48,39.03h4.80M611.48,40.54h4.80M616.31,39.02V40.47M613.91,39.02h4.80M613.91,40.47h4.80M618.74,39.00V40.40M616.34,39.00h4.80M616.34,40.40h4.80M621.17,38.99V40.33M618.77,38.99h4.80M618.77,40.33h4.80M623.60,38.98V40.24M621.20,38.98h4.80M621.20,40.24h4.80" stroke="#1a1a1a" stroke-width="0.7" fill="none" />
<circle cx="477.80" cy="102.27" r="2.20" fill="#1a1a1a"/>
<circle cx="480.23" cy="102.17" r="2.20" fill="#1a1a1a"/>
<circle cx="482.66" cy="102.07" r="2.20" fill="#1a1a1a"/>
<circle cx="485.09" cy="101.98" r="2.20" fill="#1a1a1a"/>
<circle cx="487.52" cy="101.88" r="2.20" fill="#1a1a1a"/>
<circle cx="489.95" cy="101.77" r="2.20" fill="#1a1a1a"/>
<circle cx="492.38" cy="101.63" r="2.20" fill="#1a1a1a"/>
<circle cx="494.81" cy="101.46" r="2.20" fill="#1a1a1a"/>
<circle cx="497.24" cy="101.26" r="2.20" fill="#1a1a1a"/>
<circle cx="499.67" cy="101.01" r="2.20" fill="#1a1a1a"/>
<circle cx="502.10" cy="100.73" r="2.20" fill="#1a1a1a"/>
<circle cx="504.53" cy="100.41" r="2.20" fill="#1a1a1a"/>
<circle cx="506.96" cy="100.05" r="2.20" fill="#1a1a1a"/>
<circle cx="509.39" cy="99.62" r="2.20" fill="#1a1a1a"/>
<circle cx="511.82" cy="99.10" r="2.20" fill="#1a1a1a"/>
<circle cx="514.25" cy="98.47" r="2.20" fill="#1a1a1a"/>
<circle cx="516.68" cy="97.74" r="2.20" fill="#1a1a1a"/>
<circle cx="519.11" cy="96.89" r="2.20" fill="#1a1a1a"/>
<circle cx="521.54" cy="95.92" r="2.20" fill="#1a1a1a"/>
<circle cx="523.97" cy="94.66" r="2.20" fill="#1a1a1a"/>
<circle cx="526.40" cy="92.99" r="2.20" fill="#1a1a1a"/>
<circle cx="528.83" cy="90.97" r="2.20" fill="#1a1a1a"/>
<circle cx="531.26" cy="88.68" r="2.20" fill="#1a1a1a"/>
<circle cx="533.69" cy="86.18" r="2.20" fill="#1a1a1a"/>
<circle cx="536.12" cy="83.56" r="2.20" fill="#1a1a1a"/>
<circle cx="538.55" cy="80.47" r="2.20" fill="#1a1a1a"/>
<circle cx="540.98" cy="76.83" r="2.20" fill="#1a1a1a"/>
<circle cx="543.41" cy="73.09" r="2.20" fill="#1a1a1a"/>
<circle cx="545.84" cy="69.17" r="2.20" fill="#1a1a1a"/>
<circle cx="548.27" cy="65.13" r="2.20" fill="#1a1a1a"/>
<circle cx="550.70" cy="61.68" r="2.20" fill="#1a1a1a"/>
<circle cx="553.13" cy="58.83" r="2.20" fill="#1a1a1a"/>
<circle cx="555.56" cy="56.16" r="2.20" fill="#1a1a1a"/>
<circle cx="557.99" cy="53.71" r="2.20" fill="#1a1a1a"/>
<circle cx="560.42" cy="51.52" r="2.20" fill="#1a1a1a"/>
<circle cx="562.85" cy="49.62" r="2.20" fill="#1a1a1a"/>
<circle cx="565.28" cy="48.04" r="2.20" fill="#1a1a1a"/>
<circle cx="567.71" cy="46.69" r="2.20" fill="#1a1a1a"/>
<circle cx="570.14" cy="45.45" r="2.20" fill="#1a1a1a"/>
<circle cx="572.57" cy="44.33" r="2.20" fill="#1a1a1a"/>
<circle cx="575.00" cy="43.37" r="2.20" fill="#1a1a1a"/>
<circle cx="577.43" cy="42.59" r="2.20" fill="#1a1a1a"/>
<circle cx="579.86" cy="42.02" r="2.20" fill="#1a1a1a"/>
<circle cx="582.29" cy="41.58" r="2.20" fill="#1a1a1a"/>
<circle cx="584.72" cy="41.20" r="2.20" fill="#1a1a1a"/>
<circle cx="587.15" cy="40.86" r="2.20" fill="#1a1a1a"/>
<circle cx="589.58" cy="40.59" r="2.20" fill="#1a1a1a"/>
<circle cx="592.01" cy="40.38" r="2.20" fill="#1a1a1a"/>
<circle cx="594.44" cy="40.24" r="2.20" fill="#1a1a1a"/>
<circle cx="596.87" cy="40.15" r="2.20" fill="#1a1a1a"/>
<circle cx="599.30" cy="40.08" r="2.20" fill="#1a1a1a"/>
<circle cx="601.73" cy="40.01" r="2.20" fill="#1a1a1a"/>
<circle cx="604.16" cy="39.95" r="2.20" fill="#1a1a1a"/>
<circle cx="606.59" cy="39.90" r="2.20" fill="#1a1a1a"/>
<circle cx="609.02" cy="39.86" r="2.20" fill="#1a1a1a"/>
<circle cx="611.45" cy="39.82" r="2.20" fill="#1a1a1a"/>
<circle cx="613.88" cy="39.78" r="2.20" fill="#1a1a1a"/>
<circle cx="616.31" cy="39.74" r="2.20" fill="#1a1a1a"/>
<circle cx="618.74" cy="39.70" r="2.20" fill="#1a1a1a"/>
<circle cx="621.17" cy="39.66" r="2.20" fill="#1a1a1a"/>
<circle cx="623.60" cy="39.61" r="2.20" fill="#1a1a1a"/>
<path d="M477.80,70.30V100.74M476.20,70.30h3.2" stroke="#0000ff" stroke-width="0.8" fill="none" />
<path d="M475.90,83.91 L479.70,83.91 L477.80,87.42Z" fill="#0000ff"/>
<path d="M477.80,74.36V102.90M476.20,74.36h3.2" stroke="#008000" stroke-width="0.8" fill="none" />
<path d="M475.90,92.47 L479.70,92.47 L477.80,88.95Z" fill="#008000"/>
<path d="M477.80,88.44V101.12M476.20,88.44h3.2" stroke="#ff0000" stroke-width="0.8" fill="none" />
<rect x="475.90" y="92.88" width="3.80" height="3.80" fill="#ff0000"/>
<circle cx="443.70" cy="157.50" r="3.10" fill="#000"/>
<rect x="440.60" y="163.90" width="6.20" height="6.20" fill="#ff0000"/>
<path d="M440.40,179.19 L447.00,179.19 L443.70,185.30Z" fill="#0000ff"/>
<path d="M440.40,195.81 L447.00,195.81 L443.70,189.70Z" fill="#008000"/>
<text x="454.50" y="160.54" font-size="6.8" textLength="96.70">-DOX (HORMAD1 negative)</text>
<text x="454.50" y="170.34" font-size="6.8" textLength="95.50">+DOX (HORMAD1 positive)</text>
<text x="455.50" y="184.94" font-size="6.8" textLength="135.90">-DOX (HORMAD1 negative) +AZD2811</text>
<text x="454.50" y="195.94" font-size="6.8" textLength="134.50">+DOX (HORMAD1 positive) +AZD2811</text>
<line x1="559.60" y1="154.50" x2="559.60" y2="170.50" stroke="#000" stroke-width="1.0" />
<text x="567.70" y="166.32" font-size="8.2" textLength="36.20" fill="#000"><tspan font-style="italic">p</tspan>&lt;0.0001</text>
<line x1="601.40" y1="182.00" x2="601.40" y2="197.50" stroke="#000" stroke-width="1.0" />
<text x="605.00" y="192.82" font-size="8.2" textLength="37.60" fill="#000"><tspan font-style="italic">p</tspan>&lt;0.0001</text>
<text x="21.70" y="206.43" font-size="15.3" font-weight="bold">C.</text>
<line x1="118.90" y1="239.20" x2="118.90" y2="334.10" stroke="#000" stroke-width="1.1" />
<line x1="115.40" y1="330.60" x2="118.90" y2="330.60" stroke="#000" stroke-width="1.1" />
<text x="114.40" y="334.04" font-size="10.0" text-anchor="end">0.0</text>
<line x1="115.40" y1="315.37" x2="118.90" y2="315.37" stroke="#000" stroke-width="1.1" />
<text x="114.40" y="318.81" font-size="10.0" text-anchor="end">0.2</text>
<line x1="115.40" y1="300.13" x2="118.90" y2="300.13" stroke="#000" stroke-width="1.1" />
<text x="114.40" y="303.57" font-size="10.0" text-anchor="end">0.4</text>
<line x1="115.40" y1="284.90" x2="118.90" y2="284.90" stroke="#000" stroke-width="1.1" />
<text x="114.40" y="288.34" font-size="10.0" text-anchor="end">0.6</text>
<line x1="115.40" y1="269.67" x2="118.90" y2="269.67" stroke="#000" stroke-width="1.1" />
<text x="114.40" y="273.11" font-size="10.0" text-anchor="end">0.8</text>
<line x1="115.40" y1="254.43" x2="118.90" y2="254.43" stroke="#000" stroke-width="1.1" />
<text x="114.40" y="257.87" font-size="10.0" text-anchor="end">1.0</text>
<line x1="115.40" y1="239.20" x2="118.90" y2="239.20" stroke="#000" stroke-width="1.1" />
<text x="114.40" y="242.64" font-size="10.0" text-anchor="end">1.2</text>
<line x1="118.90" y1="330.60" x2="256.00" y2="330.60" stroke="#000" stroke-width="1.1" />
<line x1="118.90" y1="330.60" x2="118.90" y2="334.10" stroke="#000" stroke-width="1.1" />
<text x="118.90" y="344.34" font-size="10.0" text-anchor="middle">0</text>
<line x1="146.32" y1="330.60" x2="146.32" y2="334.10" stroke="#000" stroke-width="1.1" />
<text x="146.32" y="344.34" font-size="10.0" text-anchor="middle">100</text>
<line x1="173.74" y1="330.60" x2="173.74" y2="334.10" stroke="#000" stroke-width="1.1" />
<text x="173.74" y="344.34" font-size="10.0" text-anchor="middle">200</text>
<line x1="201.16" y1="330.60" x2="201.16" y2="334.10" stroke="#000" stroke-width="1.1" />
<text x="201.16" y="344.34" font-size="10.0" text-anchor="middle">300</text>
<line x1="228.58" y1="330.60" x2="228.58" y2="334.10" stroke="#000" stroke-width="1.1" />
<text x="228.58" y="344.34" font-size="10.0" text-anchor="middle">400</text>
<line x1="256.00" y1="330.60" x2="256.00" y2="334.10" stroke="#000" stroke-width="1.1" />
<text x="256.00" y="344.34" font-size="10.0" text-anchor="middle">500</text>
<text x="129.80" y="217.71" font-size="10.2" textLength="91.20">BOS172722 - RPE1</text>
<text x="88.20" y="281.70" font-size="10.0" text-anchor="middle" textLength="76.10" fill="#000" transform="rotate(-90 88.20 281.70)">Surviving fraction</text>
<text x="147.50" y="358.14" font-size="10.0" textLength="80.00">BOS 172722 (nM)</text>
<path d="M118.90,241.10 L119.45,241.10 L120.00,241.11 L120.55,241.11 L121.09,241.13 L121.64,241.15 L122.19,241.19 L122.74,241.24 L123.29,241.30 L123.84,241.39 L124.38,241.50 L124.93,241.63 L125.48,241.79 L126.03,241.98 L126.58,242.19 L127.13,242.45 L127.67,242.73 L128.22,243.06 L128.77,243.42 L129.32,243.82 L129.87,244.27 L130.42,244.75 L130.96,245.28 L131.51,245.86 L132.06,246.48 L132.61,247.14 L133.16,247.85 L133.71,248.60 L134.26,249.40 L134.80,250.24 L135.35,251.13 L135.90,252.05 L136.45,253.02 L137.00,254.02 L137.55,255.06 L138.09,256.13 L138.64,257.24 L139.19,258.37 L139.74,259.53 L140.29,260.72 L140.84,261.93 L141.38,263.16 L141.93,264.40 L142.48,265.66 L143.03,266.93 L143.58,268.21 L144.13,269.49 L144.67,270.77 L145.22,272.06 L145.77,273.35 L146.32,274.63 L146.87,275.90 L147.42,277.17 L147.97,278.43 L148.51,279.68 L149.06,280.91 L149.61,282.13 L150.16,283.33 L150.71,284.51 L151.26,285.68 L151.80,286.83 L152.35,287.95 L152.90,289.06 L153.45,290.14 L154.00,291.20 L154.55,292.24 L155.09,293.26 L155.64,294.26 L156.19,295.23 L156.74,296.17 L157.29,297.10 L157.84,298.00 L158.38,298.88 L158.93,299.74 L159.48,300.57 L160.03,301.38 L160.58,302.17 L161.13,302.94 L161.68,303.68 L162.22,304.41 L162.77,305.11 L163.32,305.80 L163.87,306.46 L164.42,307.11 L164.97,307.74 L165.51,308.35 L166.06,308.94 L166.61,309.51 L167.16,310.07 L167.71,310.61 L168.26,311.13 L168.80,311.64 L169.35,312.13 L169.90,312.61 L170.45,313.08 L171.00,313.53 L171.55,313.96 L172.09,314.39 L172.64,314.80 L173.19,315.20 L173.74,315.59 L174.29,315.96 L174.84,316.33 L175.39,316.68 L175.93,317.02 L176.48,317.35 L177.03,317.68 L177.58,317.99 L178.13,318.29 L178.68,318.59 L179.22,318.88 L179.77,319.16 L180.32,319.43 L180.87,319.69 L181.42,319.94 L181.97,320.19 L182.51,320.43 L183.06,320.66 L183.61,320.89 L184.16,321.11 L184.71,321.33 L185.26,321.53 L185.80,321.74 L186.35,321.93 L186.90,322.13 L187.45,322.31 L188.00,322.49 L188.55,322.67 L189.10,322.84 L189.64,323.01 L190.19,323.17 L190.74,323.33 L191.29,323.48 L191.84,323.63 L192.39,323.77 L192.93,323.92 L193.48,324.05 L194.03,324.19 L194.58,324.32 L195.13,324.45 L195.68,324.57 L196.22,324.69 L196.77,324.81 L197.32,324.92 L197.87,325.04 L198.42,325.15 L198.97,325.25 L199.51,325.36 L200.06,325.46 L200.61,325.56 L201.16,325.65 L201.71,325.75 L202.26,325.84 L202.81,325.93 L203.35,326.01 L203.90,326.10 L204.45,326.18 L205.00,326.26 L205.55,326.34 L206.10,326.42 L206.64,326.50 L207.19,326.57 L207.74,326.64 L208.29,326.71 L208.84,326.78 L209.39,326.85 L209.93,326.91 L210.48,326.98 L211.03,327.04 L211.58,327.10 L212.13,327.16 L212.68,327.22 L213.22,327.28 L213.77,327.33 L214.32,327.39 L214.87,327.44 L215.42,327.49 L215.97,327.55 L216.52,327.60 L217.06,327.65 L217.61,327.69 L218.16,327.74 L218.71,327.79 L219.26,327.83 L219.81,327.88 L220.35,327.92 L220.90,327.96 L221.45,328.00 L222.00,328.04 L222.55,328.08 L223.10,328.12 L223.64,328.16 L224.19,328.20 L224.74,328.24 L225.29,328.27 L225.84,328.31 L226.39,328.34 L226.93,328.38 L227.48,328.41 L228.03,328.44 L228.58,328.47" stroke="#ff0000" stroke-width="0.9" fill="none" stroke-linejoin="round"/>
<path d="M118.90,266.62 L119.45,266.62 L120.00,266.62 L120.55,266.62 L121.09,266.62 L121.64,266.63 L122.19,266.63 L122.74,266.63 L123.29,266.63 L123.84,266.63 L124.38,266.63 L124.93,266.63 L125.48,266.63 L126.03,266.63 L126.58,266.63 L127.13,266.64 L127.67,266.64 L128.22,266.64 L128.77,266.64 L129.32,266.64 L129.87,266.64 L130.42,266.64 L130.96,266.64 L131.51,266.64 L132.06,266.64 L132.61,266.64 L133.16,266.64 L133.71,266.64 L134.26,266.64 L134.80,266.65 L135.35,266.65 L135.90,266.65 L136.45,266.65 L137.00,266.65 L137.55,266.65 L138.09,266.65 L138.64,266.65 L139.19,266.65 L139.74,266.65 L140.29,266.65 L140.84,266.65 L141.38,266.65 L141.93,266.65 L142.48,266.65 L143.03,266.65 L143.58,266.65 L144.13,266.66 L144.67,266.66 L145.22,266.66 L145.77,266.66 L146.32,266.66 L146.87,266.66 L147.42,266.66 L147.97,266.66 L148.51,266.66 L149.06,266.66 L149.61,266.66 L150.16,266.66 L150.71,266.66 L151.26,266.66 L151.80,266.66 L152.35,266.66 L152.90,266.67 L153.45,266.67 L154.00,266.67 L154.55,266.67 L155.09,266.67 L155.64,266.67 L156.19,266.67 L156.74,266.67 L157.29,266.67 L157.84,266.67 L158.38,266.67 L158.93,266.67 L159.48,266.68 L160.03,266.68 L160.58,266.68 L161.13,266.68 L161.68,266.68 L162.22,266.68 L162.77,266.68 L163.32,266.68 L163.87,266.68 L164.42,266.68 L164.97,266.69 L165.51,266.69 L166.06,266.69 L166.61,266.69 L167.16,266.69 L167.71,266.69 L168.26,266.69 L168.80,266.70 L169.35,266.70 L169.90,266.70 L170.45,266.70 L171.00,266.70 L171.55,266.70 L172.09,266.71 L172.64,266.71 L173.19,266.71 L173.74,266.71 L174.29,266.71 L174.84,266.71 L175.39,266.72 L175.93,266.72 L176.48,266.72 L177.03,266.72 L177.58,266.72 L178.13,266.73 L178.68,266.73 L179.22,266.73 L179.77,266.73 L180.32,266.74 L180.87,266.74 L181.42,266.74 L181.97,266.74 L182.51,266.75 L183.06,266.75 L183.61,266.75 L184.16,266.75 L184.71,266.76 L185.26,266.76 L185.80,266.76 L186.35,266.77 L186.90,266.77 L187.45,266.77 L188.00,266.78 L188.55,266.79 L189.10,266.81 L189.64,266.84 L190.19,266.87 L190.74,266.91 L191.29,266.96 L191.84,267.01 L192.39,267.07 L192.93,267.13 L193.48,267.20 L194.03,267.27 L194.58,267.34 L195.13,267.43 L195.68,267.56 L196.22,267.74 L196.77,267.97 L197.32,268.23 L197.87,268.54 L198.42,268.88 L198.97,269.25 L199.51,269.65 L200.06,270.08 L200.61,270.52 L201.16,270.99 L201.71,271.46 L202.26,271.95 L202.81,272.49 L203.35,273.13 L203.90,273.84 L204.45,274.63 L205.00,275.48 L205.55,276.38 L206.10,277.32 L206.64,278.29 L207.19,279.29 L207.74,280.29 L208.29,281.29 L208.84,282.33 L209.39,283.43 L209.93,284.57 L210.48,285.75 L211.03,286.98 L211.58,288.24 L212.13,289.52 L212.68,290.83 L213.22,292.16 L213.77,293.50 L214.32,294.86 L214.87,296.29 L215.42,297.77 L215.97,299.29 L216.52,300.85 L217.06,302.42 L217.61,303.99 L218.16,305.55 L218.71,307.09 L219.26,308.59 L219.81,310.04 L220.35,311.45 L220.90,312.85 L221.45,314.24 L222.00,315.61 L222.55,316.97 L223.10,318.32 L223.64,319.64 L224.19,320.95 L224.74,322.24 L225.29,323.51 L225.84,324.75 L226.39,325.96 L226.93,327.13 L227.48,328.29 L228.03,329.44 L228.58,330.60" stroke="#000" stroke-width="0.9" fill="none" stroke-linejoin="round"/>
<path d="M146.32,253.67V285.66M144.62,253.67h3.40M144.62,285.66h3.40" stroke="#ff0000" stroke-width="0.8" fill="none" />
<rect x="144.52" y="267.87" width="3.60" height="3.60" fill="#ff0000"/>
<rect x="171.94" y="316.61" width="3.60" height="3.60" fill="#ff0000"/>
<rect x="226.78" y="328.42" width="3.60" height="3.60" fill="#ff0000"/>
<path d="M146.32,260.53V275.76M144.62,260.53h3.40M144.62,275.76h3.40" stroke="#000" stroke-width="0.8" fill="none" />
<path d="M173.74,260.15V271.57M172.04,260.15h3.40M172.04,271.57h3.40" stroke="#000" stroke-width="0.8" fill="none" />
<circle cx="118.90" cy="254.43" r="1.90" fill="#000"/>
<circle cx="146.32" cy="268.14" r="1.90" fill="#000"/>
<circle cx="173.74" cy="265.86" r="1.90" fill="#000"/>
<circle cx="228.58" cy="330.60" r="1.90" fill="#000"/>
<line x1="145.70" y1="233.00" x2="156.30" y2="233.00" stroke="#000" stroke-width="0.8" />
<circle cx="151.00" cy="233.00" r="1.80" fill="#000"/>
<line x1="145.70" y1="245.20" x2="156.30" y2="245.20" stroke="#ff0000" stroke-width="0.8" />
<rect x="149.20" y="243.40" width="3.60" height="3.60" fill="#ff0000"/>
<text x="161.20" y="235.51" font-size="7.3" textLength="91.70">-DOX (HORMAD1 negative)</text>
<text x="161.20" y="247.51" font-size="7.3" textLength="92.70">+ DOX (HORMAD1 positive)</text>
<line x1="261.20" y1="230.80" x2="261.20" y2="246.90" stroke="#000" stroke-width="1.0" />
<text x="266.00" y="241.21" font-size="10.5" textLength="44.50" font-style="italic" fill="#000">p=0.0041</text>
<text x="379.20" y="206.03" font-size="15.3" font-weight="bold">D.</text>
<line x1="464.60" y1="234.90" x2="464.60" y2="332.80" stroke="#000" stroke-width="1.1" />
<line x1="461.10" y1="329.30" x2="464.60" y2="329.30" stroke="#000" stroke-width="1.1" />
<text x="460.30" y="332.74" font-size="10.0" text-anchor="end">0.0</text>
<line x1="461.10" y1="315.81" x2="464.60" y2="315.81" stroke="#000" stroke-width="1.1" />
<text x="460.30" y="319.25" font-size="10.0" text-anchor="end">0.2</text>
<line x1="461.10" y1="302.33" x2="464.60" y2="302.33" stroke="#000" stroke-width="1.1" />
<text x="460.30" y="305.77" font-size="10.0" text-anchor="end">0.4</text>
<line x1="461.10" y1="288.84" x2="464.60" y2="288.84" stroke="#000" stroke-width="1.1" />
<text x="460.30" y="292.28" font-size="10.0" text-anchor="end">0.6</text>
<line x1="461.10" y1="275.36" x2="464.60" y2="275.36" stroke="#000" stroke-width="1.1" />
<text x="460.30" y="278.80" font-size="10.0" text-anchor="end">0.8</text>
<line x1="461.10" y1="261.87" x2="464.60" y2="261.87" stroke="#000" stroke-width="1.1" />
<text x="460.30" y="265.31" font-size="10.0" text-anchor="end">1.0</text>
<line x1="461.10" y1="248.39" x2="464.60" y2="248.39" stroke="#000" stroke-width="1.1" />
<text x="460.30" y="251.83" font-size="10.0" text-anchor="end">1.2</text>
<line x1="461.10" y1="234.90" x2="464.60" y2="234.90" stroke="#000" stroke-width="1.1" />
<text x="460.30" y="238.34" font-size="10.0" text-anchor="end">1.4</text>
<line x1="464.60" y1="329.30" x2="607.00" y2="329.30" stroke="#000" stroke-width="1.1" />
<line x1="464.60" y1="329.30" x2="464.60" y2="332.80" stroke="#000" stroke-width="1.1" />
<text x="464.60" y="344.14" font-size="10.0" text-anchor="middle">0</text>
<line x1="500.20" y1="329.30" x2="500.20" y2="332.80" stroke="#000" stroke-width="1.1" />
<text x="500.20" y="344.14" font-size="10.0" text-anchor="middle">100</text>
<line x1="535.80" y1="329.30" x2="535.80" y2="332.80" stroke="#000" stroke-width="1.1" />
<text x="535.80" y="344.14" font-size="10.0" text-anchor="middle">200</text>
<line x1="571.40" y1="329.30" x2="571.40" y2="332.80" stroke="#000" stroke-width="1.1" />
<text x="571.40" y="344.14" font-size="10.0" text-anchor="middle">300</text>
<line x1="607.00" y1="329.30" x2="607.00" y2="332.80" stroke="#000" stroke-width="1.1" />
<text x="607.00" y="344.14" font-size="10.0" text-anchor="middle">400</text>
<text x="482.80" y="218.51" font-size="10.2" textLength="108.80">BOS172722 – SUM159</text>
<text x="436.60" y="279.30" font-size="10.0" text-anchor="middle" textLength="78.60" fill="#000" transform="rotate(-90 436.60 279.30)">Surviving fraction</text>
<text x="496.00" y="358.94" font-size="10.0" textLength="80.00">BOS172722 (nm)</text>
<path d="M464.60,247.37 L465.31,247.37 L466.02,247.37 L466.74,247.38 L467.45,247.38 L468.16,247.38 L468.87,247.38 L469.58,247.39 L470.30,247.40 L471.01,247.41 L471.72,247.43 L472.43,247.45 L473.14,247.48 L473.86,247.52 L474.57,247.56 L475.28,247.61 L475.99,247.67 L476.70,247.74 L477.42,247.81 L478.13,247.91 L478.84,248.01 L479.55,248.13 L480.26,248.26 L480.98,248.41 L481.69,248.57 L482.40,248.75 L483.11,248.95 L483.82,249.16 L484.54,249.40 L485.25,249.66 L485.96,249.94 L486.67,250.24 L487.38,250.56 L488.10,250.91 L488.81,251.28 L489.52,251.67 L490.23,252.09 L490.94,252.54 L491.66,253.01 L492.37,253.51 L493.08,254.03 L493.79,254.58 L494.50,255.15 L495.22,255.75 L495.93,256.37 L496.64,257.02 L497.35,257.70 L498.06,258.39 L498.78,259.12 L499.49,259.86 L500.20,260.63 L500.91,261.42 L501.62,262.23 L502.34,263.05 L503.05,263.90 L503.76,264.76 L504.47,265.64 L505.18,266.54 L505.90,267.44 L506.61,268.37 L507.32,269.30 L508.03,270.24 L508.74,271.19 L509.46,272.14 L510.17,273.11 L510.88,274.07 L511.59,275.05 L512.30,276.02 L513.02,276.99 L513.73,277.96 L514.44,278.94 L515.15,279.90 L515.86,280.87 L516.58,281.83 L517.29,282.78 L518.00,283.73 L518.71,284.67 L519.42,285.60 L520.14,286.52 L520.85,287.44 L521.56,288.34 L522.27,289.23 L522.98,290.11 L523.70,290.97 L524.41,291.83 L525.12,292.67 L525.83,293.49 L526.54,294.31 L527.26,295.11 L527.97,295.89 L528.68,296.66 L529.39,297.42 L530.10,298.16 L530.82,298.89 L531.53,299.60 L532.24,300.30 L532.95,300.98 L533.66,301.65 L534.38,302.30 L535.09,302.94 L535.80,303.57 L536.51,304.18 L537.22,304.77 L537.94,305.36 L538.65,305.93 L539.36,306.48 L540.07,307.02 L540.78,307.55 L541.50,308.07 L542.21,308.57 L542.92,309.06 L543.63,309.54 L544.34,310.01 L545.06,310.46 L545.77,310.91 L546.48,311.34 L547.19,311.76 L547.90,312.17 L548.62,312.57 L549.33,312.96 L550.04,313.34 L550.75,313.71 L551.46,314.07 L552.18,314.42 L552.89,314.76 L553.60,315.10 L554.31,315.42 L555.02,315.74 L555.74,316.05 L556.45,316.35 L557.16,316.64 L557.87,316.92 L558.58,317.20 L559.30,317.47 L560.01,317.73 L560.72,317.99 L561.43,318.24 L562.14,318.48 L562.86,318.72 L563.57,318.95 L564.28,319.17 L564.99,319.39 L565.70,319.61 L566.42,319.81 L567.13,320.02 L567.84,320.21 L568.55,320.41 L569.26,320.59 L569.98,320.78 L570.69,320.95 L571.40,321.13 L572.11,321.30 L572.82,321.46 L573.54,321.62 L574.25,321.78 L574.96,321.94 L575.67,322.08 L576.38,322.23 L577.10,322.37 L577.81,322.51 L578.52,322.65 L579.23,322.78 L579.94,322.91 L580.66,323.03 L581.37,323.16 L582.08,323.28 L582.79,323.39 L583.50,323.51 L584.22,323.62 L584.93,323.73 L585.64,323.83 L586.35,323.94 L587.06,324.04 L587.78,324.14 L588.49,324.23 L589.20,324.33 L589.91,324.42 L590.62,324.51 L591.34,324.60 L592.05,324.69 L592.76,324.77 L593.47,324.85 L594.18,324.93 L594.90,325.01 L595.61,325.09 L596.32,325.16 L597.03,325.24 L597.74,325.31 L598.46,325.38 L599.17,325.45 L599.88,325.52 L600.59,325.58 L601.30,325.65 L602.02,325.71 L602.73,325.77 L603.44,325.83 L604.15,325.89 L604.86,325.95 L605.58,326.00 L606.29,326.06 L607.00,326.11" stroke="#ff0000" stroke-width="0.9" fill="none" stroke-linejoin="round"/>
<path d="M464.60,259.38 L465.31,259.38 L466.02,259.38 L466.74,259.38 L467.45,259.38 L468.16,259.38 L468.87,259.38 L469.58,259.38 L470.30,259.38 L471.01,259.38 L471.72,259.38 L472.43,259.38 L473.14,259.39 L473.86,259.39 L474.57,259.39 L475.28,259.39 L475.99,259.39 L476.70,259.39 L477.42,259.39 L478.13,259.39 L478.84,259.39 L479.55,259.39 L480.26,259.39 L480.98,259.39 L481.69,259.39 L482.40,259.39 L483.11,259.39 L483.82,259.39 L484.54,259.39 L485.25,259.39 L485.96,259.40 L486.67,259.40 L487.38,259.40 L488.10,259.40 L488.81,259.40 L489.52,259.40 L490.23,259.40 L490.94,259.40 L491.66,259.40 L492.37,259.40 L493.08,259.40 L493.79,259.40 L494.50,259.40 L495.22,259.40 L495.93,259.40 L496.64,259.40 L497.35,259.40 L498.06,259.40 L498.78,259.40 L499.49,259.40 L500.20,259.40 L500.91,259.40 L501.62,259.40 L502.34,259.40 L503.05,259.40 L503.76,259.40 L504.47,259.40 L505.18,259.41 L505.90,259.41 L506.61,259.41 L507.32,259.41 L508.03,259.41 L508.74,259.41 L509.46,259.41 L510.17,259.41 L510.88,259.41 L511.59,259.41 L512.30,259.41 L513.02,259.41 L513.73,259.41 L514.44,259.41 L515.15,259.41 L515.86,259.41 L516.58,259.41 L517.29,259.41 L518.00,259.41 L518.71,259.41 L519.42,259.41 L520.14,259.41 L520.85,259.41 L521.56,259.41 L522.27,259.41 L522.98,259.42 L523.70,259.42 L524.41,259.42 L525.12,259.42 L525.83,259.42 L526.54,259.42 L527.26,259.42 L527.97,259.42 L528.68,259.42 L529.39,259.42 L530.10,259.42 L530.82,259.42 L531.53,259.42 L532.24,259.42 L532.95,259.42 L533.66,259.42 L534.38,259.42 L535.09,259.43 L535.80,259.43 L536.51,259.43 L537.22,259.43 L537.94,259.43 L538.65,259.43 L539.36,259.43 L540.07,259.43 L540.78,259.43 L541.50,259.43 L542.21,259.43 L542.92,259.43 L543.63,259.43 L544.34,259.44 L545.06,259.44 L545.77,259.44 L546.48,259.44 L547.19,259.44 L547.90,259.44 L548.62,259.44 L549.33,259.44 L550.04,259.44 L550.75,259.45 L551.46,259.45 L552.18,259.45 L552.89,259.45 L553.60,259.45 L554.31,259.45 L555.02,259.45 L555.74,259.45 L556.45,259.46 L557.16,259.46 L557.87,259.46 L558.58,259.46 L559.30,259.46 L560.01,259.46 L560.72,259.46 L561.43,259.47 L562.14,259.47 L562.86,259.47 L563.57,259.47 L564.28,259.47 L564.99,259.47 L565.70,259.48 L566.42,259.48 L567.13,259.48 L567.84,259.48 L568.55,259.48 L569.26,259.48 L569.98,259.49 L570.69,259.49 L571.40,259.49 L572.11,259.49 L572.82,259.49 L573.54,259.50 L574.25,259.50 L574.96,259.50 L575.67,259.50 L576.38,259.50 L577.10,259.51 L577.81,259.51 L578.52,259.51 L579.23,259.53 L579.94,259.57 L580.66,259.64 L581.37,259.74 L582.08,259.85 L582.79,259.99 L583.50,260.14 L584.22,260.32 L584.93,260.50 L585.64,260.70 L586.35,260.91 L587.06,261.13 L587.78,261.38 L588.49,261.71 L589.20,262.13 L589.91,262.62 L590.62,263.18 L591.34,263.79 L592.05,264.45 L592.76,265.15 L593.47,265.88 L594.18,266.62 L594.90,267.38 L595.61,268.22 L596.32,269.15 L597.03,270.18 L597.74,271.27 L598.46,272.42 L599.17,273.60 L599.88,274.80 L600.59,276.08 L601.30,277.44 L602.02,278.87 L602.73,280.31 L603.44,281.75 L604.15,283.16 L604.86,284.57 L605.58,286.00 L606.29,287.42 L607.00,288.84" stroke="#000" stroke-width="0.9" fill="none" stroke-linejoin="round"/>
<path d="M464.60,256.48V260.52M462.90,256.48h3.40M462.90,260.52h3.40" stroke="#ff0000" stroke-width="0.8" fill="none" />
<path d="M500.20,251.08V264.57M498.50,251.08h3.40M498.50,264.57h3.40" stroke="#ff0000" stroke-width="0.8" fill="none" />
<path d="M535.80,300.31V305.70M534.10,300.31h3.40M534.10,305.70h3.40" stroke="#ff0000" stroke-width="0.8" fill="none" />
<rect x="462.80" y="256.70" width="3.60" height="3.60" fill="#ff0000"/>
<rect x="498.40" y="256.03" width="3.60" height="3.60" fill="#ff0000"/>
<rect x="534.00" y="301.20" width="3.60" height="3.60" fill="#ff0000"/>
<rect x="605.20" y="326.15" width="3.60" height="3.60" fill="#ff0000"/>
<path d="M464.60,260.25V269.69M462.90,260.25h3.40M462.90,269.69h3.40" stroke="#000" stroke-width="0.8" fill="none" />
<path d="M500.20,258.84V266.93M498.50,258.84h3.40M498.50,266.93h3.40" stroke="#000" stroke-width="0.8" fill="none" />
<path d="M535.80,255.13V257.83M534.10,255.13h3.40M534.10,257.83h3.40" stroke="#000" stroke-width="0.8" fill="none" />
<circle cx="464.60" cy="264.97" r="1.90" fill="#000"/>
<circle cx="500.20" cy="262.88" r="1.90" fill="#000"/>
<circle cx="535.80" cy="256.48" r="1.90" fill="#000"/>
<circle cx="607.00" cy="289.11" r="1.90" fill="#000"/>
<line x1="491.20" y1="232.00" x2="501.80" y2="232.00" stroke="#000" stroke-width="0.8" />
<circle cx="496.50" cy="232.00" r="1.80" fill="#000"/>
<line x1="491.20" y1="243.20" x2="501.80" y2="243.20" stroke="#ff0000" stroke-width="0.8" />
<rect x="494.70" y="241.40" width="3.60" height="3.60" fill="#ff0000"/>
<text x="507.00" y="234.91" font-size="7.3" textLength="95.80">-DOX (HORMAD1 negative)</text>
<text x="507.00" y="246.21" font-size="7.3" textLength="96.00">+ DOX (HORMAD1 positive)</text>
<line x1="609.00" y1="230.00" x2="609.00" y2="248.70" stroke="#000" stroke-width="1.0" />
<text x="619.30" y="242.31" font-size="10.5" textLength="43.70" font-style="italic" fill="#000">p=0.0015</text>
<text x="21.70" y="386.43" font-size="15.3" font-weight="bold">E.</text>
<line x1="43.70" y1="414.90" x2="43.70" y2="515.30" stroke="#000" stroke-width="1.1" />
<line x1="40.20" y1="511.80" x2="43.70" y2="511.80" stroke="#000" stroke-width="1.1" />
<text x="38.40" y="515.24" font-size="10.0" text-anchor="end">0.0</text>
<line x1="40.20" y1="495.65" x2="43.70" y2="495.65" stroke="#000" stroke-width="1.1" />
<text x="38.40" y="499.09" font-size="10.0" text-anchor="end">0.2</text>
<line x1="40.20" y1="479.50" x2="43.70" y2="479.50" stroke="#000" stroke-width="1.1" />
<text x="38.40" y="482.94" font-size="10.0" text-anchor="end">0.4</text>
<line x1="40.20" y1="463.35" x2="43.70" y2="463.35" stroke="#000" stroke-width="1.1" />
<text x="38.40" y="466.79" font-size="10.0" text-anchor="end">0.6</text>
<line x1="40.20" y1="447.20" x2="43.70" y2="447.20" stroke="#000" stroke-width="1.1" />
<text x="38.40" y="450.64" font-size="10.0" text-anchor="end">0.8</text>
<line x1="40.20" y1="431.05" x2="43.70" y2="431.05" stroke="#000" stroke-width="1.1" />
<text x="38.40" y="434.49" font-size="10.0" text-anchor="end">1.0</text>
<line x1="40.20" y1="414.90" x2="43.70" y2="414.90" stroke="#000" stroke-width="1.1" />
<text x="38.40" y="418.34" font-size="10.0" text-anchor="end">1.2</text>
<line x1="43.70" y1="511.80" x2="189.40" y2="511.80" stroke="#000" stroke-width="1.1" />
<line x1="43.70" y1="511.80" x2="43.70" y2="515.30" stroke="#000" stroke-width="1.1" />
<text x="43.70" y="526.94" font-size="10.0" text-anchor="middle">0</text>
<line x1="72.84" y1="511.80" x2="72.84" y2="515.30" stroke="#000" stroke-width="1.1" />
<text x="72.84" y="526.94" font-size="10.0" text-anchor="middle">5</text>
<line x1="101.98" y1="511.80" x2="101.98" y2="515.30" stroke="#000" stroke-width="1.1" />
<text x="101.98" y="526.94" font-size="10.0" text-anchor="middle">10</text>
<line x1="131.12" y1="511.80" x2="131.12" y2="515.30" stroke="#000" stroke-width="1.1" />
<text x="131.12" y="526.94" font-size="10.0" text-anchor="middle">15</text>
<line x1="160.26" y1="511.80" x2="160.26" y2="515.30" stroke="#000" stroke-width="1.1" />
<text x="160.26" y="526.94" font-size="10.0" text-anchor="middle">20</text>
<line x1="189.40" y1="511.80" x2="189.40" y2="515.30" stroke="#000" stroke-width="1.1" />
<text x="189.40" y="526.94" font-size="10.0" text-anchor="middle">25</text>
<text x="45.00" y="388.51" font-size="10.2" textLength="81.80">AZD2811 – RPE1</text>
<text x="12.60" y="461.00" font-size="10.0" text-anchor="middle" textLength="80.00" fill="#000" transform="rotate(-90 12.60 461.00)">Surviving fraction</text>
<text x="81.00" y="544.44" font-size="10.0" textLength="68.80">AZD2811 (nM)</text>
<path d="M43.70,424.59 L44.43,424.59 L45.16,424.59 L45.89,424.59 L46.61,424.59 L47.34,424.59 L48.07,424.59 L48.80,424.60 L49.53,424.60 L50.26,424.61 L50.98,424.62 L51.71,424.63 L52.44,424.64 L53.17,424.66 L53.90,424.68 L54.63,424.71 L55.36,424.74 L56.08,424.77 L56.81,424.81 L57.54,424.86 L58.27,424.91 L59.00,424.97 L59.73,425.04 L60.46,425.11 L61.18,425.19 L61.91,425.29 L62.64,425.39 L63.37,425.50 L64.10,425.62 L64.83,425.75 L65.56,425.90 L66.28,426.05 L67.01,426.22 L67.74,426.40 L68.47,426.60 L69.20,426.81 L69.93,427.03 L70.65,427.27 L71.38,427.52 L72.11,427.79 L72.84,428.07 L73.57,428.37 L74.30,428.69 L75.03,429.02 L75.75,429.37 L76.48,429.74 L77.21,430.13 L77.94,430.53 L78.67,430.95 L79.40,431.39 L80.12,431.84 L80.85,432.31 L81.58,432.80 L82.31,433.31 L83.04,433.84 L83.77,434.38 L84.50,434.94 L85.22,435.52 L85.95,436.11 L86.68,436.72 L87.41,437.34 L88.14,437.98 L88.87,438.64 L89.60,439.30 L90.32,439.99 L91.05,440.68 L91.78,441.39 L92.51,442.11 L93.24,442.84 L93.97,443.59 L94.69,444.34 L95.42,445.10 L96.15,445.87 L96.88,446.65 L97.61,447.44 L98.34,448.23 L99.07,449.03 L99.79,449.83 L100.52,450.64 L101.25,451.45 L101.98,452.26 L102.71,453.08 L103.44,453.90 L104.17,454.72 L104.89,455.54 L105.62,456.35 L106.35,457.17 L107.08,457.99 L107.81,458.80 L108.54,459.61 L109.27,460.42 L109.99,461.22 L110.72,462.02 L111.45,462.81 L112.18,463.60 L112.91,464.38 L113.64,465.15 L114.36,465.92 L115.09,466.68 L115.82,467.43 L116.55,468.18 L117.28,468.92 L118.01,469.65 L118.74,470.37 L119.46,471.08 L120.19,471.78 L120.92,472.47 L121.65,473.16 L122.38,473.83 L123.11,474.49 L123.84,475.15 L124.56,475.79 L125.29,476.43 L126.02,477.05 L126.75,477.67 L127.48,478.27 L128.21,478.86 L128.93,479.45 L129.66,480.02 L130.39,480.59 L131.12,481.14 L131.85,481.69 L132.58,482.22 L133.31,482.75 L134.03,483.26 L134.76,483.77 L135.49,484.26 L136.22,484.75 L136.95,485.22 L137.68,485.69 L138.41,486.15 L139.13,486.60 L139.86,487.04 L140.59,487.47 L141.32,487.90 L142.05,488.31 L142.78,488.72 L143.50,489.12 L144.23,489.51 L144.96,489.89 L145.69,490.26 L146.42,490.63 L147.15,490.99 L147.88,491.34 L148.60,491.68 L149.33,492.02 L150.06,492.35 L150.79,492.67 L151.52,492.99 L152.25,493.30 L152.97,493.60 L153.70,493.90 L154.43,494.19 L155.16,494.47 L155.89,494.75 L156.62,495.02 L157.35,495.29 L158.07,495.55 L158.80,495.80 L159.53,496.05 L160.26,496.30 L160.99,496.54 L161.72,496.77 L162.45,497.00 L163.17,497.22 L163.90,497.44 L164.63,497.66 L165.36,497.87 L166.09,498.08 L166.82,498.28 L167.54,498.48 L168.27,498.67 L169.00,498.86 L169.73,499.04 L170.46,499.23 L171.19,499.40 L171.92,499.58 L172.64,499.75 L173.37,499.92 L174.10,500.08 L174.83,500.24 L175.56,500.40 L176.29,500.55 L177.02,500.70 L177.74,500.85 L178.47,500.99 L179.20,501.13 L179.93,501.27 L180.66,501.41 L181.39,501.54 L182.12,501.67 L182.84,501.80 L183.57,501.92 L184.30,502.05 L185.03,502.17 L185.76,502.29 L186.49,502.40 L187.21,502.51 L187.94,502.63 L188.67,502.73 L189.40,502.84" stroke="#000" stroke-width="0.9" fill="none" stroke-linejoin="round"/>
<path d="M43.70,431.05 L44.43,431.07 L45.16,431.14 L45.89,431.27 L46.61,431.46 L47.34,431.72 L48.07,432.04 L48.80,432.44 L49.53,432.90 L50.26,433.43 L50.98,434.02 L51.71,434.68 L52.44,435.40 L53.17,436.18 L53.90,437.02 L54.63,437.91 L55.36,438.84 L56.08,439.82 L56.81,440.84 L57.54,441.90 L58.27,442.99 L59.00,444.10 L59.73,445.24 L60.46,446.40 L61.18,447.57 L61.91,448.75 L62.64,449.94 L63.37,451.13 L64.10,452.33 L64.83,453.52 L65.56,454.70 L66.28,455.88 L67.01,457.05 L67.74,458.21 L68.47,459.35 L69.20,460.47 L69.93,461.58 L70.65,462.67 L71.38,463.74 L72.11,464.79 L72.84,465.82 L73.57,466.82 L74.30,467.81 L75.03,468.77 L75.75,469.71 L76.48,470.62 L77.21,471.52 L77.94,472.39 L78.67,473.23 L79.40,474.06 L80.12,474.86 L80.85,475.64 L81.58,476.40 L82.31,477.13 L83.04,477.85 L83.77,478.54 L84.50,479.22 L85.22,479.88 L85.95,480.51 L86.68,481.13 L87.41,481.73 L88.14,482.31 L88.87,482.88 L89.60,483.42 L90.32,483.96 L91.05,484.47 L91.78,484.97 L92.51,485.46 L93.24,485.93 L93.97,486.38 L94.69,486.83 L95.42,487.26 L96.15,487.68 L96.88,488.08 L97.61,488.47 L98.34,488.86 L99.07,489.23 L99.79,489.59 L100.52,489.94 L101.25,490.28 L101.98,490.61 L102.71,490.93 L103.44,491.24 L104.17,491.54 L104.89,491.83 L105.62,492.12 L106.35,492.40 L107.08,492.66 L107.81,492.93 L108.54,493.18 L109.27,493.43 L109.99,493.67 L110.72,493.91 L111.45,494.13 L112.18,494.36 L112.91,494.57 L113.64,494.78 L114.36,494.99 L115.09,495.19 L115.82,495.38 L116.55,495.57 L117.28,495.75 L118.01,495.93 L118.74,496.11 L119.46,496.28 L120.19,496.45 L120.92,496.61 L121.65,496.77 L122.38,496.92 L123.11,497.07 L123.84,497.22 L124.56,497.36 L125.29,497.50 L126.02,497.63 L126.75,497.77 L127.48,497.90 L128.21,498.02 L128.93,498.15 L129.66,498.27 L130.39,498.39 L131.12,498.50 L131.85,498.61 L132.58,498.72 L133.31,498.83 L134.03,498.94 L134.76,499.04 L135.49,499.14 L136.22,499.24 L136.95,499.33 L137.68,499.43 L138.41,499.52 L139.13,499.61 L139.86,499.70 L140.59,499.78 L141.32,499.87 L142.05,499.95 L142.78,500.03 L143.50,500.11 L144.23,500.19 L144.96,500.26 L145.69,500.34 L146.42,500.41 L147.15,500.48 L147.88,500.55 L148.60,500.62 L149.33,500.68 L150.06,500.75 L150.79,500.81 L151.52,500.88 L152.25,500.94 L152.97,501.00 L153.70,501.06 L154.43,501.12 L155.16,501.17 L155.89,501.23 L156.62,501.28 L157.35,501.34 L158.07,501.39 L158.80,501.44 L159.53,501.49 L160.26,501.54 L160.99,501.59 L161.72,501.64 L162.45,501.69 L163.17,501.74 L163.90,501.78 L164.63,501.83 L165.36,501.87 L166.09,501.91 L166.82,501.96 L167.54,502.00 L168.27,502.04 L169.00,502.08 L169.73,502.12 L170.46,502.16 L171.19,502.19 L171.92,502.23 L172.64,502.27 L173.37,502.31 L174.10,502.34 L174.83,502.38 L175.56,502.41 L176.29,502.44 L177.02,502.48 L177.74,502.51 L178.47,502.54 L179.20,502.57 L179.93,502.61 L180.66,502.64 L181.39,502.67 L182.12,502.70 L182.84,502.73 L183.57,502.75 L184.30,502.78 L185.03,502.81 L185.76,502.84 L186.49,502.87 L187.21,502.89 L187.94,502.92 L188.67,502.94 L189.40,502.97" stroke="#ff0000" stroke-width="0.9" fill="none" stroke-linejoin="round"/>
<path d="M43.70,422.17V439.93M42.00,422.17h3.40M42.00,439.93h3.40" stroke="#ff0000" stroke-width="0.8" fill="none" />
<path d="M80.12,464.16V485.15M78.42,464.16h3.40M78.42,485.15h3.40" stroke="#ff0000" stroke-width="0.8" fill="none" />
<path d="M116.55,486.77V501.30M114.85,486.77h3.40M114.85,501.30h3.40" stroke="#ff0000" stroke-width="0.8" fill="none" />
<rect x="41.90" y="429.25" width="3.60" height="3.60" fill="#ff0000"/>
<rect x="78.33" y="472.85" width="3.60" height="3.60" fill="#ff0000"/>
<rect x="114.75" y="492.24" width="3.60" height="3.60" fill="#ff0000"/>
<rect x="187.60" y="503.14" width="3.60" height="3.60" fill="#ff0000"/>
<path d="M80.12,420.15V438.72M78.42,420.15h3.40M78.42,438.72h3.40" stroke="#000" stroke-width="0.8" fill="none" />
<path d="M116.55,462.54V472.23M114.85,462.54h3.40M114.85,472.23h3.40" stroke="#000" stroke-width="0.8" fill="none" />
<circle cx="43.70" cy="431.05" r="1.90" fill="#000"/>
<circle cx="80.12" cy="429.43" r="1.90" fill="#000"/>
<circle cx="116.55" cy="467.39" r="1.90" fill="#000"/>
<circle cx="189.40" cy="503.73" r="1.90" fill="#000"/>
<line x1="64.30" y1="398.00" x2="74.90" y2="398.00" stroke="#000" stroke-width="0.8" />
<circle cx="69.60" cy="398.00" r="1.80" fill="#000"/>
<line x1="64.30" y1="411.90" x2="74.90" y2="411.90" stroke="#ff0000" stroke-width="0.8" />
<rect x="67.80" y="410.10" width="3.60" height="3.60" fill="#ff0000"/>
<text x="80.40" y="400.71" font-size="7.3" textLength="98.20">-DOX (HORMAD1 negative)</text>
<text x="80.40" y="414.51" font-size="7.3" textLength="96.60">+DOX (HORMAD1 positive)</text>
<line x1="183.10" y1="396.20" x2="183.10" y2="414.90" stroke="#000" stroke-width="1.0" />
<text x="186.10" y="405.94" font-size="10.3" textLength="43.70" font-style="italic" fill="#000">p=0.0257</text>
<text x="240.20" y="386.43" font-size="15.3" font-weight="bold">F.</text>
<line x1="270.50" y1="418.70" x2="270.50" y2="515.80" stroke="#000" stroke-width="1.1" />
<line x1="267.00" y1="512.30" x2="270.50" y2="512.30" stroke="#000" stroke-width="1.1" />
<text x="266.00" y="515.74" font-size="10.0" text-anchor="end">0.0</text>
<line x1="267.00" y1="481.10" x2="270.50" y2="481.10" stroke="#000" stroke-width="1.1" />
<text x="266.00" y="484.54" font-size="10.0" text-anchor="end">0.5</text>
<line x1="267.00" y1="449.90" x2="270.50" y2="449.90" stroke="#000" stroke-width="1.1" />
<text x="266.00" y="453.34" font-size="10.0" text-anchor="end">1.0</text>
<line x1="267.00" y1="418.70" x2="270.50" y2="418.70" stroke="#000" stroke-width="1.1" />
<text x="266.00" y="422.14" font-size="10.0" text-anchor="end">1.5</text>
<line x1="270.50" y1="512.30" x2="411.20" y2="512.30" stroke="#000" stroke-width="1.1" />
<line x1="270.50" y1="512.30" x2="270.50" y2="515.80" stroke="#000" stroke-width="1.1" />
<text x="270.50" y="527.64" font-size="10.0" text-anchor="middle">0</text>
<line x1="298.64" y1="512.30" x2="298.64" y2="515.80" stroke="#000" stroke-width="1.1" />
<text x="298.64" y="527.64" font-size="10.0" text-anchor="middle">100</text>
<line x1="326.78" y1="512.30" x2="326.78" y2="515.80" stroke="#000" stroke-width="1.1" />
<text x="326.78" y="527.64" font-size="10.0" text-anchor="middle">200</text>
<line x1="354.92" y1="512.30" x2="354.92" y2="515.80" stroke="#000" stroke-width="1.1" />
<text x="354.92" y="527.64" font-size="10.0" text-anchor="middle">300</text>
<line x1="383.06" y1="512.30" x2="383.06" y2="515.80" stroke="#000" stroke-width="1.1" />
<text x="383.06" y="527.64" font-size="10.0" text-anchor="middle">400</text>
<line x1="411.20" y1="512.30" x2="411.20" y2="515.80" stroke="#000" stroke-width="1.1" />
<text x="411.20" y="527.64" font-size="10.0" text-anchor="middle">500</text>
<text x="301.90" y="391.01" font-size="10.2" textLength="96.60">AZD2811 – SUM159</text>
<text x="245.20" y="463.50" font-size="10.0" text-anchor="middle" textLength="77.00" fill="#000" transform="rotate(-90 245.20 463.50)">Surviving fraction</text>
<text x="313.60" y="543.64" font-size="10.0" textLength="67.40">AZD2811 (nM)</text>
<path d="M270.50,436.17 L271.20,436.18 L271.91,436.21 L272.61,436.25 L273.31,436.32 L274.02,436.41 L274.72,436.53 L275.42,436.67 L276.13,436.83 L276.83,437.02 L277.54,437.23 L278.24,437.46 L278.94,437.72 L279.65,438.01 L280.35,438.31 L281.05,438.64 L281.76,439.00 L282.46,439.37 L283.16,439.77 L283.87,440.19 L284.57,440.63 L285.27,441.08 L285.98,441.56 L286.68,442.06 L287.38,442.57 L288.09,443.10 L288.79,443.64 L289.49,444.20 L290.20,444.77 L290.90,445.36 L291.61,445.95 L292.31,446.56 L293.01,447.18 L293.72,447.81 L294.42,448.44 L295.12,449.09 L295.83,449.74 L296.53,450.39 L297.23,451.05 L297.94,451.72 L298.64,452.39 L299.34,453.06 L300.05,453.73 L300.75,454.40 L301.45,455.08 L302.16,455.75 L302.86,456.42 L303.56,457.09 L304.27,457.76 L304.97,458.43 L305.68,459.09 L306.38,459.76 L307.08,460.41 L307.79,461.06 L308.49,461.71 L309.19,462.36 L309.90,462.99 L310.60,463.62 L311.30,464.25 L312.01,464.87 L312.71,465.48 L313.41,466.09 L314.12,466.69 L314.82,467.28 L315.52,467.87 L316.23,468.44 L316.93,469.02 L317.63,469.58 L318.34,470.13 L319.04,470.68 L319.75,471.22 L320.45,471.76 L321.15,472.28 L321.86,472.80 L322.56,473.31 L323.26,473.81 L323.97,474.30 L324.67,474.79 L325.37,475.27 L326.08,475.74 L326.78,476.20 L327.48,476.66 L328.19,477.11 L328.89,477.55 L329.59,477.98 L330.30,478.41 L331.00,478.83 L331.70,479.24 L332.41,479.64 L333.11,480.04 L333.81,480.43 L334.52,480.82 L335.22,481.20 L335.93,481.57 L336.63,481.93 L337.33,482.29 L338.04,482.64 L338.74,482.99 L339.44,483.33 L340.15,483.66 L340.85,483.99 L341.55,484.31 L342.26,484.63 L342.96,484.94 L343.66,485.24 L344.37,485.54 L345.07,485.83 L345.77,486.12 L346.48,486.41 L347.18,486.69 L347.88,486.96 L348.59,487.23 L349.29,487.49 L350.00,487.75 L350.70,488.01 L351.40,488.26 L352.11,488.50 L352.81,488.74 L353.51,488.98 L354.22,489.21 L354.92,489.44 L355.62,489.67 L356.33,489.89 L357.03,490.11 L357.73,490.32 L358.44,490.53 L359.14,490.74 L359.84,490.94 L360.55,491.14 L361.25,491.33 L361.95,491.52 L362.66,491.71 L363.36,491.90 L364.07,492.08 L364.77,492.26 L365.47,492.44 L366.18,492.61 L366.88,492.78 L367.58,492.95 L368.29,493.11 L368.99,493.27 L369.69,493.43 L370.40,493.59 L371.10,493.74 L371.80,493.89 L372.51,494.04 L373.21,494.19 L373.91,494.33 L374.62,494.47 L375.32,494.61 L376.02,494.75 L376.73,494.89 L377.43,495.02 L378.14,495.15 L378.84,495.28 L379.54,495.40 L380.25,495.53 L380.95,495.65 L381.65,495.77 L382.36,495.89 L383.06,496.01 L383.76,496.12 L384.47,496.23 L385.17,496.34 L385.87,496.45 L386.58,496.56 L387.28,496.67 L387.98,496.77 L388.69,496.87 L389.39,496.98 L390.09,497.08 L390.80,497.17 L391.50,497.27 L392.21,497.37 L392.91,497.46 L393.61,497.55 L394.32,497.64 L395.02,497.73 L395.72,497.82 L396.43,497.91 L397.13,498.00 L397.83,498.08 L398.54,498.16 L399.24,498.25 L399.94,498.33 L400.65,498.41 L401.35,498.48 L402.05,498.56 L402.76,498.64 L403.46,498.71 L404.16,498.79 L404.87,498.86 L405.57,498.93 L406.28,499.00 L406.98,499.07 L407.68,499.14 L408.39,499.21 L409.09,499.28 L409.79,499.35 L410.50,499.41 L411.20,499.48" stroke="#000" stroke-width="0.9" fill="none" stroke-linejoin="round"/>
<path d="M270.50,449.90 L271.20,450.11 L271.91,450.67 L272.61,451.53 L273.31,452.66 L274.02,454.00 L274.72,455.53 L275.42,457.19 L276.13,458.95 L276.83,460.77 L277.54,462.62 L278.24,464.47 L278.94,466.31 L279.65,468.11 L280.35,469.86 L281.05,471.55 L281.76,473.18 L282.46,474.74 L283.16,476.22 L283.87,477.63 L284.57,478.97 L285.27,480.23 L285.98,481.43 L286.68,482.55 L287.38,483.61 L288.09,484.61 L288.79,485.56 L289.49,486.44 L290.20,487.28 L290.90,488.06 L291.61,488.80 L292.31,489.50 L293.01,490.16 L293.72,490.78 L294.42,491.36 L295.12,491.91 L295.83,492.43 L296.53,492.93 L297.23,493.39 L297.94,493.83 L298.64,494.25 L299.34,494.64 L300.05,495.02 L300.75,495.37 L301.45,495.71 L302.16,496.03 L302.86,496.33 L303.56,496.62 L304.27,496.89 L304.97,497.16 L305.68,497.41 L306.38,497.64 L307.08,497.87 L307.79,498.09 L308.49,498.29 L309.19,498.49 L309.90,498.68 L310.60,498.86 L311.30,499.03 L312.01,499.20 L312.71,499.36 L313.41,499.51 L314.12,499.66 L314.82,499.80 L315.52,499.93 L316.23,500.06 L316.93,500.19 L317.63,500.31 L318.34,500.42 L319.04,500.53 L319.75,500.64 L320.45,500.74 L321.15,500.84 L321.86,500.94 L322.56,501.03 L323.26,501.12 L323.97,501.20 L324.67,501.29 L325.37,501.37 L326.08,501.44 L326.78,501.52 L327.48,501.59 L328.19,501.66 L328.89,501.73 L329.59,501.79 L330.30,501.86 L331.00,501.92 L331.70,501.98 L332.41,502.04 L333.11,502.09 L333.81,502.15 L334.52,502.20 L335.22,502.25 L335.93,502.30 L336.63,502.35 L337.33,502.39 L338.04,502.44 L338.74,502.48 L339.44,502.53 L340.15,502.57 L340.85,502.61 L341.55,502.65 L342.26,502.69 L342.96,502.73 L343.66,502.76 L344.37,502.80 L345.07,502.83 L345.77,502.87 L346.48,502.90 L347.18,502.93 L347.88,502.96 L348.59,502.99 L349.29,503.02 L350.00,503.05 L350.70,503.08 L351.40,503.11 L352.11,503.13 L352.81,503.16 L353.51,503.19 L354.22,503.21 L354.92,503.24 L355.62,503.26 L356.33,503.28 L357.03,503.31 L357.73,503.33 L358.44,503.35 L359.14,503.37 L359.84,503.39 L360.55,503.41 L361.25,503.43 L361.95,503.45 L362.66,503.47 L363.36,503.49 L364.07,503.51 L364.77,503.53 L365.47,503.54 L366.18,503.56 L366.88,503.58 L367.58,503.60 L368.29,503.61 L368.99,503.63 L369.69,503.64 L370.40,503.66 L371.10,503.67 L371.80,503.69 L372.51,503.70 L373.21,503.72 L373.91,503.73 L374.62,503.74 L375.32,503.76 L376.02,503.77 L376.73,503.78 L377.43,503.80 L378.14,503.81 L378.84,503.82 L379.54,503.83 L380.25,503.84 L380.95,503.86 L381.65,503.87 L382.36,503.88 L383.06,503.89 L383.76,503.90 L384.47,503.91 L385.17,503.92 L385.87,503.93 L386.58,503.94 L387.28,503.95 L387.98,503.96 L388.69,503.97 L389.39,503.98 L390.09,503.99 L390.80,504.00 L391.50,504.01 L392.21,504.01 L392.91,504.02 L393.61,504.03 L394.32,504.04 L395.02,504.05 L395.72,504.06 L396.43,504.06 L397.13,504.07 L397.83,504.08 L398.54,504.09 L399.24,504.09 L399.94,504.10 L400.65,504.11 L401.35,504.12 L402.05,504.12 L402.76,504.13 L403.46,504.14 L404.16,504.14 L404.87,504.15 L405.57,504.16 L406.28,504.16 L406.98,504.17 L407.68,504.17 L408.39,504.18 L409.09,504.19 L409.79,504.19 L410.50,504.20 L411.20,504.20" stroke="#ff0000" stroke-width="0.9" fill="none" stroke-linejoin="round"/>
<rect x="268.70" y="448.10" width="3.60" height="3.60" fill="#ff0000"/>
<rect x="303.88" y="491.78" width="3.60" height="3.60" fill="#ff0000"/>
<rect x="339.05" y="503.64" width="3.60" height="3.60" fill="#ff0000"/>
<rect x="409.40" y="504.26" width="3.60" height="3.60" fill="#ff0000"/>
<path d="M305.68,430.56V460.51M303.98,430.56h3.40M303.98,460.51h3.40" stroke="#000" stroke-width="0.8" fill="none" />
<path d="M340.85,482.60V489.59M339.15,482.60h3.40M339.15,489.59h3.40" stroke="#000" stroke-width="0.8" fill="none" />
<circle cx="270.50" cy="449.90" r="1.90" fill="#000"/>
<circle cx="305.68" cy="445.53" r="1.90" fill="#000"/>
<circle cx="340.85" cy="486.09" r="1.90" fill="#000"/>
<circle cx="411.20" cy="502.32" r="1.90" fill="#000"/>
<line x1="298.40" y1="403.70" x2="309.00" y2="403.70" stroke="#000" stroke-width="0.8" />
<circle cx="303.70" cy="403.70" r="1.80" fill="#000"/>
<line x1="298.40" y1="416.20" x2="309.00" y2="416.20" stroke="#ff0000" stroke-width="0.8" />
<rect x="301.90" y="414.40" width="3.60" height="3.60" fill="#ff0000"/>
<text x="313.60" y="406.41" font-size="7.3" textLength="94.10">-DOX (HORMAD1 negative)</text>
<text x="313.60" y="418.71" font-size="7.3" textLength="92.40">+DOX (HORMAD1 positive)</text>
<line x1="412.50" y1="403.70" x2="412.50" y2="421.20" stroke="#000" stroke-width="1.0" />
<text x="422.40" y="412.24" font-size="10.3" textLength="43.70" font-style="italic" fill="#000">p=0.0215</text>
<text x="469.10" y="386.43" font-size="15.3" font-weight="bold">G.</text>
<line x1="507.30" y1="415.40" x2="507.30" y2="516.50" stroke="#000" stroke-width="1.1" />
<line x1="503.80" y1="513.00" x2="507.30" y2="513.00" stroke="#000" stroke-width="1.1" />
<text x="503.40" y="516.44" font-size="10.0" text-anchor="end">0.0</text>
<line x1="503.80" y1="496.73" x2="507.30" y2="496.73" stroke="#000" stroke-width="1.1" />
<text x="503.40" y="500.17" font-size="10.0" text-anchor="end">0.2</text>
<line x1="503.80" y1="480.47" x2="507.30" y2="480.47" stroke="#000" stroke-width="1.1" />
<text x="503.40" y="483.91" font-size="10.0" text-anchor="end">0.4</text>
<line x1="503.80" y1="464.20" x2="507.30" y2="464.20" stroke="#000" stroke-width="1.1" />
<text x="503.40" y="467.64" font-size="10.0" text-anchor="end">0.6</text>
<line x1="503.80" y1="447.93" x2="507.30" y2="447.93" stroke="#000" stroke-width="1.1" />
<text x="503.40" y="451.37" font-size="10.0" text-anchor="end">0.8</text>
<line x1="503.80" y1="431.67" x2="507.30" y2="431.67" stroke="#000" stroke-width="1.1" />
<text x="503.40" y="435.11" font-size="10.0" text-anchor="end">1.0</text>
<line x1="503.80" y1="415.40" x2="507.30" y2="415.40" stroke="#000" stroke-width="1.1" />
<text x="503.40" y="418.84" font-size="10.0" text-anchor="end">1.2</text>
<line x1="507.30" y1="513.00" x2="625.60" y2="513.00" stroke="#000" stroke-width="1.1" />
<line x1="507.30" y1="513.00" x2="507.30" y2="516.50" stroke="#000" stroke-width="1.1" />
<text x="507.30" y="526.24" font-size="10.0" text-anchor="middle">0</text>
<line x1="528.80" y1="513.00" x2="528.80" y2="516.50" stroke="#000" stroke-width="1.1" />
<text x="528.80" y="526.24" font-size="10.0" text-anchor="middle">20</text>
<line x1="550.30" y1="513.00" x2="550.30" y2="516.50" stroke="#000" stroke-width="1.1" />
<text x="550.30" y="526.24" font-size="10.0" text-anchor="middle">40</text>
<line x1="571.80" y1="513.00" x2="571.80" y2="516.50" stroke="#000" stroke-width="1.1" />
<text x="571.80" y="526.24" font-size="10.0" text-anchor="middle">60</text>
<line x1="593.30" y1="513.00" x2="593.30" y2="516.50" stroke="#000" stroke-width="1.1" />
<text x="593.30" y="526.24" font-size="10.0" text-anchor="middle">80</text>
<line x1="614.80" y1="513.00" x2="614.80" y2="516.50" stroke="#000" stroke-width="1.1" />
<text x="614.80" y="526.24" font-size="10.0" text-anchor="middle">100</text>
<text x="517.50" y="388.78" font-size="11.0" textLength="97.30">AZD2811 - SUM149</text>
<text x="482.20" y="462.40" font-size="10.0" text-anchor="middle" textLength="79.90" fill="#000" transform="rotate(-90 482.20 462.40)">Surviving fraction</text>
<text x="531.20" y="540.64" font-size="10.0" textLength="69.90">AZD2811 (nM)</text>
<line x1="507.30" y1="441.10" x2="614.80" y2="441.10" stroke="#000" stroke-width="0.8" />
<path d="M507.30,431.67 L507.84,431.67 L508.38,431.67 L508.91,431.67 L509.45,431.67 L509.99,431.67 L510.53,431.67 L511.06,431.67 L511.60,431.67 L512.14,431.67 L512.67,431.67 L513.21,431.67 L513.75,431.67 L514.29,431.67 L514.83,431.67 L515.36,431.67 L515.90,431.68 L516.44,431.68 L516.98,431.69 L517.51,431.70 L518.05,431.71 L518.59,431.72 L519.12,431.74 L519.66,431.76 L520.20,431.79 L520.74,431.83 L521.27,431.88 L521.81,431.93 L522.35,432.00 L522.89,432.09 L523.42,432.19 L523.96,432.31 L524.50,432.45 L525.04,432.62 L525.58,432.81 L526.11,433.04 L526.65,433.30 L527.19,433.60 L527.73,433.94 L528.26,434.33 L528.80,434.77 L529.34,435.26 L529.88,435.80 L530.41,436.40 L530.95,437.07 L531.49,437.79 L532.02,438.57 L532.56,439.42 L533.10,440.32 L533.64,441.29 L534.17,442.31 L534.71,443.37 L535.25,444.49 L535.79,445.64 L536.33,446.82 L536.86,448.03 L537.40,449.26 L537.94,450.50 L538.48,451.74 L539.01,452.97 L539.55,454.20 L540.09,455.40 L540.62,456.58 L541.16,457.73 L541.70,458.84 L542.24,459.92 L542.77,460.96 L543.31,461.95 L543.85,462.89 L544.39,463.80 L544.92,464.65 L545.46,465.46 L546.00,466.22 L546.54,466.94 L547.08,467.62 L547.61,468.25 L548.15,468.85 L548.69,469.40 L549.23,469.92 L549.76,470.41 L550.30,470.86 L550.84,471.28 L551.38,471.68 L551.91,472.04 L552.45,472.38 L552.99,472.70 L553.52,473.00 L554.06,473.27 L554.60,473.53 L555.14,473.77 L555.67,473.99 L556.21,474.19 L556.75,474.38 L557.29,474.56 L557.82,474.73 L558.36,474.88 L558.90,475.03 L559.44,475.16 L559.98,475.28 L560.51,475.40 L561.05,475.51 L561.59,475.61 L562.12,475.71 L562.66,475.79 L563.20,475.88 L563.74,475.95 L564.27,476.03 L564.81,476.09 L565.35,476.16 L565.89,476.22 L566.42,476.27 L566.96,476.32 L567.50,476.37 L568.04,476.42 L568.57,476.46 L569.11,476.50 L569.65,476.54 L570.19,476.57 L570.73,476.61 L571.26,476.64 L571.80,476.67 L572.34,476.70 L572.88,476.72 L573.41,476.75 L573.95,476.77 L574.49,476.79 L575.02,476.81 L575.56,476.83 L576.10,476.85 L576.64,476.87 L577.17,476.89 L577.71,476.90 L578.25,476.92 L578.79,476.93 L579.32,476.94 L579.86,476.96 L580.40,476.97 L580.94,476.98 L581.47,476.99 L582.01,477.00 L582.55,477.01 L583.09,477.02 L583.62,477.03 L584.16,477.03 L584.70,477.04 L585.24,477.05 L585.77,477.06 L586.31,477.06 L586.85,477.07 L587.39,477.08 L587.92,477.08 L588.46,477.09 L589.00,477.09 L589.54,477.10 L590.07,477.10 L590.61,477.11 L591.15,477.11 L591.69,477.11 L592.22,477.12 L592.76,477.12 L593.30,477.13 L593.84,477.13 L594.38,477.13 L594.91,477.14 L595.45,477.14 L595.99,477.14 L596.52,477.14 L597.06,477.15 L597.60,477.15 L598.14,477.15 L598.67,477.15 L599.21,477.16 L599.75,477.16 L600.29,477.16 L600.82,477.16 L601.36,477.16 L601.90,477.17 L602.44,477.17 L602.97,477.17 L603.51,477.17 L604.05,477.17 L604.59,477.17 L605.12,477.18 L605.66,477.18 L606.20,477.18 L606.74,477.18 L607.27,477.18 L607.81,477.18 L608.35,477.18 L608.89,477.18 L609.42,477.18 L609.96,477.19 L610.50,477.19 L611.04,477.19 L611.57,477.19 L612.11,477.19 L612.65,477.19 L613.19,477.19 L613.72,477.19 L614.26,477.19 L614.80,477.19" stroke="#ff0000" stroke-width="0.8" fill="none" stroke-linejoin="round"/>
<path d="M512.67,429.23V434.11M511.47,429.23h2.40M511.47,434.11h2.40" stroke="#ff0000" stroke-width="0.8" fill="none" />
<path d="M523.42,430.04V433.29M522.22,430.04h2.40M522.22,433.29h2.40" stroke="#ff0000" stroke-width="0.8" fill="none" />
<path d="M534.17,440.61V450.37M532.97,440.61h2.40M532.97,450.37h2.40" stroke="#ff0000" stroke-width="0.8" fill="none" />
<path d="M561.05,469.89V482.91M559.85,469.89h2.40M559.85,482.91h2.40" stroke="#ff0000" stroke-width="0.8" fill="none" />
<path d="M614.80,465.83V480.47M613.60,465.83h2.40M613.60,480.47h2.40" stroke="#ff0000" stroke-width="0.8" fill="none" />
<circle cx="507.30" cy="434.92" r="1.30" fill="#ff0000"/>
<circle cx="512.67" cy="431.67" r="1.30" fill="#ff0000"/>
<circle cx="523.42" cy="431.67" r="1.30" fill="#ff0000"/>
<circle cx="534.17" cy="445.49" r="1.30" fill="#ff0000"/>
<circle cx="561.05" cy="476.40" r="1.30" fill="#ff0000"/>
<circle cx="587.92" cy="482.09" r="1.30" fill="#ff0000"/>
<circle cx="614.80" cy="473.15" r="1.30" fill="#ff0000"/>
<path d="M534.17,437.36V445.49M532.97,437.36h2.40M532.97,445.49h2.40" stroke="#000" stroke-width="0.8" fill="none" />
<path d="M561.05,436.55V446.31M559.85,436.55h2.40M559.85,446.31h2.40" stroke="#000" stroke-width="0.8" fill="none" />
<circle cx="507.30" cy="431.67" r="1.30" fill="#000"/>
<circle cx="512.67" cy="447.93" r="1.30" fill="#000"/>
<circle cx="523.42" cy="447.93" r="1.30" fill="#000"/>
<circle cx="534.17" cy="441.43" r="1.30" fill="#000"/>
<circle cx="561.05" cy="441.43" r="1.30" fill="#000"/>
<circle cx="587.92" cy="436.55" r="1.30" fill="#000"/>
<circle cx="614.80" cy="441.43" r="1.30" fill="#000"/>
<line x1="517.50" y1="398.00" x2="522.50" y2="398.00" stroke="#000" stroke-width="0.8" />
<circle cx="520.00" cy="398.00" r="1.20" fill="#000"/>
<line x1="517.50" y1="408.20" x2="522.50" y2="408.20" stroke="#ff0000" stroke-width="0.8" />
<circle cx="520.00" cy="408.20" r="1.20" fill="#ff0000"/>
<text x="525.00" y="400.27" font-size="6.6" textLength="92.30">-DOX  (HORMAD1 negative)</text>
<text x="525.00" y="410.47" font-size="6.6" textLength="90.00">+DOX (HORMAD1 positive)</text>
<line x1="627.30" y1="397.00" x2="627.30" y2="414.40" stroke="#000" stroke-width="1.0" />
<text x="634.60" y="407.51" font-size="10.5" textLength="42.60" font-style="italic" fill="#000">p=0.0001</text>
<text x="21.70" y="583.93" font-size="15.3" font-weight="bold">H.</text>
<text x="67.00" y="635.20" font-size="10.3" text-anchor="start" transform="rotate(-37 67.00 635.20)">siControl</text>
<text x="96.50" y="635.20" font-size="10.3" text-anchor="start" transform="rotate(-37 96.50 635.20)">siBUB1 #1</text>
<text x="120.50" y="636.00" font-size="10.3" text-anchor="start" transform="rotate(-37 120.50 636.00)">siBUB1 #2</text>
<rect x="56.00" y="639.00" width="82.60" height="22.40" fill="#cbcbcb"/>
<rect x="56.00" y="639.00" width="82.60" height="22.40" fill="#000" filter="url(#noise)" opacity="0.10"/>
<ellipse cx="70.50" cy="648.40" rx="6.00" ry="1.90" fill="#111" opacity="1.0" filter="url(#b1)"/>
<ellipse cx="70.00" cy="644.50" rx="5.50" ry="3.50" fill="#888" opacity="0.5" filter="url(#b2)"/>
<ellipse cx="97.50" cy="646.50" rx="6.00" ry="4.00" fill="#888" opacity="0.75" filter="url(#b2)"/>
<ellipse cx="125.00" cy="647.00" rx="6.50" ry="4.00" fill="#8a8a8a" opacity="0.7" filter="url(#b2)"/>
<rect x="56.00" y="639.00" width="82.60" height="22.40" fill="none" stroke="#111" stroke-width="1.3"/>
<rect x="56.00" y="664.20" width="82.60" height="22.60" fill="#e6e6e6"/>
<rect x="56.00" y="664.20" width="82.60" height="22.60" fill="#000" filter="url(#noise)" opacity="0.10"/>
<ellipse cx="71.50" cy="676.40" rx="8.00" ry="2.10" fill="#2a2a2a" opacity="1.0" filter="url(#b1)"/>
<ellipse cx="96.50" cy="676.00" rx="8.80" ry="2.40" fill="#1c1c1c" opacity="1.0" filter="url(#b1)"/>
<ellipse cx="124.50" cy="675.00" rx="9.60" ry="2.60" fill="#050505" opacity="1.0" filter="url(#b1)"/>
<rect x="56.00" y="664.20" width="82.60" height="22.60" fill="none" stroke="#111" stroke-width="1.3"/>
<line x1="139.30" y1="647.60" x2="142.20" y2="647.60" stroke="#000" stroke-width="1.0" />
<line x1="139.30" y1="678.30" x2="142.20" y2="678.30" stroke="#000" stroke-width="1.0" />
<text x="16.20" y="655.75" font-size="13.8" textLength="35.00">BUB1</text>
<text x="0.30" y="680.95" font-size="13.8" textLength="52.10">β-ACTIN</text>
<text x="146.20" y="650.54" font-size="10.3" textLength="37.40">125 kDa</text>
<text x="144.40" y="681.54" font-size="10.3" textLength="32.50">40 kDa</text>
<text x="71.10" y="698.96" font-size="8.6" text-anchor="middle" fill="#222">1</text>
<text x="95.60" y="698.96" font-size="8.6" text-anchor="middle" fill="#222">0.33</text>
<text x="122.30" y="698.96" font-size="8.6" text-anchor="middle" fill="#222">0.38</text>
<text x="185.30" y="583.93" font-size="15.3" font-weight="bold">I.</text>
<line x1="247.70" y1="597.20" x2="247.70" y2="688.40" stroke="#000" stroke-width="1.1" />
<line x1="244.20" y1="684.90" x2="247.70" y2="684.90" stroke="#000" stroke-width="1.1" />
<text x="243.90" y="687.93" font-size="8.8" text-anchor="end">0.0</text>
<line x1="244.20" y1="670.28" x2="247.70" y2="670.28" stroke="#000" stroke-width="1.1" />
<text x="243.90" y="673.31" font-size="8.8" text-anchor="end">0.2</text>
<line x1="244.20" y1="655.67" x2="247.70" y2="655.67" stroke="#000" stroke-width="1.1" />
<text x="243.90" y="658.69" font-size="8.8" text-anchor="end">0.4</text>
<line x1="244.20" y1="641.05" x2="247.70" y2="641.05" stroke="#000" stroke-width="1.1" />
<text x="243.90" y="644.08" font-size="8.8" text-anchor="end">0.6</text>
<line x1="244.20" y1="626.43" x2="247.70" y2="626.43" stroke="#000" stroke-width="1.1" />
<text x="243.90" y="629.46" font-size="8.8" text-anchor="end">0.8</text>
<line x1="244.20" y1="611.82" x2="247.70" y2="611.82" stroke="#000" stroke-width="1.1" />
<text x="243.90" y="614.84" font-size="8.8" text-anchor="end">1.0</text>
<line x1="244.20" y1="597.20" x2="247.70" y2="597.20" stroke="#000" stroke-width="1.1" />
<text x="243.90" y="600.23" font-size="8.8" text-anchor="end">1.2</text>
<line x1="247.70" y1="684.90" x2="334.00" y2="684.90" stroke="#000" stroke-width="1.1" />
<line x1="256.60" y1="684.90" x2="256.60" y2="688.40" stroke="#000" stroke-width="1.1" />
<text x="259.00" y="695.50" font-size="9.6" text-anchor="end" transform="rotate(-45 259.00 695.50)">siCON -DOX</text>
<line x1="270.20" y1="684.90" x2="270.20" y2="688.40" stroke="#000" stroke-width="1.1" />
<text x="272.60" y="695.50" font-size="9.6" text-anchor="end" transform="rotate(-45 272.60 695.50)">siCON +DOX</text>
<line x1="283.80" y1="684.90" x2="283.80" y2="688.40" stroke="#000" stroke-width="1.1" />
<text x="286.20" y="695.50" font-size="9.6" text-anchor="end" transform="rotate(-45 286.20 695.50)">siBUB1.1 -DOX</text>
<line x1="297.40" y1="684.90" x2="297.40" y2="688.40" stroke="#000" stroke-width="1.1" />
<text x="299.80" y="695.50" font-size="9.6" text-anchor="end" transform="rotate(-45 299.80 695.50)">siBUB1.1 +DOX</text>
<line x1="311.00" y1="684.90" x2="311.00" y2="688.40" stroke="#000" stroke-width="1.1" />
<text x="313.40" y="695.50" font-size="9.6" text-anchor="end" transform="rotate(-45 313.40 695.50)">siBUB1.2 -DOX</text>
<line x1="324.70" y1="684.90" x2="324.70" y2="688.40" stroke="#000" stroke-width="1.1" />
<text x="327.10" y="695.50" font-size="9.6" text-anchor="end" transform="rotate(-45 327.10 695.50)">siBUB1.2 +DOX</text>
<text x="215.00" y="638.60" font-size="9.2" text-anchor="middle" textLength="72.40" fill="#000" transform="rotate(-90 215.00 638.60)">Surviving fraction</text>
<circle cx="253.00" cy="611.82" r="1.50" fill="#000"/>
<circle cx="256.60" cy="611.82" r="1.50" fill="#000"/>
<circle cx="260.20" cy="611.82" r="1.50" fill="#000"/>
<line x1="252.10" y1="611.82" x2="261.10" y2="611.82" stroke="#000" stroke-width="1.0" />
<rect x="265.50" y="610.32" width="3.00" height="3.00" fill="#ff0000"/>
<rect x="268.70" y="610.32" width="3.00" height="3.00" fill="#ff0000"/>
<rect x="271.90" y="610.32" width="3.00" height="3.00" fill="#ff0000"/>
<line x1="265.70" y1="611.82" x2="274.70" y2="611.82" stroke="#ff0000" stroke-width="1.2" />
<circle cx="280.80" cy="609.99" r="1.30" fill="#000"/>
<path d="M282.80,609.80 L285.80,609.80 L284.30,607.03Z" fill="#000"/>
<circle cx="287.30" cy="609.62" r="1.30" fill="#000"/>
<line x1="279.30" y1="609.62" x2="288.30" y2="609.62" stroke="#000" stroke-width="1.0" />
<path d="M295.80,632.38 L299.00,632.38 L297.40,635.34Z" fill="#ff0000"/>
<path d="M293.00,647.73 L296.20,647.73 L294.60,650.69Z" fill="#ff0000"/>
<circle cx="300.60" cy="647.26" r="1.50" fill="#ff0000"/>
<line x1="292.90" y1="647.26" x2="299.90" y2="647.26" stroke="#000" stroke-width="1.0" />
<circle cx="308.00" cy="614.01" r="1.30" fill="#000"/>
<path d="M309.50,611.27 L312.50,611.27 L311.00,614.05Z" fill="#000"/>
<circle cx="314.00" cy="613.28" r="1.30" fill="#000"/>
<line x1="306.50" y1="613.28" x2="315.50" y2="613.28" stroke="#000" stroke-width="1.0" />
<circle cx="324.70" cy="624.97" r="1.7" fill="#ff0000" stroke="#000" stroke-width="0.6"/>
<circle cx="324.70" cy="632.28" r="1.7" fill="#ff0000" stroke="#000" stroke-width="0.6"/>
<circle cx="324.70" cy="640.32" r="1.7" fill="#ff0000" stroke="#000" stroke-width="0.6"/>
<line x1="320.20" y1="632.28" x2="329.20" y2="632.28" stroke="#000" stroke-width="1.0" />
<text x="268.00" y="602.68" font-size="7.2" textLength="31.30" fill="#444"><tspan font-style="italic">p</tspan>&lt;0.0001</text>
<line x1="283.70" y1="604.60" x2="297.40" y2="604.60" stroke="#444" stroke-width="0.7" />
<text x="304.00" y="605.78" font-size="7.2" textLength="28.50" fill="#444"><tspan font-style="italic">p</tspan>=0.001</text>
<line x1="311.00" y1="608.40" x2="325.80" y2="608.40" stroke="#444" stroke-width="0.7" />
<text x="362.20" y="584.73" font-size="15.3" font-weight="bold">J.</text>
<text x="423.60" y="607.93" font-size="12.3" textLength="20.00">WT</text>
<text x="458.60" y="607.93" font-size="12.3" textLength="46.20">sgBUB1</text>
<text x="393.00" y="624.29" font-size="11.3" textLength="24.40">DOX</text>
<text x="426.00" y="622.89" font-size="11.3" text-anchor="middle">-</text>
<text x="446.00" y="622.89" font-size="11.3" text-anchor="middle">+</text>
<text x="466.80" y="622.89" font-size="11.3" text-anchor="middle">-</text>
<text x="486.80" y="622.89" font-size="11.3" text-anchor="middle">+</text>
<rect x="410.40" y="626.60" width="89.90" height="27.00" fill="#c9c9c9"/>
<rect x="410.40" y="626.60" width="89.90" height="27.00" fill="#000" filter="url(#noise)" opacity="0.10"/>
<ellipse cx="422.80" cy="641.20" rx="8.20" ry="1.30" fill="#555" opacity="0.9" filter="url(#b1)"/>
<ellipse cx="446.30" cy="640.00" rx="8.80" ry="1.40" fill="#4a4a4a" opacity="0.9" filter="url(#b1)"/>
<rect x="410.40" y="626.60" width="89.90" height="27.00" fill="none" stroke="#111" stroke-width="1.3"/>
<rect x="410.40" y="656.80" width="89.90" height="23.50" fill="#e2e2e2"/>
<rect x="410.40" y="656.80" width="89.90" height="23.50" fill="#000" filter="url(#noise)" opacity="0.10"/>
<rect x="436.4" y="666.6" width="18.2" height="9.6" rx="3.5" fill="#000" filter="url(#b1)"/>
<rect x="480.0" y="667.0" width="18.0" height="9.2" rx="3.5" fill="#000" filter="url(#b1)"/>
<rect x="410.40" y="656.80" width="89.90" height="23.50" fill="none" stroke="#111" stroke-width="1.3"/>
<rect x="410.40" y="684.80" width="89.90" height="28.00" fill="#e0e0e0"/>
<rect x="410.40" y="684.80" width="89.90" height="28.00" fill="#000" filter="url(#noise)" opacity="0.10"/>
<ellipse cx="422.80" cy="699.20" rx="9.40" ry="3.00" fill="#080808" opacity="1.0" filter="url(#b1)"/>
<ellipse cx="446.00" cy="699.50" rx="9.20" ry="2.60" fill="#3a3a3a" opacity="1.0" filter="url(#b1)"/>
<ellipse cx="466.80" cy="699.30" rx="9.50" ry="3.00" fill="#0a0a0a" opacity="1.0" filter="url(#b1)"/>
<ellipse cx="488.50" cy="699.30" rx="10.20" ry="3.20" fill="#050505" opacity="1.0" filter="url(#b1)"/>
<rect x="410.40" y="684.80" width="89.90" height="28.00" fill="none" stroke="#111" stroke-width="1.3"/>
<text x="377.40" y="645.49" font-size="11.3" textLength="29.50">BUB1</text>
<text x="350.00" y="673.69" font-size="11.3" textLength="56.20">HORMAD1</text>
<text x="392.40" y="704.89" font-size="11.3" textLength="14.50">H3</text>
<line x1="500.80" y1="635.40" x2="503.80" y2="635.40" stroke="#000" stroke-width="1.0" />
<text x="507.00" y="638.94" font-size="10.3" textLength="38.00">125 kDa</text>
<line x1="500.80" y1="665.60" x2="503.80" y2="665.60" stroke="#000" stroke-width="1.0" />
<text x="507.00" y="669.14" font-size="10.3" textLength="32.40">50 kDa</text>
<line x1="500.80" y1="698.50" x2="503.80" y2="698.50" stroke="#000" stroke-width="1.0" />
<text x="507.00" y="702.04" font-size="10.3" textLength="32.40">15 kDa</text>
<text x="524.20" y="584.73" font-size="15.3" font-weight="bold">K.</text>
<line x1="583.40" y1="603.20" x2="583.40" y2="691.60" stroke="#000" stroke-width="1.1" />
<line x1="579.90" y1="688.10" x2="583.40" y2="688.10" stroke="#000" stroke-width="1.1" />
<text x="579.30" y="691.13" font-size="8.8" text-anchor="end">0.0</text>
<line x1="579.90" y1="659.80" x2="583.40" y2="659.80" stroke="#000" stroke-width="1.1" />
<text x="579.30" y="662.83" font-size="8.8" text-anchor="end">0.5</text>
<line x1="579.90" y1="631.50" x2="583.40" y2="631.50" stroke="#000" stroke-width="1.1" />
<text x="579.30" y="634.53" font-size="8.8" text-anchor="end">1.0</text>
<line x1="579.90" y1="603.20" x2="583.40" y2="603.20" stroke="#000" stroke-width="1.1" />
<text x="579.30" y="606.23" font-size="8.8" text-anchor="end">1.5</text>
<line x1="583.40" y1="688.10" x2="669.30" y2="688.10" stroke="#000" stroke-width="1.1" />
<line x1="596.50" y1="688.10" x2="596.50" y2="691.60" stroke="#000" stroke-width="1.1" />
<text x="598.50" y="696.00" font-size="9.8" text-anchor="end" transform="rotate(-45 598.50 696.00)">-DOX WT</text>
<line x1="616.50" y1="688.10" x2="616.50" y2="691.60" stroke="#000" stroke-width="1.1" />
<text x="618.50" y="696.00" font-size="9.8" text-anchor="end" transform="rotate(-45 618.50 696.00)">+DOX WT</text>
<line x1="636.50" y1="688.10" x2="636.50" y2="691.60" stroke="#000" stroke-width="1.1" />
<text x="638.50" y="696.00" font-size="9.8" text-anchor="end" transform="rotate(-45 638.50 696.00)">-DOX BUB1-/-</text>
<line x1="656.50" y1="688.10" x2="656.50" y2="691.60" stroke="#000" stroke-width="1.1" />
<text x="658.50" y="696.00" font-size="9.8" text-anchor="end" transform="rotate(-45 658.50 696.00)">+DOX BUB1-/-</text>
<text x="562.00" y="643.60" font-size="9.0" text-anchor="middle" textLength="70.00" fill="#000" transform="rotate(-90 562.00 643.60)">Surviving fraction</text>
<path d="M596.50,628.10V634.90M592.00,628.10h9.00M592.00,634.90h9.00" stroke="#000" stroke-width="0.9" fill="none" />
<line x1="591.00" y1="631.50" x2="602.00" y2="631.50" stroke="#000" stroke-width="1.0" />
<circle cx="596.50" cy="627.54" r="2.20" fill="#000"/>
<circle cx="592.30" cy="634.33" r="2.20" fill="#000"/>
<circle cx="600.90" cy="632.63" r="2.20" fill="#000"/>
<path d="M616.50,628.67V647.35M616.40,628.67h0.20M616.40,647.35h0.20" stroke="#ff0000" stroke-width="0.9" fill="none" />
<line x1="610.50" y1="638.29" x2="622.50" y2="638.29" stroke="#000" stroke-width="1.0" />
<rect x="614.40" y="626.57" width="4.20" height="4.20" fill="#ff0000"/>
<rect x="614.40" y="636.76" width="4.20" height="4.20" fill="#ff0000"/>
<rect x="614.40" y="645.25" width="4.20" height="4.20" fill="#ff0000"/>
<path d="M636.50,613.39V649.05M633.00,613.39h7.00M633.00,649.05h7.00" stroke="#000" stroke-width="0.7" fill="none" />
<line x1="630.50" y1="631.50" x2="642.50" y2="631.50" stroke="#000" stroke-width="1.0" />
<path d="M634.50,613.39 L638.50,613.39 L636.50,609.69Z" fill="#000"/>
<path d="M629.70,645.09 L633.70,645.09 L631.70,641.39Z" fill="#000"/>
<path d="M639.30,643.39 L643.30,643.39 L641.30,639.69Z" fill="#000"/>
<path d="M656.50,660.37V670.55M653.00,660.37h7.00M653.00,670.55h7.00" stroke="#ff0000" stroke-width="0.8" fill="none" />
<line x1="651.00" y1="665.46" x2="662.00" y2="665.46" stroke="#555" stroke-width="1.0" />
<path d="M654.50,658.10 L658.50,658.10 L656.50,661.80Z" fill="#ff0000"/>
<path d="M649.30,666.59 L653.30,666.59 L651.30,670.29Z" fill="#ff0000"/>
<path d="M659.70,665.46 L663.70,665.46 L661.70,669.16Z" fill="#ff0000"/>
<text x="588.60" y="601.18" font-size="7.2" textLength="33.20" fill="#444"><tspan font-style="italic">p</tspan>=0.8666</text>
<line x1="596.00" y1="604.20" x2="616.00" y2="603.20" stroke="#444" stroke-width="0.7" />
<text x="634.40" y="600.08" font-size="7.2" textLength="32.90" fill="#444"><tspan font-style="italic">p</tspan>=0.0183</text>
<line x1="640.00" y1="603.60" x2="658.50" y2="602.80" stroke="#444" stroke-width="0.7" />
<text x="21.70" y="767.23" font-size="15.3" font-weight="bold">L.</text>
<rect x="101.2" y="770.0" width="122.4" height="28.6" fill="none" stroke="#111" stroke-width="1.1"/>
<text x="113.00" y="782.38" font-size="7.2" textLength="98.80">-DOX = HORMAD1 negative</text>
<text x="114.50" y="790.38" font-size="7.2" textLength="97.00">+DOX = HORMAD1 positive</text>
<text x="89.40" y="815.06" font-size="11.5" text-anchor="middle">0</text>
<text x="119.80" y="815.06" font-size="11.5" text-anchor="middle">0.03</text>
<text x="151.50" y="815.06" font-size="11.5" text-anchor="middle">0.1</text>
<text x="181.10" y="815.06" font-size="11.5" text-anchor="middle">0.3</text>
<text x="212.30" y="815.06" font-size="11.5" text-anchor="middle">1</text>
<text x="241.00" y="815.06" font-size="11.5" text-anchor="middle">3</text>
<rect x="72.4" y="820.3" width="183.6" height="70.3" fill="#e0e0e0"/>
<rect x="72.4" y="853.3" width="183.6" height="3.4" fill="#ffffff"/>
<circle cx="88.60" cy="837.00" r="15.60" fill="#e4e4e4"/>
<circle cx="88.60" cy="837.00" r="15.10" fill="#000" filter="url(#speck)" opacity="0.95"/>
<circle cx="88.60" cy="837.00" r="15.20" fill="none" stroke="#727272" stroke-width="1.2"/>
<circle cx="119.20" cy="837.00" r="15.60" fill="#e4e4e4"/>
<circle cx="119.20" cy="837.00" r="15.10" fill="#000" filter="url(#speck)" opacity="0.95"/>
<circle cx="119.20" cy="837.00" r="15.20" fill="none" stroke="#727272" stroke-width="1.2"/>
<circle cx="149.80" cy="837.00" r="15.60" fill="#e6e6e6"/>
<circle cx="149.80" cy="837.00" r="15.10" fill="#000" filter="url(#speck)" opacity="0.92"/>
<circle cx="149.80" cy="837.00" r="15.20" fill="none" stroke="#727272" stroke-width="1.2"/>
<circle cx="180.30" cy="837.00" r="15.60" fill="#e6e6e6"/>
<circle cx="180.30" cy="837.00" r="15.10" fill="#000" filter="url(#speck)" opacity="0.8"/>
<circle cx="180.30" cy="837.00" r="15.20" fill="none" stroke="#727272" stroke-width="1.2"/>
<circle cx="210.50" cy="837.00" r="15.60" fill="#e8e8e8"/>
<circle cx="210.50" cy="837.00" r="15.10" fill="#000" filter="url(#speck)" opacity="0.78"/>
<circle cx="210.50" cy="837.00" r="15.20" fill="none" stroke="#727272" stroke-width="1.2"/>
<circle cx="240.60" cy="837.00" r="15.60" fill="#e8e8e8"/>
<circle cx="240.60" cy="837.00" r="15.10" fill="#000" filter="url(#speck)" opacity="0.62"/>
<circle cx="240.60" cy="837.00" r="15.20" fill="none" stroke="#727272" stroke-width="1.2"/>
<circle cx="88.60" cy="873.30" r="15.90" fill="#e2e2e2"/>
<circle cx="88.60" cy="873.30" r="15.40" fill="#000" filter="url(#speck2)" opacity="0.8"/>
<circle cx="81.60" cy="876.30" r="1.20" fill="#2a2a2a" opacity="0.85"/>
<circle cx="84.60" cy="867.30" r="0.90" fill="#2a2a2a" opacity="0.85"/>
<circle cx="90.60" cy="881.30" r="1.00" fill="#2a2a2a" opacity="0.85"/>
<circle cx="94.60" cy="871.30" r="0.80" fill="#2a2a2a" opacity="0.85"/>
<circle cx="79.60" cy="870.30" r="0.80" fill="#2a2a2a" opacity="0.85"/>
<circle cx="88.60" cy="875.30" r="0.90" fill="#2a2a2a" opacity="0.85"/>
<circle cx="96.60" cy="879.30" r="0.80" fill="#2a2a2a" opacity="0.85"/>
<circle cx="86.60" cy="884.30" r="0.70" fill="#2a2a2a" opacity="0.85"/>
<circle cx="92.60" cy="864.30" r="0.70" fill="#2a2a2a" opacity="0.85"/>
<circle cx="88.60" cy="873.30" r="15.50" fill="none" stroke="#727272" stroke-width="1.2"/>
<circle cx="119.20" cy="873.30" r="15.90" fill="#e6e6e6"/>
<circle cx="119.20" cy="873.30" r="15.40" fill="#000" filter="url(#speck2)" opacity="0.6"/>
<circle cx="113.20" cy="869.30" r="0.80" fill="#2a2a2a" opacity="0.85"/>
<circle cx="124.20" cy="879.30" r="0.70" fill="#2a2a2a" opacity="0.85"/>
<circle cx="116.20" cy="880.30" r="0.60" fill="#2a2a2a" opacity="0.85"/>
<circle cx="126.20" cy="865.30" r="0.60" fill="#2a2a2a" opacity="0.85"/>
<circle cx="119.20" cy="863.30" r="0.60" fill="#2a2a2a" opacity="0.85"/>
<circle cx="109.20" cy="877.30" r="0.60" fill="#2a2a2a" opacity="0.85"/>
<circle cx="119.20" cy="873.30" r="15.50" fill="none" stroke="#727272" stroke-width="1.2"/>
<circle cx="149.80" cy="873.30" r="15.90" fill="#e8e8e8"/>
<circle cx="149.80" cy="873.30" r="15.40" fill="#000" filter="url(#speck2)" opacity="0.45"/>
<circle cx="152.80" cy="863.30" r="0.70" fill="#2a2a2a" opacity="0.85"/>
<circle cx="143.80" cy="878.30" r="0.50" fill="#2a2a2a" opacity="0.85"/>
<circle cx="158.80" cy="875.30" r="0.50" fill="#2a2a2a" opacity="0.85"/>
<circle cx="149.80" cy="873.30" r="15.50" fill="none" stroke="#727272" stroke-width="1.2"/>
<circle cx="180.30" cy="873.30" r="15.90" fill="#e8e8e8"/>
<circle cx="180.30" cy="873.30" r="15.40" fill="#000" filter="url(#speck2)" opacity="0.5"/>
<circle cx="180.30" cy="873.30" r="15.50" fill="none" stroke="#727272" stroke-width="1.2"/>
<circle cx="210.50" cy="873.30" r="15.90" fill="#eaeaea"/>
<circle cx="210.50" cy="873.30" r="15.40" fill="#000" filter="url(#speck2)" opacity="0.35"/>
<circle cx="210.50" cy="873.30" r="15.50" fill="none" stroke="#727272" stroke-width="1.2"/>
<circle cx="240.60" cy="873.30" r="15.90" fill="#eaeaea"/>
<circle cx="240.60" cy="873.30" r="15.40" fill="#000" filter="url(#speck2)" opacity="0.35"/>
<circle cx="240.60" cy="873.30" r="15.50" fill="none" stroke="#727272" stroke-width="1.2"/>
<rect x="72.4" y="820.3" width="183.6" height="70.3" fill="none" stroke="#111" stroke-width="1.3"/>
<text x="36.20" y="841.43" font-size="12.0" textLength="30.00">-DOX</text>
<text x="35.00" y="880.13" font-size="12.0" textLength="32.00">+DOX</text>
<text x="110.50" y="907.46" font-size="11.5" textLength="99.30">BAY-1816032 (μM)</text>
<text x="271.70" y="766.43" font-size="15.3" font-weight="bold">M.</text>
<line x1="318.20" y1="804.40" x2="318.20" y2="887.80" stroke="#000" stroke-width="1.0" />
<line x1="314.70" y1="884.30" x2="318.20" y2="884.30" stroke="#000" stroke-width="1.0" />
<text x="315.00" y="887.19" font-size="8.4" text-anchor="end">0.0</text>
<line x1="314.70" y1="870.98" x2="318.20" y2="870.98" stroke="#000" stroke-width="1.0" />
<text x="315.00" y="873.87" font-size="8.4" text-anchor="end">0.2</text>
<line x1="314.70" y1="857.67" x2="318.20" y2="857.67" stroke="#000" stroke-width="1.0" />
<text x="315.00" y="860.56" font-size="8.4" text-anchor="end">0.4</text>
<line x1="314.70" y1="844.35" x2="318.20" y2="844.35" stroke="#000" stroke-width="1.0" />
<text x="315.00" y="847.24" font-size="8.4" text-anchor="end">0.6</text>
<line x1="314.70" y1="831.03" x2="318.20" y2="831.03" stroke="#000" stroke-width="1.0" />
<text x="315.00" y="833.92" font-size="8.4" text-anchor="end">0.8</text>
<line x1="314.70" y1="817.72" x2="318.20" y2="817.72" stroke="#000" stroke-width="1.0" />
<text x="315.00" y="820.61" font-size="8.4" text-anchor="end">1.0</text>
<line x1="314.70" y1="804.40" x2="318.20" y2="804.40" stroke="#000" stroke-width="1.0" />
<text x="315.00" y="807.29" font-size="8.4" text-anchor="end">1.2</text>
<line x1="318.20" y1="884.30" x2="438.70" y2="884.30" stroke="#000" stroke-width="1.0" />
<line x1="318.20" y1="884.30" x2="318.20" y2="887.80" stroke="#000" stroke-width="0.8" />
<line x1="332.82" y1="884.30" x2="332.82" y2="886.10" stroke="#000" stroke-width="0.8" />
<line x1="341.36" y1="884.30" x2="341.36" y2="886.10" stroke="#000" stroke-width="0.8" />
<line x1="347.43" y1="884.30" x2="347.43" y2="886.10" stroke="#000" stroke-width="0.8" />
<line x1="352.13" y1="884.30" x2="352.13" y2="886.10" stroke="#000" stroke-width="0.8" />
<line x1="355.98" y1="884.30" x2="355.98" y2="886.10" stroke="#000" stroke-width="0.8" />
<line x1="359.23" y1="884.30" x2="359.23" y2="886.10" stroke="#000" stroke-width="0.8" />
<line x1="362.05" y1="884.30" x2="362.05" y2="886.10" stroke="#000" stroke-width="0.8" />
<line x1="364.53" y1="884.30" x2="364.53" y2="886.10" stroke="#000" stroke-width="0.8" />
<line x1="366.75" y1="884.30" x2="366.75" y2="887.80" stroke="#000" stroke-width="0.8" />
<line x1="381.37" y1="884.30" x2="381.37" y2="886.10" stroke="#000" stroke-width="0.8" />
<line x1="389.91" y1="884.30" x2="389.91" y2="886.10" stroke="#000" stroke-width="0.8" />
<line x1="395.98" y1="884.30" x2="395.98" y2="886.10" stroke="#000" stroke-width="0.8" />
<line x1="400.68" y1="884.30" x2="400.68" y2="886.10" stroke="#000" stroke-width="0.8" />
<line x1="404.53" y1="884.30" x2="404.53" y2="886.10" stroke="#000" stroke-width="0.8" />
<line x1="407.78" y1="884.30" x2="407.78" y2="886.10" stroke="#000" stroke-width="0.8" />
<line x1="410.60" y1="884.30" x2="410.60" y2="886.10" stroke="#000" stroke-width="0.8" />
<line x1="413.08" y1="884.30" x2="413.08" y2="886.10" stroke="#000" stroke-width="0.8" />
<line x1="415.30" y1="884.30" x2="415.30" y2="887.80" stroke="#000" stroke-width="0.8" />
<line x1="429.92" y1="884.30" x2="429.92" y2="886.10" stroke="#000" stroke-width="0.8" />
<line x1="438.46" y1="884.30" x2="438.46" y2="886.10" stroke="#000" stroke-width="0.8" />
<text x="318.20" y="897.03" font-size="8.8" text-anchor="middle">0.01</text>
<text x="366.75" y="897.03" font-size="8.8" text-anchor="middle">0.1</text>
<text x="415.30" y="897.03" font-size="8.8" text-anchor="middle">1</text>
<text x="299.20" y="842.10" font-size="8.6" text-anchor="middle" textLength="65.40" fill="#000" transform="rotate(-90 299.20 842.10)">Surviving fraction</text>
<text x="343.60" y="910.76" font-size="8.6" textLength="68.70">BAY1816032 (uM)</text>
<path d="M318.20,817.13 L318.80,817.13 L319.40,817.13 L320.00,817.14 L320.61,817.14 L321.21,817.15 L321.81,817.15 L322.41,817.16 L323.01,817.17 L323.61,817.17 L324.21,817.18 L324.81,817.19 L325.42,817.19 L326.02,817.20 L326.62,817.21 L327.22,817.22 L327.82,817.23 L328.42,817.24 L329.02,817.25 L329.63,817.26 L330.23,817.27 L330.83,817.28 L331.43,817.29 L332.03,817.31 L332.63,817.32 L333.23,817.33 L333.83,817.35 L334.44,817.37 L335.04,817.38 L335.64,817.40 L336.24,817.42 L336.84,817.44 L337.44,817.46 L338.04,817.48 L338.64,817.51 L339.25,817.53 L339.85,817.56 L340.45,817.58 L341.05,817.61 L341.65,817.64 L342.25,817.67 L342.85,817.71 L343.46,817.74 L344.06,817.78 L344.66,817.82 L345.26,817.86 L345.86,817.90 L346.46,817.95 L347.06,818.00 L347.66,818.05 L348.27,818.10 L348.87,818.15 L349.47,818.21 L350.07,818.27 L350.67,818.34 L351.27,818.41 L351.87,818.48 L352.48,818.55 L353.08,818.63 L353.68,818.71 L354.28,818.80 L354.88,818.89 L355.48,818.98 L356.08,819.08 L356.68,819.19 L357.29,819.30 L357.89,819.41 L358.49,819.53 L359.09,819.66 L359.69,819.79 L360.29,819.92 L360.89,820.07 L361.50,820.22 L362.10,820.37 L362.70,820.54 L363.30,820.71 L363.90,820.88 L364.50,821.07 L365.10,821.26 L365.70,821.46 L366.31,821.67 L366.91,821.89 L367.51,822.11 L368.11,822.35 L368.71,822.59 L369.31,822.84 L369.91,823.10 L370.51,823.37 L371.12,823.65 L371.72,823.94 L372.32,824.24 L372.92,824.55 L373.52,824.87 L374.12,825.19 L374.72,825.53 L375.33,825.87 L375.93,826.23 L376.53,826.59 L377.13,826.96 L377.73,827.34 L378.33,827.73 L378.93,828.13 L379.53,828.53 L380.14,828.95 L380.74,829.36 L381.34,829.79 L381.94,830.22 L382.54,830.66 L383.14,831.10 L383.74,831.54 L384.35,831.99 L384.95,832.45 L385.55,832.90 L386.15,833.36 L386.75,833.82 L387.35,834.28 L387.95,834.74 L388.55,835.20 L389.16,835.66 L389.76,836.12 L390.36,836.57 L390.96,837.02 L391.56,837.47 L392.16,837.91 L392.76,838.35 L393.37,838.79 L393.97,839.21 L394.57,839.63 L395.17,840.05 L395.77,840.46 L396.37,840.85 L396.97,841.25 L397.57,841.63 L398.18,842.00 L398.78,842.37 L399.38,842.73 L399.98,843.08 L400.58,843.42 L401.18,843.75 L401.78,844.07 L402.38,844.38 L402.99,844.68 L403.59,844.97 L404.19,845.25 L404.79,845.53 L405.39,845.79 L405.99,846.05 L406.59,846.29 L407.20,846.53 L407.80,846.76 L408.40,846.98 L409.00,847.19 L409.60,847.39 L410.20,847.59 L410.80,847.78 L411.40,847.96 L412.01,848.13 L412.61,848.30 L413.21,848.45 L413.81,848.61 L414.41,848.75 L415.01,848.89 L415.61,849.02 L416.22,849.15 L416.82,849.27 L417.42,849.39 L418.02,849.50 L418.62,849.61 L419.22,849.71 L419.82,849.80 L420.42,849.90 L421.03,849.98 L421.63,850.07 L422.23,850.15 L422.83,850.22 L423.43,850.29 L424.03,850.36 L424.63,850.43 L425.24,850.49 L425.84,850.55 L426.44,850.61 L427.04,850.66 L427.64,850.71 L428.24,850.76 L428.84,850.81 L429.44,850.85 L430.05,850.89 L430.65,850.93 L431.25,850.97 L431.85,851.00 L432.45,851.04 L433.05,851.07 L433.65,851.10 L434.25,851.13 L434.86,851.16 L435.46,851.19 L436.06,851.21 L436.66,851.23 L437.26,851.26 L437.86,851.28 L438.46,851.30" stroke="#000" stroke-width="0.8" fill="none" stroke-linejoin="round"/>
<path d="M318.20,818.84 L318.80,818.97 L319.40,819.12 L320.00,819.28 L320.61,819.46 L321.21,819.66 L321.81,819.89 L322.41,820.13 L323.01,820.41 L323.61,820.71 L324.21,821.04 L324.81,821.41 L325.42,821.81 L326.02,822.25 L326.62,822.73 L327.22,823.26 L327.82,823.83 L328.42,824.45 L329.02,825.12 L329.63,825.84 L330.23,826.61 L330.83,827.43 L331.43,828.31 L332.03,829.23 L332.63,830.21 L333.23,831.23 L333.83,832.29 L334.44,833.39 L335.04,834.51 L335.64,835.67 L336.24,836.84 L336.84,838.02 L337.44,839.21 L338.04,840.39 L338.64,841.56 L339.25,842.71 L339.85,843.84 L340.45,844.93 L341.05,845.99 L341.65,847.00 L342.25,847.96 L342.85,848.88 L343.46,849.75 L344.06,850.56 L344.66,851.33 L345.26,852.04 L345.86,852.70 L346.46,853.31 L347.06,853.88 L347.66,854.39 L348.27,854.87 L348.87,855.30 L349.47,855.70 L350.07,856.06 L350.67,856.39 L351.27,856.69 L351.87,856.95 L352.48,857.20 L353.08,857.42 L353.68,857.61 L354.28,857.79 L354.88,857.95 L355.48,858.10 L356.08,858.23 L356.68,858.34 L357.29,858.45 L357.89,858.54 L358.49,858.62 L359.09,858.70 L359.69,858.77 L360.29,858.83 L360.89,858.88 L361.50,858.93 L362.10,858.97 L362.70,859.01 L363.30,859.04 L363.90,859.08 L364.50,859.10 L365.10,859.13 L365.70,859.15 L366.31,859.17 L366.91,859.19 L367.51,859.20 L368.11,859.22 L368.71,859.23 L369.31,859.24 L369.91,859.25 L370.51,859.26 L371.12,859.27 L371.72,859.27 L372.32,859.28 L372.92,859.28 L373.52,859.29 L374.12,859.29 L374.72,859.30 L375.33,859.30 L375.93,859.30 L376.53,859.31 L377.13,859.31 L377.73,859.31 L378.33,859.31 L378.93,859.32 L379.53,859.32 L380.14,859.32 L380.74,859.32 L381.34,859.32 L381.94,859.32 L382.54,859.32 L383.14,859.32 L383.74,859.33 L384.35,859.33 L384.95,859.33 L385.55,859.33 L386.15,859.33 L386.75,859.33 L387.35,859.33 L387.95,859.33 L388.55,859.33 L389.16,859.33 L389.76,859.33 L390.36,859.33 L390.96,859.33 L391.56,859.33 L392.16,859.33 L392.76,859.33 L393.37,859.33 L393.97,859.33 L394.57,859.33 L395.17,859.33 L395.77,859.33 L396.37,859.33 L396.97,859.33 L397.57,859.33 L398.18,859.33 L398.78,859.33 L399.38,859.33 L399.98,859.33 L400.58,859.33 L401.18,859.33 L401.78,859.33 L402.38,859.33 L402.99,859.33 L403.59,859.33 L404.19,859.33 L404.79,859.33 L405.39,859.33 L405.99,859.33 L406.59,859.33 L407.20,859.33 L407.80,859.33 L408.40,859.33 L409.00,859.33 L409.60,859.33 L410.20,859.33 L410.80,859.33 L411.40,859.33 L412.01,859.33 L412.61,859.33 L413.21,859.33 L413.81,859.33 L414.41,859.33 L415.01,859.33 L415.61,859.33 L416.22,859.33 L416.82,859.33 L417.42,859.33 L418.02,859.33 L418.62,859.33 L419.22,859.33 L419.82,859.33 L420.42,859.33 L421.03,859.33 L421.63,859.33 L422.23,859.33 L422.83,859.33 L423.43,859.33 L424.03,859.33 L424.63,859.33 L425.24,859.33 L425.84,859.33 L426.44,859.33 L427.04,859.33 L427.64,859.33 L428.24,859.33 L428.84,859.33 L429.44,859.33 L430.05,859.33 L430.65,859.33 L431.25,859.33 L431.85,859.33 L432.45,859.33 L433.05,859.33 L433.65,859.33 L434.25,859.33 L434.86,859.33 L435.46,859.33 L436.06,859.33 L436.66,859.33 L437.26,859.33 L437.86,859.33 L438.46,859.33" stroke="#ff0000" stroke-width="0.8" fill="none" stroke-linejoin="round"/>
<path d="M318.20,813.72V821.71M316.50,813.72h3.40M316.50,821.71h3.40" stroke="#ff0000" stroke-width="0.8" fill="none" />
<path d="M341.36,842.35V850.34M339.66,842.35h3.40M339.66,850.34h3.40" stroke="#ff0000" stroke-width="0.8" fill="none" />
<path d="M366.75,850.01V858.00M365.05,850.01h3.40M365.05,858.00h3.40" stroke="#ff0000" stroke-width="0.8" fill="none" />
<path d="M389.91,850.68V860.00M388.21,850.68h3.40M388.21,860.00h3.40" stroke="#ff0000" stroke-width="0.8" fill="none" />
<path d="M415.30,859.66V864.99M413.60,859.66h3.40M413.60,864.99h3.40" stroke="#ff0000" stroke-width="0.8" fill="none" />
<rect x="316.60" y="816.12" width="3.20" height="3.20" fill="#ff0000"/>
<rect x="339.76" y="844.75" width="3.20" height="3.20" fill="#ff0000"/>
<rect x="365.15" y="852.40" width="3.20" height="3.20" fill="#ff0000"/>
<rect x="388.31" y="853.74" width="3.20" height="3.20" fill="#ff0000"/>
<rect x="413.70" y="860.73" width="3.20" height="3.20" fill="#ff0000"/>
<rect x="436.86" y="864.06" width="3.20" height="3.20" fill="#ff0000"/>
<path d="M318.20,813.72V820.38M316.50,813.72h3.40M316.50,820.38h3.40" stroke="#000" stroke-width="0.8" fill="none" />
<path d="M341.36,816.38V820.38M339.66,816.38h3.40M339.66,820.38h3.40" stroke="#000" stroke-width="0.8" fill="none" />
<path d="M366.75,819.05V825.71M365.05,819.05h3.40M365.05,825.71h3.40" stroke="#000" stroke-width="0.8" fill="none" />
<path d="M415.30,845.02V849.01M413.60,845.02h3.40M413.60,849.01h3.40" stroke="#000" stroke-width="0.8" fill="none" />
<circle cx="318.20" cy="817.05" r="1.70" fill="#000"/>
<circle cx="341.36" cy="818.38" r="1.70" fill="#000"/>
<circle cx="366.75" cy="822.38" r="1.70" fill="#000"/>
<circle cx="389.91" cy="837.03" r="1.70" fill="#000"/>
<circle cx="415.30" cy="847.01" r="1.70" fill="#000"/>
<circle cx="438.46" cy="852.34" r="1.70" fill="#000"/>
<line x1="334.40" y1="792.90" x2="343.60" y2="792.90" stroke="#000" stroke-width="0.8" />
<circle cx="339.00" cy="792.90" r="1.50" fill="#000"/>
<line x1="334.40" y1="803.60" x2="343.60" y2="803.60" stroke="#ff0000" stroke-width="0.8" />
<rect x="337.50" y="802.10" width="3.00" height="3.00" fill="#ff0000"/>
<text x="347.90" y="795.17" font-size="6.3" textLength="80.80">-DOX (HORMAD1 negative)</text>
<text x="347.90" y="805.97" font-size="6.3" textLength="79.60">+DOX (HORMAD1 positive)</text>
<line x1="434.90" y1="790.00" x2="434.90" y2="805.40" stroke="#333" stroke-width="0.8" />
<text x="440.00" y="800.08" font-size="7.8" textLength="32.90" fill="#333"><tspan font-style="italic">p</tspan>=0.0086</text>
<text x="473.20" y="765.23" font-size="15.3" font-weight="bold">N.</text>
<line x1="518.50" y1="771.90" x2="518.50" y2="853.30" stroke="#000" stroke-width="1.1" />
<line x1="515.00" y1="849.80" x2="518.50" y2="849.80" stroke="#000" stroke-width="1.1" />
<text x="514.00" y="852.90" font-size="9.0" text-anchor="end">0</text>
<line x1="515.00" y1="834.22" x2="518.50" y2="834.22" stroke="#000" stroke-width="1.1" />
<text x="514.00" y="837.32" font-size="9.0" text-anchor="end">20</text>
<line x1="515.00" y1="818.64" x2="518.50" y2="818.64" stroke="#000" stroke-width="1.1" />
<text x="514.00" y="821.74" font-size="9.0" text-anchor="end">40</text>
<line x1="515.00" y1="803.06" x2="518.50" y2="803.06" stroke="#000" stroke-width="1.1" />
<text x="514.00" y="806.16" font-size="9.0" text-anchor="end">60</text>
<line x1="515.00" y1="787.48" x2="518.50" y2="787.48" stroke="#000" stroke-width="1.1" />
<text x="514.00" y="790.58" font-size="9.0" text-anchor="end">80</text>
<line x1="515.00" y1="771.90" x2="518.50" y2="771.90" stroke="#000" stroke-width="1.1" />
<text x="514.00" y="775.00" font-size="9.0" text-anchor="end">100</text>
<line x1="518.50" y1="849.80" x2="651.80" y2="849.80" stroke="#000" stroke-width="1.1" />
<line x1="518.50" y1="849.80" x2="518.50" y2="853.00" stroke="#000" stroke-width="1.1" />
<text x="520.30" y="859.30" font-size="9.0" text-anchor="end" transform="rotate(-45 520.30 859.30)">0</text>
<line x1="531.83" y1="849.80" x2="531.83" y2="853.00" stroke="#000" stroke-width="1.1" />
<text x="533.63" y="859.30" font-size="9.0" text-anchor="end" transform="rotate(-45 533.63 859.30)">24</text>
<line x1="545.16" y1="849.80" x2="545.16" y2="853.00" stroke="#000" stroke-width="1.1" />
<text x="546.96" y="859.30" font-size="9.0" text-anchor="end" transform="rotate(-45 546.96 859.30)">48</text>
<line x1="558.49" y1="849.80" x2="558.49" y2="853.00" stroke="#000" stroke-width="1.1" />
<text x="560.29" y="859.30" font-size="9.0" text-anchor="end" transform="rotate(-45 560.29 859.30)">72</text>
<line x1="571.82" y1="849.80" x2="571.82" y2="853.00" stroke="#000" stroke-width="1.1" />
<text x="573.62" y="859.30" font-size="9.0" text-anchor="end" transform="rotate(-45 573.62 859.30)">96</text>
<line x1="585.15" y1="849.80" x2="585.15" y2="853.00" stroke="#000" stroke-width="1.1" />
<text x="586.95" y="859.30" font-size="9.0" text-anchor="end" transform="rotate(-45 586.95 859.30)">120</text>
<line x1="598.48" y1="849.80" x2="598.48" y2="853.00" stroke="#000" stroke-width="1.1" />
<text x="600.28" y="859.30" font-size="9.0" text-anchor="end" transform="rotate(-45 600.28 859.30)">144</text>
<line x1="611.81" y1="849.80" x2="611.81" y2="853.00" stroke="#000" stroke-width="1.1" />
<text x="613.61" y="859.30" font-size="9.0" text-anchor="end" transform="rotate(-45 613.61 859.30)">168</text>
<line x1="625.14" y1="849.80" x2="625.14" y2="853.00" stroke="#000" stroke-width="1.1" />
<text x="626.94" y="859.30" font-size="9.0" text-anchor="end" transform="rotate(-45 626.94 859.30)">192</text>
<line x1="638.47" y1="849.80" x2="638.47" y2="853.00" stroke="#000" stroke-width="1.1" />
<text x="640.27" y="859.30" font-size="9.0" text-anchor="end" transform="rotate(-45 640.27 859.30)">216</text>
<line x1="651.80" y1="849.80" x2="651.80" y2="853.00" stroke="#000" stroke-width="1.1" />
<text x="653.60" y="859.30" font-size="9.0" text-anchor="end" transform="rotate(-45 653.60 859.30)">240</text>
<text x="498.00" y="809.00" font-size="8.8" text-anchor="middle" textLength="57.90" fill="#000" transform="rotate(-90 498.00 809.00)">Confluency (%)</text>
<text x="567.70" y="879.66" font-size="9.2" textLength="34.90">Time  (hr)</text>
<path d="M518.50,848.63V849.41M517.20,848.63h2.60M517.20,849.41h2.60M520.72,848.46V849.33M519.42,848.46h2.60M519.42,849.33h2.60M522.94,848.29V849.26M521.64,848.29h2.60M521.64,849.26h2.60M525.16,848.13V849.20M523.87,848.13h2.60M523.87,849.20h2.60M527.39,847.98V849.13M526.09,847.98h2.60M526.09,849.13h2.60M529.61,847.82V849.07M528.31,847.82h2.60M528.31,849.07h2.60M531.83,847.67V849.00M530.53,847.67h2.60M530.53,849.00h2.60M534.05,847.50V848.93M532.75,847.50h2.60M532.75,848.93h2.60M536.27,847.33V848.85M534.97,847.33h2.60M534.97,848.85h2.60M538.50,847.15V848.76M537.20,847.15h2.60M537.20,848.76h2.60M540.72,846.96V848.65M539.42,846.96h2.60M539.42,848.65h2.60M542.94,846.75V848.53M541.64,846.75h2.60M541.64,848.53h2.60M545.16,846.53V848.40M543.86,846.53h2.60M543.86,848.40h2.60M547.38,846.26V848.23M546.08,846.26h2.60M546.08,848.23h2.60M549.60,845.94V848.00M548.30,845.94h2.60M548.30,848.00h2.60M551.83,845.58V847.73M550.53,845.58h2.60M550.53,847.73h2.60M554.05,845.18V847.42M552.75,845.18h2.60M552.75,847.42h2.60M556.27,844.74V847.09M554.97,844.74h2.60M554.97,847.09h2.60M558.49,844.29V846.74M557.19,844.29h2.60M557.19,846.74h2.60M560.71,843.83V846.38M559.41,843.83h2.60M559.41,846.38h2.60M562.93,843.36V846.02M561.63,843.36h2.60M561.63,846.02h2.60M565.15,842.90V845.67M563.86,842.90h2.60M563.86,845.67h2.60M567.38,842.45V845.33M566.08,842.45h2.60M566.08,845.33h2.60M569.60,842.02V845.02M568.30,842.02h2.60M568.30,845.02h2.60M571.82,841.62V844.74M570.52,841.62h2.60M570.52,844.74h2.60M574.04,841.24V844.48M572.74,841.24h2.60M572.74,844.48h2.60M576.26,840.87V844.24M574.96,840.87h2.60M574.96,844.24h2.60M578.49,840.50V844.01M577.19,840.50h2.60M577.19,844.01h2.60M580.71,840.14V843.79M579.41,840.14h2.60M579.41,843.79h2.60M582.93,839.78V843.57M581.63,839.78h2.60M581.63,843.57h2.60M585.15,839.42V843.36M583.85,839.42h2.60M583.85,843.36h2.60M587.37,839.06V843.16M586.07,839.06h2.60M586.07,843.16h2.60M589.59,838.70V842.95M588.29,838.70h2.60M588.29,842.95h2.60M591.81,838.34V842.75M590.51,838.34h2.60M590.51,842.75h2.60M594.04,837.97V842.55M592.74,837.97h2.60M592.74,842.55h2.60M596.26,837.59V842.34M594.96,837.59h2.60M594.96,842.34h2.60M598.48,837.21V842.13M597.18,837.21h2.60M597.18,842.13h2.60M600.70,836.82V841.92M599.40,836.82h2.60M599.40,841.92h2.60M602.92,836.43V841.70M601.62,836.43h2.60M601.62,841.70h2.60M605.14,836.03V841.48M603.85,836.03h2.60M603.85,841.48h2.60M607.37,835.63V841.26M606.07,835.63h2.60M606.07,841.26h2.60M609.59,835.22V841.04M608.29,835.22h2.60M608.29,841.04h2.60M611.81,834.82V840.82M610.51,834.82h2.60M610.51,840.82h2.60M614.03,834.41V840.60M612.73,834.41h2.60M612.73,840.60h2.60M616.25,834.01V840.39M614.95,834.01h2.60M614.95,840.39h2.60M618.47,833.61V840.18M617.17,833.61h2.60M617.17,840.18h2.60M620.70,833.22V839.97M619.40,833.22h2.60M619.40,839.97h2.60M622.92,832.83V839.77M621.62,832.83h2.60M621.62,839.77h2.60M625.14,832.44V839.58M623.84,832.44h2.60M623.84,839.58h2.60M627.36,832.07V839.39M626.06,832.07h2.60M626.06,839.39h2.60M629.58,831.70V839.21M628.28,831.70h2.60M628.28,839.21h2.60M631.80,831.33V839.03M630.50,831.33h2.60M630.50,839.03h2.60M634.03,830.97V838.86M632.73,830.97h2.60M632.73,838.86h2.60M636.25,830.61V838.69M634.95,830.61h2.60M634.95,838.69h2.60M638.47,830.25V838.52M637.17,830.25h2.60M637.17,838.52h2.60M640.69,829.90V838.35M639.39,829.90h2.60M639.39,838.35h2.60M642.91,829.55V838.18M641.61,829.55h2.60M641.61,838.18h2.60M645.13,829.20V838.01M643.84,829.20h2.60M643.84,838.01h2.60M647.36,828.85V837.84M646.06,828.85h2.60M646.06,837.84h2.60M649.58,828.50V837.67M648.28,828.50h2.60M648.28,837.67h2.60M651.80,828.14V837.49M650.50,828.14h2.60M650.50,837.49h2.60" stroke="#008000" stroke-width="0.6" fill="none" />
<path d="M517.40,849.96 L519.60,849.96 L518.50,847.92Z" fill="#008000"/>
<path d="M519.62,849.83 L521.82,849.83 L520.72,847.80Z" fill="#008000"/>
<path d="M521.84,849.71 L524.04,849.71 L522.94,847.68Z" fill="#008000"/>
<path d="M524.06,849.60 L526.26,849.60 L525.16,847.57Z" fill="#008000"/>
<path d="M526.29,849.49 L528.49,849.49 L527.39,847.46Z" fill="#008000"/>
<path d="M528.51,849.38 L530.71,849.38 L529.61,847.35Z" fill="#008000"/>
<path d="M530.73,849.27 L532.93,849.27 L531.83,847.23Z" fill="#008000"/>
<path d="M532.95,849.15 L535.15,849.15 L534.05,847.12Z" fill="#008000"/>
<path d="M535.17,849.03 L537.37,849.03 L536.27,846.99Z" fill="#008000"/>
<path d="M537.39,848.89 L539.60,848.89 L538.50,846.85Z" fill="#008000"/>
<path d="M539.62,848.74 L541.82,848.74 L540.72,846.71Z" fill="#008000"/>
<path d="M541.84,848.58 L544.04,848.58 L542.94,846.54Z" fill="#008000"/>
<path d="M544.06,848.40 L546.26,848.40 L545.16,846.36Z" fill="#008000"/>
<path d="M546.28,848.18 L548.48,848.18 L547.38,846.14Z" fill="#008000"/>
<path d="M548.50,847.91 L550.70,847.91 L549.60,845.87Z" fill="#008000"/>
<path d="M550.73,847.59 L552.93,847.59 L551.83,845.55Z" fill="#008000"/>
<path d="M552.95,847.23 L555.15,847.23 L554.05,845.20Z" fill="#008000"/>
<path d="M555.17,846.85 L557.37,846.85 L556.27,844.82Z" fill="#008000"/>
<path d="M557.39,846.45 L559.59,846.45 L558.49,844.42Z" fill="#008000"/>
<path d="M559.61,846.04 L561.81,846.04 L560.71,844.01Z" fill="#008000"/>
<path d="M561.83,845.63 L564.03,845.63 L562.93,843.59Z" fill="#008000"/>
<path d="M564.05,845.22 L566.25,845.22 L565.15,843.18Z" fill="#008000"/>
<path d="M566.28,844.82 L568.48,844.82 L567.38,842.79Z" fill="#008000"/>
<path d="M568.50,844.45 L570.70,844.45 L569.60,842.42Z" fill="#008000"/>
<path d="M570.72,844.11 L572.92,844.11 L571.82,842.08Z" fill="#008000"/>
<path d="M572.94,843.80 L575.14,843.80 L574.04,841.76Z" fill="#008000"/>
<path d="M575.16,843.49 L577.36,843.49 L576.26,841.46Z" fill="#008000"/>
<path d="M577.38,843.19 L579.59,843.19 L578.49,841.16Z" fill="#008000"/>
<path d="M579.61,842.90 L581.81,842.90 L580.71,840.86Z" fill="#008000"/>
<path d="M581.83,842.61 L584.03,842.61 L582.93,840.58Z" fill="#008000"/>
<path d="M584.05,842.33 L586.25,842.33 L585.15,840.29Z" fill="#008000"/>
<path d="M586.27,842.04 L588.47,842.04 L587.37,840.01Z" fill="#008000"/>
<path d="M588.49,841.76 L590.69,841.76 L589.59,839.73Z" fill="#008000"/>
<path d="M590.71,841.48 L592.91,841.48 L591.81,839.44Z" fill="#008000"/>
<path d="M592.94,841.19 L595.14,841.19 L594.04,839.16Z" fill="#008000"/>
<path d="M595.16,840.90 L597.36,840.90 L596.26,838.87Z" fill="#008000"/>
<path d="M597.38,840.61 L599.58,840.61 L598.48,838.57Z" fill="#008000"/>
<path d="M599.60,840.31 L601.80,840.31 L600.70,838.27Z" fill="#008000"/>
<path d="M601.82,840.00 L604.02,840.00 L602.92,837.97Z" fill="#008000"/>
<path d="M604.04,839.69 L606.25,839.69 L605.14,837.66Z" fill="#008000"/>
<path d="M606.27,839.38 L608.47,839.38 L607.37,837.35Z" fill="#008000"/>
<path d="M608.49,839.07 L610.69,839.07 L609.59,837.03Z" fill="#008000"/>
<path d="M610.71,838.76 L612.91,838.76 L611.81,836.72Z" fill="#008000"/>
<path d="M612.93,838.44 L615.13,838.44 L614.03,836.41Z" fill="#008000"/>
<path d="M615.15,838.14 L617.35,838.14 L616.25,836.10Z" fill="#008000"/>
<path d="M617.37,837.83 L619.57,837.83 L618.47,835.80Z" fill="#008000"/>
<path d="M619.60,837.53 L621.80,837.53 L620.70,835.49Z" fill="#008000"/>
<path d="M621.82,837.23 L624.02,837.23 L622.92,835.20Z" fill="#008000"/>
<path d="M624.04,836.95 L626.24,836.95 L625.14,834.91Z" fill="#008000"/>
<path d="M626.26,836.67 L628.46,836.67 L627.36,834.63Z" fill="#008000"/>
<path d="M628.48,836.39 L630.68,836.39 L629.58,834.35Z" fill="#008000"/>
<path d="M630.70,836.12 L632.90,836.12 L631.80,834.08Z" fill="#008000"/>
<path d="M632.93,835.85 L635.13,835.85 L634.03,833.81Z" fill="#008000"/>
<path d="M635.15,835.59 L637.35,835.59 L636.25,833.55Z" fill="#008000"/>
<path d="M637.37,835.32 L639.57,835.32 L638.47,833.29Z" fill="#008000"/>
<path d="M639.59,835.06 L641.79,835.06 L640.69,833.03Z" fill="#008000"/>
<path d="M641.81,834.80 L644.01,834.80 L642.91,832.77Z" fill="#008000"/>
<path d="M644.03,834.54 L646.24,834.54 L645.13,832.51Z" fill="#008000"/>
<path d="M646.26,834.28 L648.46,834.28 L647.36,832.25Z" fill="#008000"/>
<path d="M648.48,834.02 L650.68,834.02 L649.58,831.98Z" fill="#008000"/>
<path d="M650.70,833.75 L652.90,833.75 L651.80,831.72Z" fill="#008000"/>
<path d="M518.50,848.63V849.41M517.20,848.63h2.60M517.20,849.41h2.60M520.72,848.39V849.40M519.42,848.39h2.60M519.42,849.40h2.60M522.94,848.15V849.41M521.64,848.15h2.60M521.64,849.41h2.60M525.16,847.91V849.42M523.87,847.91h2.60M523.87,849.42h2.60M527.39,847.65V849.43M526.09,847.65h2.60M526.09,849.43h2.60M529.61,847.38V849.42M528.31,847.38h2.60M528.31,849.42h2.60M531.83,847.09V849.40M530.53,847.09h2.60M530.53,849.40h2.60M534.05,846.76V849.35M532.75,846.76h2.60M532.75,849.35h2.60M536.27,846.42V849.28M534.97,846.42h2.60M534.97,849.28h2.60M538.50,846.04V849.18M537.20,846.04h2.60M537.20,849.18h2.60M540.72,845.63V849.05M539.42,845.63h2.60M539.42,849.05h2.60M542.94,845.19V848.88M541.64,845.19h2.60M541.64,848.88h2.60M545.16,844.70V848.66M543.86,844.70h2.60M543.86,848.66h2.60M547.38,844.15V848.37M546.08,844.15h2.60M546.08,848.37h2.60M549.60,843.49V847.97M548.30,843.49h2.60M548.30,847.97h2.60M551.83,842.75V847.47M550.53,842.75h2.60M550.53,847.47h2.60M554.05,841.93V846.88M552.75,841.93h2.60M552.75,846.88h2.60M556.27,841.04V846.21M554.97,841.04h2.60M554.97,846.21h2.60M558.49,840.10V845.48M557.19,840.10h2.60M557.19,845.48h2.60M560.71,839.05V844.62M559.41,839.05h2.60M559.41,844.62h2.60M562.93,837.84V843.58M561.63,837.84h2.60M561.63,843.58h2.60M565.15,836.49V842.39M563.86,836.49h2.60M563.86,842.39h2.60M567.38,835.04V841.07M566.08,835.04h2.60M566.08,841.07h2.60M569.60,833.49V839.64M568.30,833.49h2.60M568.30,839.64h2.60M571.82,831.88V838.12M570.52,831.88h2.60M570.52,838.12h2.60M574.04,830.13V836.44M572.74,830.13h2.60M572.74,836.44h2.60M576.26,828.18V834.55M574.96,828.18h2.60M574.96,834.55h2.60M578.49,826.07V832.51M577.19,826.07h2.60M577.19,832.51h2.60M580.71,823.84V830.35M579.41,823.84h2.60M579.41,830.35h2.60M582.93,821.54V828.11M581.63,821.54h2.60M581.63,828.11h2.60M585.15,819.22V825.85M583.85,819.22h2.60M583.85,825.85h2.60M587.37,816.75V823.43M586.07,816.75h2.60M586.07,823.43h2.60M589.59,814.07V820.80M588.29,814.07h2.60M588.29,820.80h2.60M591.81,811.29V818.08M590.51,811.29h2.60M590.51,818.08h2.60M594.04,808.56V815.40M592.74,808.56h2.60M592.74,815.40h2.60M596.26,806.00V812.88M594.96,806.00h2.60M594.96,812.88h2.60M598.48,803.73V810.65M597.18,803.73h2.60M597.18,810.65h2.60M600.70,801.71V808.68M599.40,801.71h2.60M599.40,808.68h2.60M602.92,799.82V806.83M601.62,799.82h2.60M601.62,806.83h2.60M605.14,798.05V805.10M603.85,798.05h2.60M603.85,805.10h2.60M607.37,796.37V803.46M606.07,796.37h2.60M606.07,803.46h2.60M609.59,794.78V801.90M608.29,794.78h2.60M608.29,801.90h2.60M611.81,793.25V800.41M610.51,793.25h2.60M610.51,800.41h2.60M614.03,791.75V798.94M612.73,791.75h2.60M612.73,798.94h2.60M616.25,790.26V797.49M614.95,790.26h2.60M614.95,797.49h2.60M618.47,788.84V796.10M617.17,788.84h2.60M617.17,796.10h2.60M620.70,787.52V794.82M619.40,787.52h2.60M619.40,794.82h2.60M622.92,786.35V793.67M621.62,786.35h2.60M621.62,793.67h2.60M625.14,785.36V792.72M623.84,785.36h2.60M623.84,792.72h2.60M627.36,784.52V791.91M626.06,784.52h2.60M626.06,791.91h2.60M629.58,783.76V791.19M628.28,783.76h2.60M628.28,791.19h2.60M631.80,783.08V790.53M630.50,783.08h2.60M630.50,790.53h2.60M634.03,782.46V789.95M632.73,782.46h2.60M632.73,789.95h2.60M636.25,781.89V789.41M634.95,781.89h2.60M634.95,789.41h2.60M638.47,781.36V788.92M637.17,781.36h2.60M637.17,788.92h2.60M640.69,780.89V788.48M639.39,780.89h2.60M639.39,788.48h2.60M642.91,780.46V788.09M641.61,780.46h2.60M641.61,788.09h2.60M645.13,780.07V787.74M643.84,780.07h2.60M643.84,787.74h2.60M647.36,779.69V787.40M646.06,779.69h2.60M646.06,787.40h2.60M649.58,779.31V787.06M648.28,779.31h2.60M648.28,787.06h2.60M651.80,778.91V786.70M650.50,778.91h2.60M650.50,786.70h2.60" stroke="#0000ff" stroke-width="0.6" fill="none" />
<rect x="517.40" y="847.92" width="2.20" height="2.20" fill="#0000ff"/>
<rect x="519.62" y="847.80" width="2.20" height="2.20" fill="#0000ff"/>
<rect x="521.84" y="847.68" width="2.20" height="2.20" fill="#0000ff"/>
<rect x="524.06" y="847.56" width="2.20" height="2.20" fill="#0000ff"/>
<rect x="526.29" y="847.44" width="2.20" height="2.20" fill="#0000ff"/>
<rect x="528.51" y="847.30" width="2.20" height="2.20" fill="#0000ff"/>
<rect x="530.73" y="847.14" width="2.20" height="2.20" fill="#0000ff"/>
<rect x="532.95" y="846.96" width="2.20" height="2.20" fill="#0000ff"/>
<rect x="535.17" y="846.75" width="2.20" height="2.20" fill="#0000ff"/>
<rect x="537.39" y="846.51" width="2.20" height="2.20" fill="#0000ff"/>
<rect x="539.62" y="846.24" width="2.20" height="2.20" fill="#0000ff"/>
<rect x="541.84" y="845.93" width="2.20" height="2.20" fill="#0000ff"/>
<rect x="544.06" y="845.58" width="2.20" height="2.20" fill="#0000ff"/>
<rect x="546.28" y="845.16" width="2.20" height="2.20" fill="#0000ff"/>
<rect x="548.50" y="844.63" width="2.20" height="2.20" fill="#0000ff"/>
<rect x="550.73" y="844.01" width="2.20" height="2.20" fill="#0000ff"/>
<rect x="552.95" y="843.30" width="2.20" height="2.20" fill="#0000ff"/>
<rect x="555.17" y="842.53" width="2.20" height="2.20" fill="#0000ff"/>
<rect x="557.39" y="841.69" width="2.20" height="2.20" fill="#0000ff"/>
<rect x="559.61" y="840.73" width="2.20" height="2.20" fill="#0000ff"/>
<rect x="561.83" y="839.61" width="2.20" height="2.20" fill="#0000ff"/>
<rect x="564.05" y="838.34" width="2.20" height="2.20" fill="#0000ff"/>
<rect x="566.28" y="836.95" width="2.20" height="2.20" fill="#0000ff"/>
<rect x="568.50" y="835.47" width="2.20" height="2.20" fill="#0000ff"/>
<rect x="570.72" y="833.90" width="2.20" height="2.20" fill="#0000ff"/>
<rect x="572.94" y="832.18" width="2.20" height="2.20" fill="#0000ff"/>
<rect x="575.16" y="830.27" width="2.20" height="2.20" fill="#0000ff"/>
<rect x="577.38" y="828.19" width="2.20" height="2.20" fill="#0000ff"/>
<rect x="579.61" y="825.99" width="2.20" height="2.20" fill="#0000ff"/>
<rect x="581.83" y="823.73" width="2.20" height="2.20" fill="#0000ff"/>
<rect x="584.05" y="821.43" width="2.20" height="2.20" fill="#0000ff"/>
<rect x="586.27" y="818.99" width="2.20" height="2.20" fill="#0000ff"/>
<rect x="588.49" y="816.33" width="2.20" height="2.20" fill="#0000ff"/>
<rect x="590.71" y="813.59" width="2.20" height="2.20" fill="#0000ff"/>
<rect x="592.94" y="810.88" width="2.20" height="2.20" fill="#0000ff"/>
<rect x="595.16" y="808.34" width="2.20" height="2.20" fill="#0000ff"/>
<rect x="597.38" y="806.09" width="2.20" height="2.20" fill="#0000ff"/>
<rect x="599.60" y="804.10" width="2.20" height="2.20" fill="#0000ff"/>
<rect x="601.82" y="802.23" width="2.20" height="2.20" fill="#0000ff"/>
<rect x="604.04" y="800.47" width="2.20" height="2.20" fill="#0000ff"/>
<rect x="606.27" y="798.82" width="2.20" height="2.20" fill="#0000ff"/>
<rect x="608.49" y="797.24" width="2.20" height="2.20" fill="#0000ff"/>
<rect x="610.71" y="795.73" width="2.20" height="2.20" fill="#0000ff"/>
<rect x="612.93" y="794.24" width="2.20" height="2.20" fill="#0000ff"/>
<rect x="615.15" y="792.78" width="2.20" height="2.20" fill="#0000ff"/>
<rect x="617.37" y="791.37" width="2.20" height="2.20" fill="#0000ff"/>
<rect x="619.60" y="790.07" width="2.20" height="2.20" fill="#0000ff"/>
<rect x="621.82" y="788.91" width="2.20" height="2.20" fill="#0000ff"/>
<rect x="624.04" y="787.94" width="2.20" height="2.20" fill="#0000ff"/>
<rect x="626.26" y="787.12" width="2.20" height="2.20" fill="#0000ff"/>
<rect x="628.48" y="786.38" width="2.20" height="2.20" fill="#0000ff"/>
<rect x="630.70" y="785.71" width="2.20" height="2.20" fill="#0000ff"/>
<rect x="632.93" y="785.10" width="2.20" height="2.20" fill="#0000ff"/>
<rect x="635.15" y="784.55" width="2.20" height="2.20" fill="#0000ff"/>
<rect x="637.37" y="784.04" width="2.20" height="2.20" fill="#0000ff"/>
<rect x="639.59" y="783.59" width="2.20" height="2.20" fill="#0000ff"/>
<rect x="641.81" y="783.18" width="2.20" height="2.20" fill="#0000ff"/>
<rect x="644.03" y="782.80" width="2.20" height="2.20" fill="#0000ff"/>
<rect x="646.26" y="782.44" width="2.20" height="2.20" fill="#0000ff"/>
<rect x="648.48" y="782.08" width="2.20" height="2.20" fill="#0000ff"/>
<rect x="650.70" y="781.71" width="2.20" height="2.20" fill="#0000ff"/>
<path d="M518.50,847.46V849.02M517.20,847.46h2.60M517.20,849.02h2.60M520.72,846.94V849.30M519.42,846.94h2.60M519.42,849.30h2.60M522.94,846.42V849.60M521.64,846.42h2.60M521.64,849.60h2.60M525.16,845.90V849.80M523.87,845.90h2.60M523.87,849.80h2.60M527.39,845.37V849.80M526.09,845.37h2.60M526.09,849.80h2.60M529.61,844.86V849.80M528.31,844.86h2.60M528.31,849.80h2.60M531.83,844.35V849.80M530.53,844.35h2.60M530.53,849.80h2.60M534.05,843.83V849.80M532.75,843.83h2.60M532.75,849.80h2.60M536.27,843.27V849.80M534.97,843.27h2.60M534.97,849.80h2.60M538.50,842.67V849.80M537.20,842.67h2.60M537.20,849.80h2.60M540.72,842.01V849.80M539.42,842.01h2.60M539.42,849.80h2.60M542.94,841.27V849.80M541.64,841.27h2.60M541.64,849.80h2.60M545.16,840.45V849.80M543.86,840.45h2.60M543.86,849.80h2.60M547.38,839.46V849.69M546.08,839.46h2.60M546.08,849.69h2.60M549.60,838.26V849.65M548.30,838.26h2.60M548.30,849.65h2.60M551.83,836.91V849.59M550.53,836.91h2.60M550.53,849.59h2.60M554.05,835.49V849.39M552.75,835.49h2.60M552.75,849.39h2.60M556.27,834.05V848.98M554.97,834.05h2.60M554.97,848.98h2.60M558.49,832.66V848.24M557.19,832.66h2.60M557.19,848.24h2.60M560.71,831.05V847.04M559.41,831.05h2.60M559.41,847.04h2.60M562.93,829.01V845.36M561.63,829.01h2.60M561.63,845.36h2.60M565.15,826.68V843.35M563.86,826.68h2.60M563.86,843.35h2.60M567.38,824.20V841.12M566.08,824.20h2.60M566.08,841.12h2.60M569.60,821.73V838.81M568.30,821.73h2.60M568.30,838.81h2.60M571.82,819.42V836.56M570.52,819.42h2.60M570.52,836.56h2.60M574.04,817.26V834.19M572.74,817.26h2.60M572.74,834.19h2.60M576.26,815.15V831.57M574.96,815.15h2.60M574.96,831.57h2.60M578.49,813.09V828.82M577.19,813.09h2.60M577.19,828.82h2.60M580.71,811.06V826.07M579.41,811.06h2.60M579.41,826.07h2.60M582.93,809.07V823.47M581.63,809.07h2.60M581.63,823.47h2.60M585.15,807.11V821.13M583.85,807.11h2.60M583.85,821.13h2.60M587.37,805.21V819.03M586.07,805.21h2.60M586.07,819.03h2.60M589.59,803.38V817.02M588.29,803.38h2.60M588.29,817.02h2.60M591.81,801.61V815.08M590.51,801.61h2.60M590.51,815.08h2.60M594.04,799.90V813.20M592.74,799.90h2.60M592.74,813.20h2.60M596.26,798.21V811.37M594.96,798.21h2.60M594.96,811.37h2.60M598.48,796.55V809.57M597.18,796.55h2.60M597.18,809.57h2.60M600.70,794.87V807.76M599.40,794.87h2.60M599.40,807.76h2.60M602.92,793.19V805.95M601.62,793.19h2.60M601.62,805.95h2.60M605.14,791.53V804.18M603.85,791.53h2.60M603.85,804.18h2.60M607.37,789.94V802.49M606.07,789.94h2.60M606.07,802.49h2.60M609.59,788.47V800.91M608.29,788.47h2.60M608.29,800.91h2.60M611.81,787.15V799.50M610.51,787.15h2.60M610.51,799.50h2.60M614.03,785.96V798.21M612.73,785.96h2.60M612.73,798.21h2.60M616.25,784.84V797.01M614.95,784.84h2.60M614.95,797.01h2.60M618.47,783.79V795.88M617.17,783.79h2.60M617.17,795.88h2.60M620.70,782.81V794.83M619.40,782.81h2.60M619.40,794.83h2.60M622.92,781.91V793.85M621.62,781.91h2.60M621.62,793.85h2.60M625.14,781.08V792.95M623.84,781.08h2.60M623.84,792.95h2.60M627.36,780.30V792.09M626.06,780.30h2.60M626.06,792.09h2.60M629.58,779.55V791.27M628.28,779.55h2.60M628.28,791.27h2.60M631.80,778.85V790.50M630.50,778.85h2.60M630.50,790.50h2.60M634.03,778.21V789.79M632.73,778.21h2.60M632.73,789.79h2.60M636.25,777.64V789.15M634.95,777.64h2.60M634.95,789.15h2.60M638.47,777.17V788.60M637.17,777.17h2.60M637.17,788.60h2.60M640.69,776.78V788.13M639.39,776.78h2.60M639.39,788.13h2.60M642.91,776.44V787.72M641.61,776.44h2.60M641.61,787.72h2.60M645.13,776.15V787.34M643.84,776.15h2.60M643.84,787.34h2.60M647.36,775.88V786.98M646.06,775.88h2.60M646.06,786.98h2.60M649.58,775.61V786.62M648.28,775.61h2.60M648.28,786.62h2.60M651.80,775.33V786.23M650.50,775.33h2.60M650.50,786.23h2.60" stroke="#ff0000" stroke-width="0.6" fill="none" />
<path d="M517.30,849.26 L519.70,849.26 L518.50,847.04Z" fill="#ff0000"/>
<path d="M519.52,849.14 L521.92,849.14 L520.72,846.92Z" fill="#ff0000"/>
<path d="M521.74,849.03 L524.14,849.03 L522.94,846.81Z" fill="#ff0000"/>
<path d="M523.96,848.92 L526.37,848.92 L525.16,846.70Z" fill="#ff0000"/>
<path d="M526.19,848.80 L528.59,848.80 L527.39,846.58Z" fill="#ff0000"/>
<path d="M528.41,848.66 L530.81,848.66 L529.61,846.44Z" fill="#ff0000"/>
<path d="M530.63,848.48 L533.03,848.48 L531.83,846.26Z" fill="#ff0000"/>
<path d="M532.85,848.25 L535.25,848.25 L534.05,846.03Z" fill="#ff0000"/>
<path d="M535.07,847.93 L537.47,847.93 L536.27,845.71Z" fill="#ff0000"/>
<path d="M537.29,847.56 L539.70,847.56 L538.50,845.34Z" fill="#ff0000"/>
<path d="M539.52,847.13 L541.92,847.13 L540.72,844.91Z" fill="#ff0000"/>
<path d="M541.74,846.65 L544.14,846.65 L542.94,844.43Z" fill="#ff0000"/>
<path d="M543.96,846.15 L546.36,846.15 L545.16,843.93Z" fill="#ff0000"/>
<path d="M546.18,845.60 L548.58,845.60 L547.38,843.38Z" fill="#ff0000"/>
<path d="M548.40,844.98 L550.80,844.98 L549.60,842.76Z" fill="#ff0000"/>
<path d="M550.62,844.27 L553.03,844.27 L551.83,842.05Z" fill="#ff0000"/>
<path d="M552.85,843.46 L555.25,843.46 L554.05,841.24Z" fill="#ff0000"/>
<path d="M555.07,842.53 L557.47,842.53 L556.27,840.31Z" fill="#ff0000"/>
<path d="M557.29,841.47 L559.69,841.47 L558.49,839.25Z" fill="#ff0000"/>
<path d="M559.51,840.07 L561.91,840.07 L560.71,837.85Z" fill="#ff0000"/>
<path d="M561.73,838.21 L564.13,838.21 L562.93,835.99Z" fill="#ff0000"/>
<path d="M563.95,836.03 L566.36,836.03 L565.15,833.81Z" fill="#ff0000"/>
<path d="M566.18,833.68 L568.58,833.68 L567.38,831.46Z" fill="#ff0000"/>
<path d="M568.40,831.29 L570.80,831.29 L569.60,829.07Z" fill="#ff0000"/>
<path d="M570.62,829.01 L573.02,829.01 L571.82,826.79Z" fill="#ff0000"/>
<path d="M572.84,826.75 L575.24,826.75 L574.04,824.53Z" fill="#ff0000"/>
<path d="M575.06,824.38 L577.46,824.38 L576.26,822.16Z" fill="#ff0000"/>
<path d="M577.28,821.97 L579.69,821.97 L578.49,819.75Z" fill="#ff0000"/>
<path d="M579.51,819.59 L581.91,819.59 L580.71,817.37Z" fill="#ff0000"/>
<path d="M581.73,817.29 L584.13,817.29 L582.93,815.07Z" fill="#ff0000"/>
<path d="M583.95,815.14 L586.35,815.14 L585.15,812.92Z" fill="#ff0000"/>
<path d="M586.17,813.14 L588.57,813.14 L587.37,810.92Z" fill="#ff0000"/>
<path d="M588.39,811.22 L590.79,811.22 L589.59,809.00Z" fill="#ff0000"/>
<path d="M590.61,809.37 L593.01,809.37 L591.81,807.15Z" fill="#ff0000"/>
<path d="M592.84,807.57 L595.24,807.57 L594.04,805.35Z" fill="#ff0000"/>
<path d="M595.06,805.81 L597.46,805.81 L596.26,803.59Z" fill="#ff0000"/>
<path d="M597.28,804.08 L599.68,804.08 L598.48,801.86Z" fill="#ff0000"/>
<path d="M599.50,802.34 L601.90,802.34 L600.70,800.12Z" fill="#ff0000"/>
<path d="M601.72,800.59 L604.12,800.59 L602.92,798.37Z" fill="#ff0000"/>
<path d="M603.94,798.87 L606.35,798.87 L605.14,796.65Z" fill="#ff0000"/>
<path d="M606.17,797.23 L608.57,797.23 L607.37,795.01Z" fill="#ff0000"/>
<path d="M608.39,795.71 L610.79,795.71 L609.59,793.49Z" fill="#ff0000"/>
<path d="M610.61,794.34 L613.01,794.34 L611.81,792.12Z" fill="#ff0000"/>
<path d="M612.83,793.10 L615.23,793.10 L614.03,790.88Z" fill="#ff0000"/>
<path d="M615.05,791.94 L617.45,791.94 L616.25,789.72Z" fill="#ff0000"/>
<path d="M617.27,790.85 L619.67,790.85 L618.47,788.63Z" fill="#ff0000"/>
<path d="M619.50,789.84 L621.90,789.84 L620.70,787.62Z" fill="#ff0000"/>
<path d="M621.72,788.90 L624.12,788.90 L622.92,786.68Z" fill="#ff0000"/>
<path d="M623.94,788.03 L626.34,788.03 L625.14,785.81Z" fill="#ff0000"/>
<path d="M626.16,787.21 L628.56,787.21 L627.36,784.99Z" fill="#ff0000"/>
<path d="M628.38,786.43 L630.78,786.43 L629.58,784.21Z" fill="#ff0000"/>
<path d="M630.60,785.69 L633.00,785.69 L631.80,783.47Z" fill="#ff0000"/>
<path d="M632.83,785.02 L635.23,785.02 L634.03,782.80Z" fill="#ff0000"/>
<path d="M635.05,784.42 L637.45,784.42 L636.25,782.20Z" fill="#ff0000"/>
<path d="M637.27,783.90 L639.67,783.90 L638.47,781.68Z" fill="#ff0000"/>
<path d="M639.49,783.47 L641.89,783.47 L640.69,781.25Z" fill="#ff0000"/>
<path d="M641.71,783.10 L644.11,783.10 L642.91,780.88Z" fill="#ff0000"/>
<path d="M643.93,782.77 L646.34,782.77 L645.13,780.55Z" fill="#ff0000"/>
<path d="M646.16,782.45 L648.56,782.45 L647.36,780.23Z" fill="#ff0000"/>
<path d="M648.38,782.14 L650.78,782.14 L649.58,779.92Z" fill="#ff0000"/>
<path d="M650.60,781.80 L653.00,781.80 L651.80,779.58Z" fill="#ff0000"/>
<path d="M518.50,848.63V849.41M516.90,848.63h3.20M516.90,849.41h3.20M520.72,848.29V849.25M519.12,848.29h3.20M519.12,849.25h3.20M522.94,847.95V849.09M521.34,847.95h3.20M521.34,849.09h3.20M525.16,847.63V848.93M523.56,847.63h3.20M523.56,848.93h3.20M527.39,847.30V848.76M525.79,847.30h3.20M525.79,848.76h3.20M529.61,846.95V848.57M528.01,846.95h3.20M528.01,848.57h3.20M531.83,846.57V848.36M530.23,846.57h3.20M530.23,848.36h3.20M534.05,846.17V848.14M532.45,846.17h3.20M532.45,848.14h3.20M536.27,845.76V847.91M534.67,845.76h3.20M534.67,847.91h3.20M538.50,845.31V847.67M536.89,845.31h3.20M536.89,847.67h3.20M540.72,844.81V847.40M539.12,844.81h3.20M539.12,847.40h3.20M542.94,844.24V847.07M541.34,844.24h3.20M541.34,847.07h3.20M545.16,843.57V846.68M543.56,843.57h3.20M543.56,846.68h3.20M547.38,842.70V846.19M545.78,842.70h3.20M545.78,846.19h3.20M549.60,841.58V845.54M548.00,841.58h3.20M548.00,845.54h3.20M551.83,840.25V844.75M550.23,840.25h3.20M550.23,844.75h3.20M554.05,838.72V843.82M552.45,838.72h3.20M552.45,843.82h3.20M556.27,837.05V842.73M554.67,837.05h3.20M554.67,842.73h3.20M558.49,835.13V841.36M556.89,835.13h3.20M556.89,841.36h3.20M560.71,832.76V839.54M559.11,832.76h3.20M559.11,839.54h3.20M562.93,830.04V837.39M561.33,830.04h3.20M561.33,837.39h3.20M565.15,827.08V835.00M563.55,827.08h3.20M563.55,835.00h3.20M567.38,823.99V832.45M565.78,823.99h3.20M565.78,832.45h3.20M569.60,820.65V829.60M568.00,820.65h3.20M568.00,829.60h3.20M571.82,816.96V826.30M570.22,816.96h3.20M570.22,826.30h3.20M574.04,813.03V822.74M572.44,813.03h3.20M572.44,822.74h3.20M576.26,809.00V819.06M574.66,809.00h3.20M574.66,819.06h3.20M578.49,805.00V815.39M576.88,805.00h3.20M576.88,815.39h3.20M580.71,800.75V811.40M579.11,800.75h3.20M579.11,811.40h3.20M582.93,796.34V807.18M581.33,796.34h3.20M581.33,807.18h3.20M585.15,792.10V803.01M583.55,792.10h3.20M583.55,803.01h3.20M587.37,788.36V799.21M585.77,788.36h3.20M585.77,799.21h3.20M589.59,785.31V795.98M587.99,785.31h3.20M587.99,795.98h3.20M591.81,782.54V792.96M590.21,782.54h3.20M590.21,792.96h3.20M594.04,780.04V790.14M592.44,780.04h3.20M592.44,790.14h3.20M596.26,777.89V787.63M594.66,777.89h3.20M594.66,787.63h3.20M598.48,776.19V785.54M596.88,776.19h3.20M596.88,785.54h3.20M600.70,774.98V783.76M599.10,774.98h3.20M599.10,783.76h3.20M602.92,774.06V781.99M601.32,774.06h3.20M601.32,781.99h3.20M605.14,773.38V780.34M603.54,773.38h3.20M603.54,780.34h3.20M607.37,772.89V778.89M605.77,772.89h3.20M605.77,778.89h3.20M609.59,772.57V777.75M607.99,772.57h3.20M607.99,777.75h3.20M611.81,772.29V776.97M610.21,772.29h3.20M610.21,776.97h3.20M614.03,771.98V776.35M612.43,771.98h3.20M612.43,776.35h3.20M616.25,771.70V775.80M614.65,771.70h3.20M614.65,775.80h3.20M618.47,771.47V775.33M616.87,771.47h3.20M616.87,775.33h3.20M620.70,771.29V774.92M619.10,771.29h3.20M619.10,774.92h3.20M622.92,771.15V774.58M621.32,771.15h3.20M621.32,774.58h3.20M625.14,771.05V774.30M623.54,771.05h3.20M623.54,774.30h3.20M627.36,770.99V774.07M625.76,770.99h3.20M625.76,774.07h3.20M629.58,770.93V773.86M627.98,770.93h3.20M627.98,773.86h3.20M631.80,770.88V773.68M630.20,770.88h3.20M630.20,773.68h3.20M634.03,770.85V773.51M632.43,770.85h3.20M632.43,773.51h3.20M636.25,770.82V773.35M634.65,770.82h3.20M634.65,773.35h3.20M638.47,770.80V773.20M636.87,770.80h3.20M636.87,773.20h3.20M640.69,770.78V773.06M639.09,770.78h3.20M639.09,773.06h3.20M642.91,770.77V772.92M641.31,770.77h3.20M641.31,772.92h3.20M645.13,770.76V772.78M643.53,770.76h3.20M643.53,772.78h3.20M647.36,770.75V772.63M645.76,770.75h3.20M645.76,772.63h3.20M649.58,770.74V772.46M647.98,770.74h3.20M647.98,772.46h3.20M651.80,770.73V772.29M650.20,770.73h3.20M650.20,772.29h3.20" stroke="#444" stroke-width="0.6" fill="none" />
<circle cx="518.50" cy="849.02" r="1.30" fill="#444"/>
<circle cx="520.72" cy="848.77" r="1.30" fill="#444"/>
<circle cx="522.94" cy="848.52" r="1.30" fill="#444"/>
<circle cx="525.16" cy="848.28" r="1.30" fill="#444"/>
<circle cx="527.39" cy="848.03" r="1.30" fill="#444"/>
<circle cx="529.61" cy="847.76" r="1.30" fill="#444"/>
<circle cx="531.83" cy="847.46" r="1.30" fill="#444"/>
<circle cx="534.05" cy="847.15" r="1.30" fill="#444"/>
<circle cx="536.27" cy="846.84" r="1.30" fill="#444"/>
<circle cx="538.50" cy="846.49" r="1.30" fill="#444"/>
<circle cx="540.72" cy="846.11" r="1.30" fill="#444"/>
<circle cx="542.94" cy="845.66" r="1.30" fill="#444"/>
<circle cx="545.16" cy="845.13" r="1.30" fill="#444"/>
<circle cx="547.38" cy="844.44" r="1.30" fill="#444"/>
<circle cx="549.60" cy="843.56" r="1.30" fill="#444"/>
<circle cx="551.83" cy="842.50" r="1.30" fill="#444"/>
<circle cx="554.05" cy="841.27" r="1.30" fill="#444"/>
<circle cx="556.27" cy="839.89" r="1.30" fill="#444"/>
<circle cx="558.49" cy="838.24" r="1.30" fill="#444"/>
<circle cx="560.71" cy="836.15" r="1.30" fill="#444"/>
<circle cx="562.93" cy="833.72" r="1.30" fill="#444"/>
<circle cx="565.15" cy="831.04" r="1.30" fill="#444"/>
<circle cx="567.38" cy="828.22" r="1.30" fill="#444"/>
<circle cx="569.60" cy="825.12" r="1.30" fill="#444"/>
<circle cx="571.82" cy="821.63" r="1.30" fill="#444"/>
<circle cx="574.04" cy="817.88" r="1.30" fill="#444"/>
<circle cx="576.26" cy="814.03" r="1.30" fill="#444"/>
<circle cx="578.49" cy="810.20" r="1.30" fill="#444"/>
<circle cx="580.71" cy="806.07" r="1.30" fill="#444"/>
<circle cx="582.93" cy="801.76" r="1.30" fill="#444"/>
<circle cx="585.15" cy="797.56" r="1.30" fill="#444"/>
<circle cx="587.37" cy="793.78" r="1.30" fill="#444"/>
<circle cx="589.59" cy="790.64" r="1.30" fill="#444"/>
<circle cx="591.81" cy="787.75" r="1.30" fill="#444"/>
<circle cx="594.04" cy="785.09" r="1.30" fill="#444"/>
<circle cx="596.26" cy="782.76" r="1.30" fill="#444"/>
<circle cx="598.48" cy="780.86" r="1.30" fill="#444"/>
<circle cx="600.70" cy="779.37" r="1.30" fill="#444"/>
<circle cx="602.92" cy="778.03" r="1.30" fill="#444"/>
<circle cx="605.14" cy="776.86" r="1.30" fill="#444"/>
<circle cx="607.37" cy="775.89" r="1.30" fill="#444"/>
<circle cx="609.59" cy="775.16" r="1.30" fill="#444"/>
<circle cx="611.81" cy="774.63" r="1.30" fill="#444"/>
<circle cx="614.03" cy="774.16" r="1.30" fill="#444"/>
<circle cx="616.25" cy="773.75" r="1.30" fill="#444"/>
<circle cx="618.47" cy="773.40" r="1.30" fill="#444"/>
<circle cx="620.70" cy="773.11" r="1.30" fill="#444"/>
<circle cx="622.92" cy="772.87" r="1.30" fill="#444"/>
<circle cx="625.14" cy="772.68" r="1.30" fill="#444"/>
<circle cx="627.36" cy="772.53" r="1.30" fill="#444"/>
<circle cx="629.58" cy="772.40" r="1.30" fill="#444"/>
<circle cx="631.80" cy="772.28" r="1.30" fill="#444"/>
<circle cx="634.03" cy="772.18" r="1.30" fill="#444"/>
<circle cx="636.25" cy="772.08" r="1.30" fill="#444"/>
<circle cx="638.47" cy="772.00" r="1.30" fill="#444"/>
<circle cx="640.69" cy="771.92" r="1.30" fill="#444"/>
<circle cx="642.91" cy="771.84" r="1.30" fill="#444"/>
<circle cx="645.13" cy="771.77" r="1.30" fill="#444"/>
<circle cx="647.36" cy="771.69" r="1.30" fill="#444"/>
<circle cx="649.58" cy="771.60" r="1.30" fill="#444"/>
<circle cx="651.80" cy="771.51" r="1.30" fill="#444"/>
<circle cx="518.50" cy="849.02" r="1.30" fill="#000"/>
<circle cx="520.72" cy="848.77" r="1.30" fill="#000"/>
<circle cx="522.94" cy="848.52" r="1.30" fill="#000"/>
<circle cx="525.16" cy="848.28" r="1.30" fill="#000"/>
<circle cx="527.39" cy="848.03" r="1.30" fill="#000"/>
<circle cx="529.61" cy="847.76" r="1.30" fill="#000"/>
<circle cx="531.83" cy="847.46" r="1.30" fill="#000"/>
<circle cx="534.05" cy="847.15" r="1.30" fill="#000"/>
<circle cx="536.27" cy="846.84" r="1.30" fill="#000"/>
<circle cx="538.50" cy="846.49" r="1.30" fill="#000"/>
<circle cx="540.72" cy="846.11" r="1.30" fill="#000"/>
<circle cx="542.94" cy="845.66" r="1.30" fill="#000"/>
<circle cx="545.16" cy="845.13" r="1.30" fill="#000"/>
<circle cx="547.38" cy="844.44" r="1.30" fill="#000"/>
<circle cx="549.60" cy="843.56" r="1.30" fill="#000"/>
<circle cx="551.83" cy="842.50" r="1.30" fill="#000"/>
<circle cx="554.05" cy="841.27" r="1.30" fill="#000"/>
<circle cx="556.27" cy="839.89" r="1.30" fill="#000"/>
<circle cx="558.49" cy="838.24" r="1.30" fill="#000"/>
<circle cx="560.71" cy="836.15" r="1.30" fill="#000"/>
<circle cx="562.93" cy="833.72" r="1.30" fill="#000"/>
<circle cx="565.15" cy="831.04" r="1.30" fill="#000"/>
<circle cx="567.38" cy="828.22" r="1.30" fill="#000"/>
<circle cx="569.60" cy="825.12" r="1.30" fill="#000"/>
<circle cx="571.82" cy="821.63" r="1.30" fill="#000"/>
<circle cx="574.04" cy="817.88" r="1.30" fill="#000"/>
<circle cx="576.26" cy="814.03" r="1.30" fill="#000"/>
<circle cx="578.49" cy="810.20" r="1.30" fill="#000"/>
<circle cx="580.71" cy="806.07" r="1.30" fill="#000"/>
<circle cx="582.93" cy="801.76" r="1.30" fill="#000"/>
<circle cx="585.15" cy="797.56" r="1.30" fill="#000"/>
<circle cx="587.37" cy="793.78" r="1.30" fill="#000"/>
<circle cx="589.59" cy="790.64" r="1.30" fill="#000"/>
<circle cx="591.81" cy="787.75" r="1.30" fill="#000"/>
<circle cx="594.04" cy="785.09" r="1.30" fill="#000"/>
<circle cx="596.26" cy="782.76" r="1.30" fill="#000"/>
<circle cx="598.48" cy="780.86" r="1.30" fill="#000"/>
<circle cx="600.70" cy="779.37" r="1.30" fill="#000"/>
<circle cx="602.92" cy="778.03" r="1.30" fill="#000"/>
<circle cx="605.14" cy="776.86" r="1.30" fill="#000"/>
<circle cx="607.37" cy="775.89" r="1.30" fill="#000"/>
<circle cx="609.59" cy="775.16" r="1.30" fill="#000"/>
<circle cx="611.81" cy="774.63" r="1.30" fill="#000"/>
<circle cx="614.03" cy="774.16" r="1.30" fill="#000"/>
<circle cx="616.25" cy="773.75" r="1.30" fill="#000"/>
<circle cx="618.47" cy="773.40" r="1.30" fill="#000"/>
<circle cx="620.70" cy="773.11" r="1.30" fill="#000"/>
<circle cx="622.92" cy="772.87" r="1.30" fill="#000"/>
<circle cx="625.14" cy="772.68" r="1.30" fill="#000"/>
<circle cx="627.36" cy="772.53" r="1.30" fill="#000"/>
<circle cx="629.58" cy="772.40" r="1.30" fill="#000"/>
<circle cx="631.80" cy="772.28" r="1.30" fill="#000"/>
<circle cx="634.03" cy="772.18" r="1.30" fill="#000"/>
<circle cx="636.25" cy="772.08" r="1.30" fill="#000"/>
<circle cx="638.47" cy="772.00" r="1.30" fill="#000"/>
<circle cx="640.69" cy="771.92" r="1.30" fill="#000"/>
<circle cx="642.91" cy="771.84" r="1.30" fill="#000"/>
<circle cx="645.13" cy="771.77" r="1.30" fill="#000"/>
<circle cx="647.36" cy="771.69" r="1.30" fill="#000"/>
<circle cx="649.58" cy="771.60" r="1.30" fill="#000"/>
<circle cx="651.80" cy="771.51" r="1.30" fill="#000"/>
<line x1="516.00" y1="888.50" x2="524.80" y2="888.50" stroke="#000" stroke-width="0.7" />
<circle cx="520.40" cy="888.50" r="1.40" fill="#000"/>
<line x1="516.00" y1="895.60" x2="524.80" y2="895.60" stroke="#ff0000" stroke-width="0.7" />
<path d="M519.00,896.79 L521.80,896.79 L520.40,894.20Z" fill="#ff0000"/>
<line x1="516.00" y1="902.70" x2="524.80" y2="902.70" stroke="#0000ff" stroke-width="0.7" />
<rect x="519.00" y="901.30" width="2.80" height="2.80" fill="#0000ff"/>
<line x1="516.00" y1="909.70" x2="524.80" y2="909.70" stroke="#008000" stroke-width="0.7" />
<path d="M519.00,910.89 L521.80,910.89 L520.40,908.30Z" fill="#008000"/>
<text x="529.50" y="890.87" font-size="6.3" textLength="79.40">-DOX (HORMAD1 negative)</text>
<text x="529.50" y="897.97" font-size="6.3" textLength="78.00">+DOX (HORMAD1 positive)</text>
<text x="529.50" y="905.07" font-size="6.3" textLength="118.80">-DOX (HORMAD negative) +BAY1816032</text>
<text x="529.50" y="912.07" font-size="6.3" textLength="122.30">+DOX (HORMAD1 positive) +BAY 1816032</text>
<line x1="614.30" y1="886.80" x2="614.30" y2="899.80" stroke="#333" stroke-width="0.8" />
<text x="618.80" y="896.41" font-size="7.0" textLength="27.00" fill="#333"><tspan font-style="italic">p</tspan>&lt;0.0001</text>
<line x1="655.80" y1="901.00" x2="655.80" y2="914.70" stroke="#333" stroke-width="0.8" />
<text x="658.80" y="910.21" font-size="7.0" textLength="26.20" fill="#333"><tspan font-style="italic">p</tspan>&lt;0.0001</text>
</svg></body></html>
